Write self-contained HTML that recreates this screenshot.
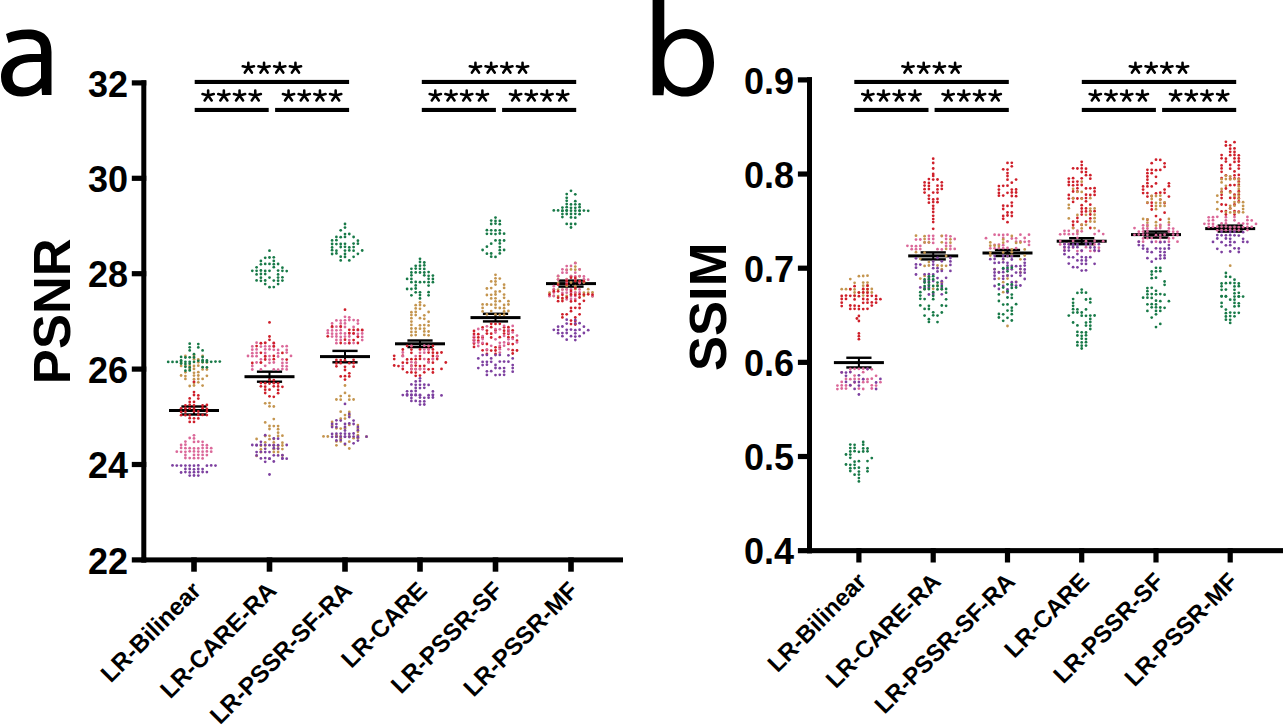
<!DOCTYPE html><html><head><meta charset="utf-8"><title>PSNR SSIM</title><style>
html,body{margin:0;padding:0;background:#fff;width:1283px;height:725px;overflow:hidden}
svg{display:block}text{font-family:"Liberation Sans",sans-serif}
.t{font-weight:bold;font-size:36px}.ax{font-weight:bold;font-size:52.5px}.st{font-size:40px}.xl{font-weight:bold;font-size:24.3px}.xr{font-weight:bold;font-size:24px}
</style></head><body>
<svg width="1283" height="725" viewBox="0 0 1283 725">
<path fill="#000" fill-rule="evenodd" d="M6,34 C12,31 20,29.4 28,29.4 C44,29.4 51.5,37 51.5,52 L51.5,95 L42,95 L41.5,88 C37,93 30,96.5 22,96.5 C9,96.5 1,89 1,77 C1,62 14,54 34,54 L41,54 L41,51 C41,42 36,39 27,39 C20,39 14,40.5 8.5,43 Z M41,62 L34,62 C19,62 12.5,68 12.5,77 C12.5,84 17,87.5 24,87.5 C32,87.5 38,83 41,78 Z"/>
<path fill="#000" fill-rule="evenodd" d="M652.6,0 L664.3,0 L664.3,40 C669,33 677,29 686,29 C703,29 714,43 714,62.5 C714,83 702,96.6 685,96.6 C676,96.6 668,92 664.3,86 L663.5,95.2 L652.6,95.2 Z M664.3,63 C664.3,77 672,87.6 684,87.6 C696,87.6 703,77 703,63 C703,48 696,38.6 684,38.6 C672,38.6 664.3,49 664.3,63 Z"/>
<rect x="141.30" y="80.30" width="5.00" height="482.10" fill="#000"/>
<rect x="141.30" y="557.40" width="481.70" height="5.00" fill="#000"/>
<rect x="131.80" y="80.30" width="14.50" height="5.20" fill="#000"/>
<text class="t" x="128" y="96.5" text-anchor="end">32</text>
<rect x="131.80" y="175.70" width="14.50" height="5.20" fill="#000"/>
<text class="t" x="128" y="191.9" text-anchor="end">30</text>
<rect x="131.80" y="271.10" width="14.50" height="5.20" fill="#000"/>
<text class="t" x="128" y="287.3" text-anchor="end">28</text>
<rect x="131.80" y="366.50" width="14.50" height="5.20" fill="#000"/>
<text class="t" x="128" y="382.7" text-anchor="end">26</text>
<rect x="131.80" y="461.90" width="14.50" height="5.20" fill="#000"/>
<text class="t" x="128" y="478.1" text-anchor="end">24</text>
<rect x="131.80" y="557.30" width="14.50" height="5.20" fill="#000"/>
<text class="t" x="128" y="573.5" text-anchor="end">22</text>
<rect x="191.20" y="557.40" width="5.60" height="14.30" fill="#000"/>
<rect x="266.70" y="557.40" width="5.60" height="14.30" fill="#000"/>
<rect x="342.20" y="557.40" width="5.60" height="14.30" fill="#000"/>
<rect x="417.20" y="557.40" width="5.60" height="14.30" fill="#000"/>
<rect x="492.70" y="557.40" width="5.60" height="14.30" fill="#000"/>
<rect x="568.20" y="557.40" width="5.60" height="14.30" fill="#000"/>
<rect x="807.00" y="77.20" width="5.00" height="476.00" fill="#000"/>
<rect x="807.00" y="548.10" width="476.00" height="5.10" fill="#000"/>
<rect x="797.90" y="77.30" width="14.10" height="5.20" fill="#000"/>
<text class="t" x="794" y="93.5" text-anchor="end">0.9</text>
<rect x="797.90" y="171.45" width="14.10" height="5.20" fill="#000"/>
<text class="t" x="794" y="187.6" text-anchor="end">0.8</text>
<rect x="797.90" y="265.60" width="14.10" height="5.20" fill="#000"/>
<text class="t" x="794" y="281.8" text-anchor="end">0.7</text>
<rect x="797.90" y="359.75" width="14.10" height="5.20" fill="#000"/>
<text class="t" x="794" y="376.0" text-anchor="end">0.6</text>
<rect x="797.90" y="453.90" width="14.10" height="5.20" fill="#000"/>
<text class="t" x="794" y="470.1" text-anchor="end">0.5</text>
<rect x="797.90" y="548.05" width="14.10" height="5.20" fill="#000"/>
<text class="t" x="794" y="564.2" text-anchor="end">0.4</text>
<rect x="856.30" y="548.10" width="5.20" height="14.40" fill="#000"/>
<rect x="930.60" y="548.10" width="5.20" height="14.40" fill="#000"/>
<rect x="1004.90" y="548.10" width="5.20" height="14.40" fill="#000"/>
<rect x="1079.10" y="548.10" width="5.20" height="14.40" fill="#000"/>
<rect x="1153.40" y="548.10" width="5.20" height="14.40" fill="#000"/>
<rect x="1227.60" y="548.10" width="5.20" height="14.40" fill="#000"/>
<text class="ax" transform="translate(69.6,311.2) rotate(-90)" text-anchor="middle">PSNR</text>
<text class="ax" transform="translate(725.5,306.8) rotate(-90)" text-anchor="middle">SSIM</text>
<rect x="194.70" y="79.90" width="154.40" height="4.10" fill="#000"/>
<rect x="194.70" y="107.90" width="74.00" height="4.10" fill="#000"/>
<rect x="275.10" y="107.90" width="74.00" height="4.10" fill="#000"/>
<rect x="421.80" y="79.90" width="154.40" height="4.10" fill="#000"/>
<rect x="421.80" y="107.90" width="74.10" height="4.10" fill="#000"/>
<rect x="502.10" y="107.90" width="74.10" height="4.10" fill="#000"/>
<rect x="854.30" y="79.90" width="154.50" height="4.10" fill="#000"/>
<rect x="854.30" y="107.90" width="74.20" height="4.10" fill="#000"/>
<rect x="934.60" y="107.90" width="74.20" height="4.10" fill="#000"/>
<rect x="1081.80" y="79.90" width="154.40" height="4.10" fill="#000"/>
<rect x="1081.80" y="107.90" width="74.10" height="4.10" fill="#000"/>
<rect x="1162.10" y="107.90" width="74.10" height="4.10" fill="#000"/>
<path d="M248.35,67.60l0,-4.8M248.35,67.60l-5.6,-1.3M248.35,67.60l5.6,-1.3M248.35,67.60l-3.5,5M248.35,67.60l3.5,5M264.05,67.60l0,-4.8M264.05,67.60l-5.6,-1.3M264.05,67.60l5.6,-1.3M264.05,67.60l-3.5,5M264.05,67.60l3.5,5M279.75,67.60l0,-4.8M279.75,67.60l-5.6,-1.3M279.75,67.60l5.6,-1.3M279.75,67.60l-3.5,5M279.75,67.60l3.5,5M295.45,67.60l0,-4.8M295.45,67.60l-5.6,-1.3M295.45,67.60l5.6,-1.3M295.45,67.60l-3.5,5M295.45,67.60l3.5,5M208.15,95.40l0,-4.8M208.15,95.40l-5.6,-1.3M208.15,95.40l5.6,-1.3M208.15,95.40l-3.5,5M208.15,95.40l3.5,5M223.85,95.40l0,-4.8M223.85,95.40l-5.6,-1.3M223.85,95.40l5.6,-1.3M223.85,95.40l-3.5,5M223.85,95.40l3.5,5M239.55,95.40l0,-4.8M239.55,95.40l-5.6,-1.3M239.55,95.40l5.6,-1.3M239.55,95.40l-3.5,5M239.55,95.40l3.5,5M255.25,95.40l0,-4.8M255.25,95.40l-5.6,-1.3M255.25,95.40l5.6,-1.3M255.25,95.40l-3.5,5M255.25,95.40l3.5,5M288.55,95.40l0,-4.8M288.55,95.40l-5.6,-1.3M288.55,95.40l5.6,-1.3M288.55,95.40l-3.5,5M288.55,95.40l3.5,5M304.25,95.40l0,-4.8M304.25,95.40l-5.6,-1.3M304.25,95.40l5.6,-1.3M304.25,95.40l-3.5,5M304.25,95.40l3.5,5M319.95,95.40l0,-4.8M319.95,95.40l-5.6,-1.3M319.95,95.40l5.6,-1.3M319.95,95.40l-3.5,5M319.95,95.40l3.5,5M335.65,95.40l0,-4.8M335.65,95.40l-5.6,-1.3M335.65,95.40l5.6,-1.3M335.65,95.40l-3.5,5M335.65,95.40l3.5,5M475.45,67.60l0,-4.8M475.45,67.60l-5.6,-1.3M475.45,67.60l5.6,-1.3M475.45,67.60l-3.5,5M475.45,67.60l3.5,5M491.15,67.60l0,-4.8M491.15,67.60l-5.6,-1.3M491.15,67.60l5.6,-1.3M491.15,67.60l-3.5,5M491.15,67.60l3.5,5M506.85,67.60l0,-4.8M506.85,67.60l-5.6,-1.3M506.85,67.60l5.6,-1.3M506.85,67.60l-3.5,5M506.85,67.60l3.5,5M522.55,67.60l0,-4.8M522.55,67.60l-5.6,-1.3M522.55,67.60l5.6,-1.3M522.55,67.60l-3.5,5M522.55,67.60l3.5,5M435.30,95.40l0,-4.8M435.30,95.40l-5.6,-1.3M435.30,95.40l5.6,-1.3M435.30,95.40l-3.5,5M435.30,95.40l3.5,5M451.00,95.40l0,-4.8M451.00,95.40l-5.6,-1.3M451.00,95.40l5.6,-1.3M451.00,95.40l-3.5,5M451.00,95.40l3.5,5M466.70,95.40l0,-4.8M466.70,95.40l-5.6,-1.3M466.70,95.40l5.6,-1.3M466.70,95.40l-3.5,5M466.70,95.40l3.5,5M482.40,95.40l0,-4.8M482.40,95.40l-5.6,-1.3M482.40,95.40l5.6,-1.3M482.40,95.40l-3.5,5M482.40,95.40l3.5,5M515.60,95.40l0,-4.8M515.60,95.40l-5.6,-1.3M515.60,95.40l5.6,-1.3M515.60,95.40l-3.5,5M515.60,95.40l3.5,5M531.30,95.40l0,-4.8M531.30,95.40l-5.6,-1.3M531.30,95.40l5.6,-1.3M531.30,95.40l-3.5,5M531.30,95.40l3.5,5M547.00,95.40l0,-4.8M547.00,95.40l-5.6,-1.3M547.00,95.40l5.6,-1.3M547.00,95.40l-3.5,5M547.00,95.40l3.5,5M562.70,95.40l0,-4.8M562.70,95.40l-5.6,-1.3M562.70,95.40l5.6,-1.3M562.70,95.40l-3.5,5M562.70,95.40l3.5,5M908.00,67.60l0,-4.8M908.00,67.60l-5.6,-1.3M908.00,67.60l5.6,-1.3M908.00,67.60l-3.5,5M908.00,67.60l3.5,5M923.70,67.60l0,-4.8M923.70,67.60l-5.6,-1.3M923.70,67.60l5.6,-1.3M923.70,67.60l-3.5,5M923.70,67.60l3.5,5M939.40,67.60l0,-4.8M939.40,67.60l-5.6,-1.3M939.40,67.60l5.6,-1.3M939.40,67.60l-3.5,5M939.40,67.60l3.5,5M955.10,67.60l0,-4.8M955.10,67.60l-5.6,-1.3M955.10,67.60l5.6,-1.3M955.10,67.60l-3.5,5M955.10,67.60l3.5,5M867.85,95.40l0,-4.8M867.85,95.40l-5.6,-1.3M867.85,95.40l5.6,-1.3M867.85,95.40l-3.5,5M867.85,95.40l3.5,5M883.55,95.40l0,-4.8M883.55,95.40l-5.6,-1.3M883.55,95.40l5.6,-1.3M883.55,95.40l-3.5,5M883.55,95.40l3.5,5M899.25,95.40l0,-4.8M899.25,95.40l-5.6,-1.3M899.25,95.40l5.6,-1.3M899.25,95.40l-3.5,5M899.25,95.40l3.5,5M914.95,95.40l0,-4.8M914.95,95.40l-5.6,-1.3M914.95,95.40l5.6,-1.3M914.95,95.40l-3.5,5M914.95,95.40l3.5,5M948.15,95.40l0,-4.8M948.15,95.40l-5.6,-1.3M948.15,95.40l5.6,-1.3M948.15,95.40l-3.5,5M948.15,95.40l3.5,5M963.85,95.40l0,-4.8M963.85,95.40l-5.6,-1.3M963.85,95.40l5.6,-1.3M963.85,95.40l-3.5,5M963.85,95.40l3.5,5M979.55,95.40l0,-4.8M979.55,95.40l-5.6,-1.3M979.55,95.40l5.6,-1.3M979.55,95.40l-3.5,5M979.55,95.40l3.5,5M995.25,95.40l0,-4.8M995.25,95.40l-5.6,-1.3M995.25,95.40l5.6,-1.3M995.25,95.40l-3.5,5M995.25,95.40l3.5,5M1135.45,67.60l0,-4.8M1135.45,67.60l-5.6,-1.3M1135.45,67.60l5.6,-1.3M1135.45,67.60l-3.5,5M1135.45,67.60l3.5,5M1151.15,67.60l0,-4.8M1151.15,67.60l-5.6,-1.3M1151.15,67.60l5.6,-1.3M1151.15,67.60l-3.5,5M1151.15,67.60l3.5,5M1166.85,67.60l0,-4.8M1166.85,67.60l-5.6,-1.3M1166.85,67.60l5.6,-1.3M1166.85,67.60l-3.5,5M1166.85,67.60l3.5,5M1182.55,67.60l0,-4.8M1182.55,67.60l-5.6,-1.3M1182.55,67.60l5.6,-1.3M1182.55,67.60l-3.5,5M1182.55,67.60l3.5,5M1095.30,95.40l0,-4.8M1095.30,95.40l-5.6,-1.3M1095.30,95.40l5.6,-1.3M1095.30,95.40l-3.5,5M1095.30,95.40l3.5,5M1111.00,95.40l0,-4.8M1111.00,95.40l-5.6,-1.3M1111.00,95.40l5.6,-1.3M1111.00,95.40l-3.5,5M1111.00,95.40l3.5,5M1126.70,95.40l0,-4.8M1126.70,95.40l-5.6,-1.3M1126.70,95.40l5.6,-1.3M1126.70,95.40l-3.5,5M1126.70,95.40l3.5,5M1142.40,95.40l0,-4.8M1142.40,95.40l-5.6,-1.3M1142.40,95.40l5.6,-1.3M1142.40,95.40l-3.5,5M1142.40,95.40l3.5,5M1175.60,95.40l0,-4.8M1175.60,95.40l-5.6,-1.3M1175.60,95.40l5.6,-1.3M1175.60,95.40l-3.5,5M1175.60,95.40l3.5,5M1191.30,95.40l0,-4.8M1191.30,95.40l-5.6,-1.3M1191.30,95.40l5.6,-1.3M1191.30,95.40l-3.5,5M1191.30,95.40l3.5,5M1207.00,95.40l0,-4.8M1207.00,95.40l-5.6,-1.3M1207.00,95.40l5.6,-1.3M1207.00,95.40l-3.5,5M1207.00,95.40l3.5,5M1222.70,95.40l0,-4.8M1222.70,95.40l-5.6,-1.3M1222.70,95.40l5.6,-1.3M1222.70,95.40l-3.5,5M1222.70,95.40l3.5,5" stroke="#000" stroke-width="2.6" stroke-linecap="round" fill="none"/>
<rect x="169.00" y="409.00" width="50.00" height="3.00" fill="#000"/>
<rect x="181.40" y="405.30" width="25.20" height="2.40" fill="#000"/>
<rect x="181.40" y="413.30" width="25.20" height="2.40" fill="#000"/>
<rect x="193.00" y="406.50" width="2.00" height="8.00" fill="#000"/>
<rect x="244.50" y="375.20" width="50.00" height="3.00" fill="#000"/>
<rect x="256.90" y="370.50" width="25.20" height="2.40" fill="#000"/>
<rect x="256.90" y="380.50" width="25.20" height="2.40" fill="#000"/>
<rect x="268.50" y="371.70" width="2.00" height="10.00" fill="#000"/>
<rect x="320.00" y="355.10" width="50.00" height="3.00" fill="#000"/>
<rect x="332.40" y="349.70" width="25.20" height="2.40" fill="#000"/>
<rect x="332.40" y="361.10" width="25.20" height="2.40" fill="#000"/>
<rect x="344.00" y="350.90" width="2.00" height="11.40" fill="#000"/>
<rect x="395.00" y="342.30" width="50.00" height="3.00" fill="#000"/>
<rect x="407.40" y="339.30" width="25.20" height="2.40" fill="#000"/>
<rect x="407.40" y="345.90" width="25.20" height="2.40" fill="#000"/>
<rect x="419.00" y="340.50" width="2.00" height="6.60" fill="#000"/>
<rect x="470.50" y="316.10" width="50.00" height="3.00" fill="#000"/>
<rect x="482.90" y="312.60" width="25.20" height="2.40" fill="#000"/>
<rect x="482.90" y="320.20" width="25.20" height="2.40" fill="#000"/>
<rect x="494.50" y="313.80" width="2.00" height="7.60" fill="#000"/>
<rect x="546.00" y="282.10" width="50.00" height="3.00" fill="#000"/>
<rect x="558.40" y="279.40" width="25.20" height="2.40" fill="#000"/>
<rect x="558.40" y="285.40" width="25.20" height="2.40" fill="#000"/>
<rect x="570.00" y="280.60" width="2.00" height="6.00" fill="#000"/>
<rect x="833.90" y="361.10" width="50.00" height="3.00" fill="#000"/>
<rect x="846.30" y="356.55" width="25.20" height="2.40" fill="#000"/>
<rect x="846.30" y="366.25" width="25.20" height="2.40" fill="#000"/>
<rect x="857.90" y="357.75" width="2.00" height="9.70" fill="#000"/>
<rect x="908.20" y="254.40" width="50.00" height="3.00" fill="#000"/>
<rect x="920.60" y="251.20" width="25.20" height="2.40" fill="#000"/>
<rect x="920.60" y="258.20" width="25.20" height="2.40" fill="#000"/>
<rect x="932.20" y="252.40" width="2.00" height="7.00" fill="#000"/>
<rect x="982.50" y="251.50" width="50.00" height="3.00" fill="#000"/>
<rect x="994.90" y="248.80" width="25.20" height="2.40" fill="#000"/>
<rect x="994.90" y="254.80" width="25.20" height="2.40" fill="#000"/>
<rect x="1006.50" y="250.00" width="2.00" height="6.00" fill="#000"/>
<rect x="1056.70" y="239.70" width="50.00" height="3.00" fill="#000"/>
<rect x="1069.10" y="237.00" width="25.20" height="2.40" fill="#000"/>
<rect x="1069.10" y="243.00" width="25.20" height="2.40" fill="#000"/>
<rect x="1080.70" y="238.20" width="2.00" height="6.00" fill="#000"/>
<rect x="1131.00" y="233.10" width="50.00" height="3.00" fill="#000"/>
<rect x="1143.40" y="230.40" width="25.20" height="2.40" fill="#000"/>
<rect x="1143.40" y="236.40" width="25.20" height="2.40" fill="#000"/>
<rect x="1155.00" y="231.60" width="2.00" height="6.00" fill="#000"/>
<rect x="1205.20" y="227.10" width="50.00" height="3.00" fill="#000"/>
<rect x="1217.60" y="224.40" width="25.20" height="2.40" fill="#000"/>
<rect x="1217.60" y="230.40" width="25.20" height="2.40" fill="#000"/>
<rect x="1229.20" y="225.60" width="2.00" height="6.00" fill="#000"/>
<g>
<circle cx="185.4" cy="356.0" r="1.38" fill="#c4954f"/>
<circle cx="194.0" cy="356.0" r="1.38" fill="#c4954f"/>
<circle cx="202.6" cy="356.0" r="1.38" fill="#c4954f"/>
<circle cx="194.0" cy="359.2" r="1.38" fill="#c4954f"/>
<circle cx="198.3" cy="359.5" r="1.38" fill="#c4954f"/>
<circle cx="181.1" cy="362.9" r="1.38" fill="#c4954f"/>
<circle cx="198.3" cy="362.3" r="1.38" fill="#c4954f"/>
<circle cx="202.6" cy="362.3" r="1.38" fill="#c4954f"/>
<circle cx="206.9" cy="362.4" r="1.38" fill="#c4954f"/>
<circle cx="181.1" cy="365.9" r="1.38" fill="#c4954f"/>
<circle cx="185.4" cy="366.1" r="1.38" fill="#c4954f"/>
<circle cx="189.7" cy="366.0" r="1.38" fill="#c4954f"/>
<circle cx="194.0" cy="366.0" r="1.38" fill="#c4954f"/>
<circle cx="198.3" cy="365.7" r="1.38" fill="#c4954f"/>
<circle cx="189.7" cy="369.0" r="1.38" fill="#c4954f"/>
<circle cx="194.0" cy="368.9" r="1.38" fill="#c4954f"/>
<circle cx="202.6" cy="369.4" r="1.38" fill="#c4954f"/>
<circle cx="206.9" cy="369.5" r="1.38" fill="#c4954f"/>
<circle cx="185.4" cy="372.3" r="1.38" fill="#c4954f"/>
<circle cx="194.0" cy="372.8" r="1.38" fill="#c4954f"/>
<circle cx="198.3" cy="372.2" r="1.38" fill="#c4954f"/>
<circle cx="181.1" cy="375.5" r="1.38" fill="#c4954f"/>
<circle cx="185.4" cy="376.1" r="1.38" fill="#c4954f"/>
<circle cx="194.0" cy="375.6" r="1.38" fill="#c4954f"/>
<circle cx="198.3" cy="375.5" r="1.38" fill="#c4954f"/>
<circle cx="206.9" cy="375.8" r="1.38" fill="#c4954f"/>
<circle cx="185.4" cy="378.9" r="1.38" fill="#c4954f"/>
<circle cx="194.0" cy="379.2" r="1.38" fill="#c4954f"/>
<circle cx="198.3" cy="379.0" r="1.38" fill="#c4954f"/>
<circle cx="202.6" cy="378.9" r="1.38" fill="#c4954f"/>
<circle cx="194.0" cy="382.7" r="1.38" fill="#c4954f"/>
<circle cx="198.3" cy="382.3" r="1.38" fill="#c4954f"/>
<circle cx="189.7" cy="386.0" r="1.38" fill="#c4954f"/>
<circle cx="194.0" cy="385.5" r="1.38" fill="#c4954f"/>
<circle cx="202.6" cy="385.6" r="1.38" fill="#c4954f"/>
<circle cx="189.7" cy="343.7" r="1.38" fill="#187a48"/>
<circle cx="198.3" cy="344.1" r="1.38" fill="#187a48"/>
<circle cx="189.7" cy="347.3" r="1.38" fill="#187a48"/>
<circle cx="198.3" cy="347.4" r="1.38" fill="#187a48"/>
<circle cx="189.7" cy="350.4" r="1.38" fill="#187a48"/>
<circle cx="202.6" cy="350.4" r="1.38" fill="#187a48"/>
<circle cx="194.0" cy="354.2" r="1.38" fill="#187a48"/>
<circle cx="181.1" cy="356.9" r="1.38" fill="#187a48"/>
<circle cx="185.4" cy="357.5" r="1.38" fill="#187a48"/>
<circle cx="189.7" cy="357.3" r="1.38" fill="#187a48"/>
<circle cx="194.0" cy="357.4" r="1.38" fill="#187a48"/>
<circle cx="202.6" cy="357.0" r="1.38" fill="#187a48"/>
<circle cx="181.1" cy="360.3" r="1.38" fill="#187a48"/>
<circle cx="198.3" cy="360.8" r="1.38" fill="#187a48"/>
<circle cx="202.6" cy="360.2" r="1.38" fill="#187a48"/>
<circle cx="206.9" cy="360.5" r="1.38" fill="#187a48"/>
<circle cx="181.1" cy="363.6" r="1.38" fill="#187a48"/>
<circle cx="185.4" cy="363.9" r="1.38" fill="#187a48"/>
<circle cx="189.7" cy="363.7" r="1.38" fill="#187a48"/>
<circle cx="185.4" cy="366.8" r="1.38" fill="#187a48"/>
<circle cx="189.7" cy="367.4" r="1.38" fill="#187a48"/>
<circle cx="202.6" cy="367.2" r="1.38" fill="#187a48"/>
<circle cx="206.9" cy="367.3" r="1.38" fill="#187a48"/>
<circle cx="185.4" cy="370.7" r="1.38" fill="#187a48"/>
<circle cx="189.7" cy="370.4" r="1.38" fill="#187a48"/>
<circle cx="168.2" cy="361.9" r="1.38" fill="#187a48"/>
<circle cx="172.5" cy="361.9" r="1.38" fill="#187a48"/>
<circle cx="176.8" cy="361.9" r="1.38" fill="#187a48"/>
<circle cx="181.1" cy="361.8" r="1.38" fill="#187a48"/>
<circle cx="185.4" cy="361.8" r="1.38" fill="#187a48"/>
<circle cx="189.7" cy="361.8" r="1.38" fill="#187a48"/>
<circle cx="194.0" cy="361.9" r="1.38" fill="#187a48"/>
<circle cx="202.6" cy="361.9" r="1.38" fill="#187a48"/>
<circle cx="206.9" cy="361.9" r="1.38" fill="#187a48"/>
<circle cx="211.2" cy="361.8" r="1.38" fill="#187a48"/>
<circle cx="215.5" cy="361.6" r="1.38" fill="#187a48"/>
<circle cx="219.8" cy="361.6" r="1.38" fill="#187a48"/>
<circle cx="194.0" cy="381.8" r="1.38" fill="#cf1f2a"/>
<circle cx="194.0" cy="392.1" r="1.38" fill="#cf1f2a"/>
<circle cx="194.0" cy="395.0" r="1.38" fill="#cf1f2a"/>
<circle cx="198.3" cy="395.4" r="1.38" fill="#cf1f2a"/>
<circle cx="189.7" cy="398.4" r="1.38" fill="#cf1f2a"/>
<circle cx="198.3" cy="398.6" r="1.38" fill="#cf1f2a"/>
<circle cx="189.7" cy="402.0" r="1.38" fill="#cf1f2a"/>
<circle cx="194.0" cy="401.9" r="1.38" fill="#cf1f2a"/>
<circle cx="185.4" cy="405.3" r="1.38" fill="#cf1f2a"/>
<circle cx="189.7" cy="404.9" r="1.38" fill="#cf1f2a"/>
<circle cx="194.0" cy="405.4" r="1.38" fill="#cf1f2a"/>
<circle cx="202.6" cy="405.5" r="1.38" fill="#cf1f2a"/>
<circle cx="206.9" cy="405.0" r="1.38" fill="#cf1f2a"/>
<circle cx="181.1" cy="408.3" r="1.38" fill="#cf1f2a"/>
<circle cx="185.4" cy="408.4" r="1.38" fill="#cf1f2a"/>
<circle cx="189.7" cy="408.5" r="1.38" fill="#cf1f2a"/>
<circle cx="194.0" cy="408.7" r="1.38" fill="#cf1f2a"/>
<circle cx="202.6" cy="408.2" r="1.38" fill="#cf1f2a"/>
<circle cx="206.9" cy="408.8" r="1.38" fill="#cf1f2a"/>
<circle cx="181.1" cy="411.9" r="1.38" fill="#cf1f2a"/>
<circle cx="185.4" cy="411.7" r="1.38" fill="#cf1f2a"/>
<circle cx="194.0" cy="411.5" r="1.38" fill="#cf1f2a"/>
<circle cx="198.3" cy="411.5" r="1.38" fill="#cf1f2a"/>
<circle cx="206.9" cy="411.5" r="1.38" fill="#cf1f2a"/>
<circle cx="181.1" cy="415.2" r="1.38" fill="#cf1f2a"/>
<circle cx="185.4" cy="415.2" r="1.38" fill="#cf1f2a"/>
<circle cx="189.7" cy="415.3" r="1.38" fill="#cf1f2a"/>
<circle cx="198.3" cy="414.9" r="1.38" fill="#cf1f2a"/>
<circle cx="202.6" cy="414.9" r="1.38" fill="#cf1f2a"/>
<circle cx="206.9" cy="415.1" r="1.38" fill="#cf1f2a"/>
<circle cx="189.7" cy="418.2" r="1.38" fill="#cf1f2a"/>
<circle cx="194.0" cy="418.3" r="1.38" fill="#cf1f2a"/>
<circle cx="198.3" cy="418.4" r="1.38" fill="#cf1f2a"/>
<circle cx="189.7" cy="421.9" r="1.38" fill="#cf1f2a"/>
<circle cx="194.0" cy="421.9" r="1.38" fill="#cf1f2a"/>
<circle cx="194.0" cy="435.3" r="1.38" fill="#db6899"/>
<circle cx="189.7" cy="438.0" r="1.38" fill="#db6899"/>
<circle cx="194.0" cy="438.4" r="1.38" fill="#db6899"/>
<circle cx="185.4" cy="441.6" r="1.38" fill="#db6899"/>
<circle cx="194.0" cy="441.9" r="1.38" fill="#db6899"/>
<circle cx="198.3" cy="441.7" r="1.38" fill="#db6899"/>
<circle cx="202.6" cy="441.8" r="1.38" fill="#db6899"/>
<circle cx="181.1" cy="445.0" r="1.38" fill="#db6899"/>
<circle cx="185.4" cy="444.7" r="1.38" fill="#db6899"/>
<circle cx="202.6" cy="445.1" r="1.38" fill="#db6899"/>
<circle cx="206.9" cy="445.2" r="1.38" fill="#db6899"/>
<circle cx="181.1" cy="447.9" r="1.38" fill="#db6899"/>
<circle cx="185.4" cy="448.2" r="1.38" fill="#db6899"/>
<circle cx="189.7" cy="448.2" r="1.38" fill="#db6899"/>
<circle cx="194.0" cy="448.4" r="1.38" fill="#db6899"/>
<circle cx="198.3" cy="448.4" r="1.38" fill="#db6899"/>
<circle cx="202.6" cy="448.1" r="1.38" fill="#db6899"/>
<circle cx="206.9" cy="447.9" r="1.38" fill="#db6899"/>
<circle cx="211.2" cy="448.2" r="1.38" fill="#db6899"/>
<circle cx="176.8" cy="451.7" r="1.38" fill="#db6899"/>
<circle cx="181.1" cy="451.8" r="1.38" fill="#db6899"/>
<circle cx="185.4" cy="451.8" r="1.38" fill="#db6899"/>
<circle cx="189.7" cy="451.3" r="1.38" fill="#db6899"/>
<circle cx="194.0" cy="451.4" r="1.38" fill="#db6899"/>
<circle cx="198.3" cy="451.6" r="1.38" fill="#db6899"/>
<circle cx="202.6" cy="451.7" r="1.38" fill="#db6899"/>
<circle cx="206.9" cy="451.4" r="1.38" fill="#db6899"/>
<circle cx="211.2" cy="451.7" r="1.38" fill="#db6899"/>
<circle cx="185.4" cy="455.0" r="1.38" fill="#db6899"/>
<circle cx="194.0" cy="454.9" r="1.38" fill="#db6899"/>
<circle cx="198.3" cy="454.8" r="1.38" fill="#db6899"/>
<circle cx="202.6" cy="454.9" r="1.38" fill="#db6899"/>
<circle cx="206.9" cy="455.1" r="1.38" fill="#db6899"/>
<circle cx="185.4" cy="458.0" r="1.38" fill="#db6899"/>
<circle cx="189.7" cy="458.1" r="1.38" fill="#db6899"/>
<circle cx="194.0" cy="458.2" r="1.38" fill="#db6899"/>
<circle cx="198.3" cy="458.1" r="1.38" fill="#db6899"/>
<circle cx="202.6" cy="458.4" r="1.38" fill="#db6899"/>
<circle cx="185.4" cy="469.0" r="1.38" fill="#7d40a0"/>
<circle cx="189.7" cy="469.0" r="1.38" fill="#7d40a0"/>
<circle cx="194.0" cy="469.3" r="1.38" fill="#7d40a0"/>
<circle cx="198.3" cy="468.9" r="1.38" fill="#7d40a0"/>
<circle cx="202.6" cy="469.1" r="1.38" fill="#7d40a0"/>
<circle cx="181.1" cy="472.5" r="1.38" fill="#7d40a0"/>
<circle cx="185.4" cy="472.1" r="1.38" fill="#7d40a0"/>
<circle cx="189.7" cy="472.4" r="1.38" fill="#7d40a0"/>
<circle cx="194.0" cy="472.2" r="1.38" fill="#7d40a0"/>
<circle cx="198.3" cy="472.0" r="1.38" fill="#7d40a0"/>
<circle cx="202.6" cy="472.0" r="1.38" fill="#7d40a0"/>
<circle cx="206.9" cy="472.1" r="1.38" fill="#7d40a0"/>
<circle cx="189.7" cy="475.6" r="1.38" fill="#7d40a0"/>
<circle cx="194.0" cy="475.5" r="1.38" fill="#7d40a0"/>
<circle cx="198.3" cy="475.6" r="1.38" fill="#7d40a0"/>
<circle cx="172.5" cy="465.4" r="1.38" fill="#7d40a0"/>
<circle cx="176.8" cy="465.6" r="1.38" fill="#7d40a0"/>
<circle cx="181.1" cy="465.6" r="1.38" fill="#7d40a0"/>
<circle cx="185.4" cy="465.6" r="1.38" fill="#7d40a0"/>
<circle cx="189.7" cy="465.6" r="1.38" fill="#7d40a0"/>
<circle cx="194.0" cy="465.7" r="1.38" fill="#7d40a0"/>
<circle cx="198.3" cy="465.4" r="1.38" fill="#7d40a0"/>
<circle cx="206.9" cy="465.7" r="1.38" fill="#7d40a0"/>
<circle cx="211.2" cy="465.4" r="1.38" fill="#7d40a0"/>
<circle cx="215.5" cy="465.6" r="1.38" fill="#7d40a0"/>
<circle cx="269.5" cy="250.7" r="1.38" fill="#187a48"/>
<circle cx="265.2" cy="257.8" r="1.38" fill="#187a48"/>
<circle cx="269.5" cy="257.5" r="1.38" fill="#187a48"/>
<circle cx="273.8" cy="257.3" r="1.38" fill="#187a48"/>
<circle cx="260.9" cy="261.0" r="1.38" fill="#187a48"/>
<circle cx="273.8" cy="260.9" r="1.38" fill="#187a48"/>
<circle cx="260.9" cy="264.3" r="1.38" fill="#187a48"/>
<circle cx="265.2" cy="263.9" r="1.38" fill="#187a48"/>
<circle cx="269.5" cy="263.9" r="1.38" fill="#187a48"/>
<circle cx="273.8" cy="264.2" r="1.38" fill="#187a48"/>
<circle cx="278.1" cy="264.0" r="1.38" fill="#187a48"/>
<circle cx="256.6" cy="267.3" r="1.38" fill="#187a48"/>
<circle cx="273.8" cy="267.2" r="1.38" fill="#187a48"/>
<circle cx="282.4" cy="267.7" r="1.38" fill="#187a48"/>
<circle cx="252.3" cy="270.8" r="1.38" fill="#187a48"/>
<circle cx="256.6" cy="270.8" r="1.38" fill="#187a48"/>
<circle cx="260.9" cy="270.5" r="1.38" fill="#187a48"/>
<circle cx="265.2" cy="271.0" r="1.38" fill="#187a48"/>
<circle cx="269.5" cy="270.8" r="1.38" fill="#187a48"/>
<circle cx="278.1" cy="270.6" r="1.38" fill="#187a48"/>
<circle cx="282.4" cy="270.8" r="1.38" fill="#187a48"/>
<circle cx="286.7" cy="271.1" r="1.38" fill="#187a48"/>
<circle cx="256.6" cy="274.4" r="1.38" fill="#187a48"/>
<circle cx="260.9" cy="274.0" r="1.38" fill="#187a48"/>
<circle cx="265.2" cy="274.1" r="1.38" fill="#187a48"/>
<circle cx="278.1" cy="274.4" r="1.38" fill="#187a48"/>
<circle cx="260.9" cy="277.7" r="1.38" fill="#187a48"/>
<circle cx="269.5" cy="277.6" r="1.38" fill="#187a48"/>
<circle cx="278.1" cy="277.6" r="1.38" fill="#187a48"/>
<circle cx="282.4" cy="277.3" r="1.38" fill="#187a48"/>
<circle cx="256.6" cy="280.4" r="1.38" fill="#187a48"/>
<circle cx="260.9" cy="280.8" r="1.38" fill="#187a48"/>
<circle cx="265.2" cy="280.5" r="1.38" fill="#187a48"/>
<circle cx="273.8" cy="280.6" r="1.38" fill="#187a48"/>
<circle cx="278.1" cy="280.7" r="1.38" fill="#187a48"/>
<circle cx="282.4" cy="280.6" r="1.38" fill="#187a48"/>
<circle cx="265.2" cy="284.1" r="1.38" fill="#187a48"/>
<circle cx="278.1" cy="284.1" r="1.38" fill="#187a48"/>
<circle cx="269.5" cy="287.2" r="1.38" fill="#187a48"/>
<circle cx="273.8" cy="287.1" r="1.38" fill="#187a48"/>
<circle cx="256.6" cy="342.7" r="1.38" fill="#db6899"/>
<circle cx="260.9" cy="343.3" r="1.38" fill="#db6899"/>
<circle cx="265.2" cy="343.0" r="1.38" fill="#db6899"/>
<circle cx="273.8" cy="343.3" r="1.38" fill="#db6899"/>
<circle cx="252.3" cy="346.4" r="1.38" fill="#db6899"/>
<circle cx="260.9" cy="346.6" r="1.38" fill="#db6899"/>
<circle cx="265.2" cy="346.3" r="1.38" fill="#db6899"/>
<circle cx="269.5" cy="346.3" r="1.38" fill="#db6899"/>
<circle cx="273.8" cy="346.0" r="1.38" fill="#db6899"/>
<circle cx="282.4" cy="346.3" r="1.38" fill="#db6899"/>
<circle cx="286.7" cy="346.2" r="1.38" fill="#db6899"/>
<circle cx="252.3" cy="349.7" r="1.38" fill="#db6899"/>
<circle cx="256.6" cy="349.4" r="1.38" fill="#db6899"/>
<circle cx="265.2" cy="349.3" r="1.38" fill="#db6899"/>
<circle cx="269.5" cy="349.3" r="1.38" fill="#db6899"/>
<circle cx="273.8" cy="349.8" r="1.38" fill="#db6899"/>
<circle cx="278.1" cy="349.9" r="1.38" fill="#db6899"/>
<circle cx="286.7" cy="349.9" r="1.38" fill="#db6899"/>
<circle cx="252.3" cy="353.2" r="1.38" fill="#db6899"/>
<circle cx="256.6" cy="352.9" r="1.38" fill="#db6899"/>
<circle cx="265.2" cy="352.9" r="1.38" fill="#db6899"/>
<circle cx="278.1" cy="353.2" r="1.38" fill="#db6899"/>
<circle cx="286.7" cy="352.6" r="1.38" fill="#db6899"/>
<circle cx="248.0" cy="356.0" r="1.38" fill="#db6899"/>
<circle cx="252.3" cy="356.2" r="1.38" fill="#db6899"/>
<circle cx="256.6" cy="356.2" r="1.38" fill="#db6899"/>
<circle cx="265.2" cy="356.0" r="1.38" fill="#db6899"/>
<circle cx="269.5" cy="356.1" r="1.38" fill="#db6899"/>
<circle cx="278.1" cy="356.5" r="1.38" fill="#db6899"/>
<circle cx="291.0" cy="355.9" r="1.38" fill="#db6899"/>
<circle cx="260.9" cy="359.3" r="1.38" fill="#db6899"/>
<circle cx="269.5" cy="359.6" r="1.38" fill="#db6899"/>
<circle cx="282.4" cy="359.3" r="1.38" fill="#db6899"/>
<circle cx="256.6" cy="362.5" r="1.38" fill="#db6899"/>
<circle cx="260.9" cy="362.7" r="1.38" fill="#db6899"/>
<circle cx="269.5" cy="362.8" r="1.38" fill="#db6899"/>
<circle cx="273.8" cy="362.5" r="1.38" fill="#db6899"/>
<circle cx="282.4" cy="362.9" r="1.38" fill="#db6899"/>
<circle cx="286.7" cy="362.8" r="1.38" fill="#db6899"/>
<circle cx="252.3" cy="366.0" r="1.38" fill="#db6899"/>
<circle cx="265.2" cy="365.8" r="1.38" fill="#db6899"/>
<circle cx="282.4" cy="366.0" r="1.38" fill="#db6899"/>
<circle cx="286.7" cy="366.3" r="1.38" fill="#db6899"/>
<circle cx="252.3" cy="369.5" r="1.38" fill="#db6899"/>
<circle cx="260.9" cy="369.4" r="1.38" fill="#db6899"/>
<circle cx="273.8" cy="369.3" r="1.38" fill="#db6899"/>
<circle cx="278.1" cy="369.7" r="1.38" fill="#db6899"/>
<circle cx="282.4" cy="369.1" r="1.38" fill="#db6899"/>
<circle cx="286.7" cy="369.4" r="1.38" fill="#db6899"/>
<circle cx="260.9" cy="343.2" r="1.38" fill="#cf1f2a"/>
<circle cx="265.2" cy="342.8" r="1.38" fill="#cf1f2a"/>
<circle cx="273.8" cy="342.9" r="1.38" fill="#cf1f2a"/>
<circle cx="256.6" cy="346.1" r="1.38" fill="#cf1f2a"/>
<circle cx="273.8" cy="346.4" r="1.38" fill="#cf1f2a"/>
<circle cx="260.9" cy="352.8" r="1.38" fill="#cf1f2a"/>
<circle cx="282.4" cy="352.9" r="1.38" fill="#cf1f2a"/>
<circle cx="265.2" cy="356.4" r="1.38" fill="#cf1f2a"/>
<circle cx="273.8" cy="355.9" r="1.38" fill="#cf1f2a"/>
<circle cx="265.2" cy="359.5" r="1.38" fill="#cf1f2a"/>
<circle cx="273.8" cy="359.2" r="1.38" fill="#cf1f2a"/>
<circle cx="286.7" cy="359.6" r="1.38" fill="#cf1f2a"/>
<circle cx="252.3" cy="363.0" r="1.38" fill="#cf1f2a"/>
<circle cx="260.9" cy="362.6" r="1.38" fill="#cf1f2a"/>
<circle cx="269.5" cy="322.4" r="1.38" fill="#cf1f2a"/>
<circle cx="269.5" cy="336.5" r="1.38" fill="#cf1f2a"/>
<circle cx="269.5" cy="339.8" r="1.38" fill="#cf1f2a"/>
<circle cx="269.5" cy="379.9" r="1.38" fill="#cf1f2a"/>
<circle cx="273.8" cy="380.2" r="1.38" fill="#cf1f2a"/>
<circle cx="260.9" cy="383.1" r="1.38" fill="#cf1f2a"/>
<circle cx="265.2" cy="383.2" r="1.38" fill="#cf1f2a"/>
<circle cx="269.5" cy="383.6" r="1.38" fill="#cf1f2a"/>
<circle cx="273.8" cy="383.2" r="1.38" fill="#cf1f2a"/>
<circle cx="278.1" cy="383.4" r="1.38" fill="#cf1f2a"/>
<circle cx="260.9" cy="386.3" r="1.38" fill="#cf1f2a"/>
<circle cx="265.2" cy="386.7" r="1.38" fill="#cf1f2a"/>
<circle cx="273.8" cy="386.3" r="1.38" fill="#cf1f2a"/>
<circle cx="278.1" cy="386.4" r="1.38" fill="#cf1f2a"/>
<circle cx="282.4" cy="386.8" r="1.38" fill="#cf1f2a"/>
<circle cx="265.2" cy="389.7" r="1.38" fill="#cf1f2a"/>
<circle cx="269.5" cy="389.7" r="1.38" fill="#cf1f2a"/>
<circle cx="278.1" cy="389.9" r="1.38" fill="#cf1f2a"/>
<circle cx="265.2" cy="393.0" r="1.38" fill="#cf1f2a"/>
<circle cx="278.1" cy="393.2" r="1.38" fill="#cf1f2a"/>
<circle cx="269.5" cy="396.3" r="1.38" fill="#cf1f2a"/>
<circle cx="273.8" cy="396.8" r="1.38" fill="#cf1f2a"/>
<circle cx="265.2" cy="403.3" r="1.38" fill="#c4954f"/>
<circle cx="269.5" cy="403.1" r="1.38" fill="#c4954f"/>
<circle cx="269.5" cy="406.3" r="1.38" fill="#c4954f"/>
<circle cx="273.8" cy="406.5" r="1.38" fill="#c4954f"/>
<circle cx="273.8" cy="419.1" r="1.38" fill="#c4954f"/>
<circle cx="265.2" cy="422.4" r="1.38" fill="#c4954f"/>
<circle cx="269.5" cy="425.9" r="1.38" fill="#c4954f"/>
<circle cx="273.8" cy="426.1" r="1.38" fill="#c4954f"/>
<circle cx="278.1" cy="426.1" r="1.38" fill="#c4954f"/>
<circle cx="269.5" cy="429.0" r="1.38" fill="#c4954f"/>
<circle cx="278.1" cy="429.2" r="1.38" fill="#c4954f"/>
<circle cx="278.1" cy="432.7" r="1.38" fill="#c4954f"/>
<circle cx="265.2" cy="436.0" r="1.38" fill="#c4954f"/>
<circle cx="269.5" cy="435.8" r="1.38" fill="#c4954f"/>
<circle cx="278.1" cy="436.0" r="1.38" fill="#c4954f"/>
<circle cx="282.4" cy="435.7" r="1.38" fill="#c4954f"/>
<circle cx="256.6" cy="439.0" r="1.38" fill="#c4954f"/>
<circle cx="269.5" cy="439.2" r="1.38" fill="#c4954f"/>
<circle cx="273.8" cy="439.0" r="1.38" fill="#c4954f"/>
<circle cx="265.2" cy="442.3" r="1.38" fill="#c4954f"/>
<circle cx="273.8" cy="442.4" r="1.38" fill="#c4954f"/>
<circle cx="282.4" cy="442.7" r="1.38" fill="#c4954f"/>
<circle cx="260.9" cy="445.8" r="1.38" fill="#c4954f"/>
<circle cx="265.2" cy="445.6" r="1.38" fill="#c4954f"/>
<circle cx="273.8" cy="445.6" r="1.38" fill="#c4954f"/>
<circle cx="278.1" cy="445.8" r="1.38" fill="#c4954f"/>
<circle cx="282.4" cy="445.5" r="1.38" fill="#c4954f"/>
<circle cx="260.9" cy="449.3" r="1.38" fill="#c4954f"/>
<circle cx="273.8" cy="449.2" r="1.38" fill="#c4954f"/>
<circle cx="278.1" cy="448.7" r="1.38" fill="#c4954f"/>
<circle cx="282.4" cy="449.1" r="1.38" fill="#c4954f"/>
<circle cx="260.9" cy="452.2" r="1.38" fill="#c4954f"/>
<circle cx="273.8" cy="452.1" r="1.38" fill="#c4954f"/>
<circle cx="278.1" cy="452.0" r="1.38" fill="#c4954f"/>
<circle cx="256.6" cy="455.9" r="1.38" fill="#c4954f"/>
<circle cx="282.4" cy="455.5" r="1.38" fill="#c4954f"/>
<circle cx="265.2" cy="435.2" r="1.38" fill="#7d40a0"/>
<circle cx="273.8" cy="438.5" r="1.38" fill="#7d40a0"/>
<circle cx="278.1" cy="438.7" r="1.38" fill="#7d40a0"/>
<circle cx="260.9" cy="441.8" r="1.38" fill="#7d40a0"/>
<circle cx="256.6" cy="445.4" r="1.38" fill="#7d40a0"/>
<circle cx="269.5" cy="445.2" r="1.38" fill="#7d40a0"/>
<circle cx="273.8" cy="445.3" r="1.38" fill="#7d40a0"/>
<circle cx="265.2" cy="448.8" r="1.38" fill="#7d40a0"/>
<circle cx="273.8" cy="448.2" r="1.38" fill="#7d40a0"/>
<circle cx="278.1" cy="448.6" r="1.38" fill="#7d40a0"/>
<circle cx="256.6" cy="452.1" r="1.38" fill="#7d40a0"/>
<circle cx="260.9" cy="451.8" r="1.38" fill="#7d40a0"/>
<circle cx="265.2" cy="452.1" r="1.38" fill="#7d40a0"/>
<circle cx="269.5" cy="452.1" r="1.38" fill="#7d40a0"/>
<circle cx="256.6" cy="455.4" r="1.38" fill="#7d40a0"/>
<circle cx="273.8" cy="455.3" r="1.38" fill="#7d40a0"/>
<circle cx="278.1" cy="455.4" r="1.38" fill="#7d40a0"/>
<circle cx="282.4" cy="455.2" r="1.38" fill="#7d40a0"/>
<circle cx="260.9" cy="458.4" r="1.38" fill="#7d40a0"/>
<circle cx="265.2" cy="458.1" r="1.38" fill="#7d40a0"/>
<circle cx="269.5" cy="458.7" r="1.38" fill="#7d40a0"/>
<circle cx="282.4" cy="458.5" r="1.38" fill="#7d40a0"/>
<circle cx="265.2" cy="461.8" r="1.38" fill="#7d40a0"/>
<circle cx="273.8" cy="461.5" r="1.38" fill="#7d40a0"/>
<circle cx="252.3" cy="445.0" r="1.38" fill="#7d40a0"/>
<circle cx="256.6" cy="444.9" r="1.38" fill="#7d40a0"/>
<circle cx="260.9" cy="444.9" r="1.38" fill="#7d40a0"/>
<circle cx="265.2" cy="444.9" r="1.38" fill="#7d40a0"/>
<circle cx="273.8" cy="445.1" r="1.38" fill="#7d40a0"/>
<circle cx="278.1" cy="445.2" r="1.38" fill="#7d40a0"/>
<circle cx="286.7" cy="445.0" r="1.38" fill="#7d40a0"/>
<circle cx="269.5" cy="458.7" r="1.38" fill="#7d40a0"/>
<circle cx="282.4" cy="458.5" r="1.38" fill="#7d40a0"/>
<circle cx="286.7" cy="458.7" r="1.38" fill="#7d40a0"/>
<circle cx="269.5" cy="474.5" r="1.38" fill="#7d40a0"/>
<circle cx="345.0" cy="224.0" r="1.38" fill="#187a48"/>
<circle cx="345.0" cy="227.6" r="1.38" fill="#187a48"/>
<circle cx="340.7" cy="230.3" r="1.38" fill="#187a48"/>
<circle cx="345.0" cy="234.1" r="1.38" fill="#187a48"/>
<circle cx="349.3" cy="234.0" r="1.38" fill="#187a48"/>
<circle cx="336.4" cy="236.9" r="1.38" fill="#187a48"/>
<circle cx="340.7" cy="237.2" r="1.38" fill="#187a48"/>
<circle cx="345.0" cy="236.9" r="1.38" fill="#187a48"/>
<circle cx="353.6" cy="237.0" r="1.38" fill="#187a48"/>
<circle cx="332.1" cy="240.4" r="1.38" fill="#187a48"/>
<circle cx="336.4" cy="240.2" r="1.38" fill="#187a48"/>
<circle cx="357.9" cy="240.7" r="1.38" fill="#187a48"/>
<circle cx="332.1" cy="244.0" r="1.38" fill="#187a48"/>
<circle cx="336.4" cy="244.1" r="1.38" fill="#187a48"/>
<circle cx="340.7" cy="244.0" r="1.38" fill="#187a48"/>
<circle cx="345.0" cy="243.8" r="1.38" fill="#187a48"/>
<circle cx="353.6" cy="243.6" r="1.38" fill="#187a48"/>
<circle cx="357.9" cy="243.7" r="1.38" fill="#187a48"/>
<circle cx="332.1" cy="247.4" r="1.38" fill="#187a48"/>
<circle cx="340.7" cy="247.0" r="1.38" fill="#187a48"/>
<circle cx="345.0" cy="246.8" r="1.38" fill="#187a48"/>
<circle cx="349.3" cy="247.4" r="1.38" fill="#187a48"/>
<circle cx="353.6" cy="247.1" r="1.38" fill="#187a48"/>
<circle cx="332.1" cy="250.2" r="1.38" fill="#187a48"/>
<circle cx="336.4" cy="250.7" r="1.38" fill="#187a48"/>
<circle cx="345.0" cy="250.6" r="1.38" fill="#187a48"/>
<circle cx="349.3" cy="250.4" r="1.38" fill="#187a48"/>
<circle cx="353.6" cy="250.7" r="1.38" fill="#187a48"/>
<circle cx="362.2" cy="250.5" r="1.38" fill="#187a48"/>
<circle cx="332.1" cy="254.0" r="1.38" fill="#187a48"/>
<circle cx="336.4" cy="253.4" r="1.38" fill="#187a48"/>
<circle cx="345.0" cy="254.0" r="1.38" fill="#187a48"/>
<circle cx="357.9" cy="253.8" r="1.38" fill="#187a48"/>
<circle cx="340.7" cy="256.7" r="1.38" fill="#187a48"/>
<circle cx="345.0" cy="256.9" r="1.38" fill="#187a48"/>
<circle cx="353.6" cy="256.8" r="1.38" fill="#187a48"/>
<circle cx="340.7" cy="260.4" r="1.38" fill="#187a48"/>
<circle cx="349.3" cy="260.4" r="1.38" fill="#187a48"/>
<circle cx="345.0" cy="309.7" r="1.38" fill="#cf1f2a"/>
<circle cx="345.0" cy="316.8" r="1.38" fill="#db6899"/>
<circle cx="349.3" cy="317.3" r="1.38" fill="#db6899"/>
<circle cx="336.4" cy="320.4" r="1.38" fill="#db6899"/>
<circle cx="340.7" cy="320.6" r="1.38" fill="#db6899"/>
<circle cx="345.0" cy="320.3" r="1.38" fill="#db6899"/>
<circle cx="349.3" cy="320.0" r="1.38" fill="#db6899"/>
<circle cx="353.6" cy="320.1" r="1.38" fill="#db6899"/>
<circle cx="357.9" cy="320.5" r="1.38" fill="#db6899"/>
<circle cx="332.1" cy="323.4" r="1.38" fill="#db6899"/>
<circle cx="340.7" cy="323.4" r="1.38" fill="#db6899"/>
<circle cx="345.0" cy="323.4" r="1.38" fill="#db6899"/>
<circle cx="357.9" cy="323.6" r="1.38" fill="#db6899"/>
<circle cx="332.1" cy="327.2" r="1.38" fill="#db6899"/>
<circle cx="336.4" cy="326.7" r="1.38" fill="#db6899"/>
<circle cx="340.7" cy="327.0" r="1.38" fill="#db6899"/>
<circle cx="345.0" cy="327.0" r="1.38" fill="#db6899"/>
<circle cx="353.6" cy="326.9" r="1.38" fill="#db6899"/>
<circle cx="327.8" cy="330.5" r="1.38" fill="#db6899"/>
<circle cx="332.1" cy="330.4" r="1.38" fill="#db6899"/>
<circle cx="336.4" cy="330.3" r="1.38" fill="#db6899"/>
<circle cx="340.7" cy="330.2" r="1.38" fill="#db6899"/>
<circle cx="357.9" cy="330.2" r="1.38" fill="#db6899"/>
<circle cx="362.2" cy="330.3" r="1.38" fill="#db6899"/>
<circle cx="327.8" cy="333.2" r="1.38" fill="#db6899"/>
<circle cx="332.1" cy="333.7" r="1.38" fill="#db6899"/>
<circle cx="336.4" cy="333.8" r="1.38" fill="#db6899"/>
<circle cx="340.7" cy="333.3" r="1.38" fill="#db6899"/>
<circle cx="345.0" cy="333.5" r="1.38" fill="#db6899"/>
<circle cx="349.3" cy="333.5" r="1.38" fill="#db6899"/>
<circle cx="353.6" cy="333.7" r="1.38" fill="#db6899"/>
<circle cx="357.9" cy="333.8" r="1.38" fill="#db6899"/>
<circle cx="362.2" cy="333.5" r="1.38" fill="#db6899"/>
<circle cx="332.1" cy="336.6" r="1.38" fill="#db6899"/>
<circle cx="336.4" cy="336.5" r="1.38" fill="#db6899"/>
<circle cx="340.7" cy="336.9" r="1.38" fill="#db6899"/>
<circle cx="345.0" cy="336.6" r="1.38" fill="#db6899"/>
<circle cx="349.3" cy="336.5" r="1.38" fill="#db6899"/>
<circle cx="357.9" cy="336.6" r="1.38" fill="#db6899"/>
<circle cx="362.2" cy="336.9" r="1.38" fill="#db6899"/>
<circle cx="336.4" cy="340.0" r="1.38" fill="#db6899"/>
<circle cx="340.7" cy="339.9" r="1.38" fill="#db6899"/>
<circle cx="349.3" cy="340.1" r="1.38" fill="#db6899"/>
<circle cx="362.2" cy="340.1" r="1.38" fill="#db6899"/>
<circle cx="336.4" cy="343.2" r="1.38" fill="#db6899"/>
<circle cx="345.0" cy="343.3" r="1.38" fill="#db6899"/>
<circle cx="349.3" cy="343.3" r="1.38" fill="#db6899"/>
<circle cx="353.6" cy="343.1" r="1.38" fill="#db6899"/>
<circle cx="332.1" cy="326.5" r="1.38" fill="#cf1f2a"/>
<circle cx="340.7" cy="326.5" r="1.38" fill="#cf1f2a"/>
<circle cx="349.3" cy="329.8" r="1.38" fill="#cf1f2a"/>
<circle cx="353.6" cy="329.9" r="1.38" fill="#cf1f2a"/>
<circle cx="357.9" cy="329.7" r="1.38" fill="#cf1f2a"/>
<circle cx="362.2" cy="329.9" r="1.38" fill="#cf1f2a"/>
<circle cx="349.3" cy="333.1" r="1.38" fill="#cf1f2a"/>
<circle cx="353.6" cy="333.3" r="1.38" fill="#cf1f2a"/>
<circle cx="327.8" cy="336.3" r="1.38" fill="#cf1f2a"/>
<circle cx="357.9" cy="336.8" r="1.38" fill="#cf1f2a"/>
<circle cx="345.0" cy="339.7" r="1.38" fill="#cf1f2a"/>
<circle cx="353.6" cy="340.1" r="1.38" fill="#cf1f2a"/>
<circle cx="340.7" cy="343.0" r="1.38" fill="#cf1f2a"/>
<circle cx="349.3" cy="342.9" r="1.38" fill="#cf1f2a"/>
<circle cx="357.9" cy="343.0" r="1.38" fill="#cf1f2a"/>
<circle cx="336.4" cy="360.0" r="1.38" fill="#cf1f2a"/>
<circle cx="340.7" cy="360.1" r="1.38" fill="#cf1f2a"/>
<circle cx="345.0" cy="360.2" r="1.38" fill="#cf1f2a"/>
<circle cx="353.6" cy="359.8" r="1.38" fill="#cf1f2a"/>
<circle cx="336.4" cy="363.4" r="1.38" fill="#cf1f2a"/>
<circle cx="340.7" cy="363.2" r="1.38" fill="#cf1f2a"/>
<circle cx="349.3" cy="363.2" r="1.38" fill="#cf1f2a"/>
<circle cx="353.6" cy="363.1" r="1.38" fill="#cf1f2a"/>
<circle cx="336.4" cy="366.3" r="1.38" fill="#cf1f2a"/>
<circle cx="345.0" cy="366.8" r="1.38" fill="#cf1f2a"/>
<circle cx="353.6" cy="366.7" r="1.38" fill="#cf1f2a"/>
<circle cx="345.0" cy="370.0" r="1.38" fill="#cf1f2a"/>
<circle cx="349.3" cy="373.3" r="1.38" fill="#cf1f2a"/>
<circle cx="340.7" cy="376.4" r="1.38" fill="#cf1f2a"/>
<circle cx="345.0" cy="376.2" r="1.38" fill="#cf1f2a"/>
<circle cx="349.3" cy="376.4" r="1.38" fill="#cf1f2a"/>
<circle cx="345.0" cy="379.6" r="1.38" fill="#cf1f2a"/>
<circle cx="345.0" cy="385.5" r="1.38" fill="#c4954f"/>
<circle cx="345.0" cy="392.9" r="1.38" fill="#c4954f"/>
<circle cx="340.7" cy="396.1" r="1.38" fill="#c4954f"/>
<circle cx="349.3" cy="396.0" r="1.38" fill="#c4954f"/>
<circle cx="336.4" cy="399.5" r="1.38" fill="#c4954f"/>
<circle cx="340.7" cy="399.7" r="1.38" fill="#c4954f"/>
<circle cx="349.3" cy="399.7" r="1.38" fill="#c4954f"/>
<circle cx="353.6" cy="399.5" r="1.38" fill="#c4954f"/>
<circle cx="340.7" cy="411.7" r="1.38" fill="#c4954f"/>
<circle cx="349.3" cy="412.0" r="1.38" fill="#c4954f"/>
<circle cx="345.0" cy="415.1" r="1.38" fill="#c4954f"/>
<circle cx="349.3" cy="415.2" r="1.38" fill="#c4954f"/>
<circle cx="340.7" cy="418.7" r="1.38" fill="#c4954f"/>
<circle cx="345.0" cy="418.6" r="1.38" fill="#c4954f"/>
<circle cx="332.1" cy="422.0" r="1.38" fill="#c4954f"/>
<circle cx="332.1" cy="425.4" r="1.38" fill="#c4954f"/>
<circle cx="349.3" cy="424.9" r="1.38" fill="#c4954f"/>
<circle cx="357.9" cy="425.1" r="1.38" fill="#c4954f"/>
<circle cx="336.4" cy="428.3" r="1.38" fill="#c4954f"/>
<circle cx="340.7" cy="428.6" r="1.38" fill="#c4954f"/>
<circle cx="345.0" cy="428.2" r="1.38" fill="#c4954f"/>
<circle cx="357.9" cy="428.5" r="1.38" fill="#c4954f"/>
<circle cx="357.9" cy="431.7" r="1.38" fill="#c4954f"/>
<circle cx="336.4" cy="435.3" r="1.38" fill="#c4954f"/>
<circle cx="357.9" cy="435.2" r="1.38" fill="#c4954f"/>
<circle cx="340.7" cy="438.2" r="1.38" fill="#c4954f"/>
<circle cx="353.6" cy="438.2" r="1.38" fill="#c4954f"/>
<circle cx="357.9" cy="438.2" r="1.38" fill="#c4954f"/>
<circle cx="336.4" cy="441.4" r="1.38" fill="#c4954f"/>
<circle cx="340.7" cy="441.4" r="1.38" fill="#c4954f"/>
<circle cx="349.3" cy="441.7" r="1.38" fill="#c4954f"/>
<circle cx="336.4" cy="445.3" r="1.38" fill="#c4954f"/>
<circle cx="345.0" cy="444.8" r="1.38" fill="#c4954f"/>
<circle cx="349.3" cy="448.5" r="1.38" fill="#c4954f"/>
<circle cx="345.0" cy="403.9" r="1.38" fill="#7d40a0"/>
<circle cx="349.3" cy="414.0" r="1.38" fill="#7d40a0"/>
<circle cx="349.3" cy="417.1" r="1.38" fill="#7d40a0"/>
<circle cx="336.4" cy="420.3" r="1.38" fill="#7d40a0"/>
<circle cx="340.7" cy="420.6" r="1.38" fill="#7d40a0"/>
<circle cx="353.6" cy="420.6" r="1.38" fill="#7d40a0"/>
<circle cx="332.1" cy="423.9" r="1.38" fill="#7d40a0"/>
<circle cx="336.4" cy="424.1" r="1.38" fill="#7d40a0"/>
<circle cx="345.0" cy="423.9" r="1.38" fill="#7d40a0"/>
<circle cx="349.3" cy="423.5" r="1.38" fill="#7d40a0"/>
<circle cx="353.6" cy="424.0" r="1.38" fill="#7d40a0"/>
<circle cx="332.1" cy="427.0" r="1.38" fill="#7d40a0"/>
<circle cx="336.4" cy="427.1" r="1.38" fill="#7d40a0"/>
<circle cx="345.0" cy="427.0" r="1.38" fill="#7d40a0"/>
<circle cx="357.9" cy="427.0" r="1.38" fill="#7d40a0"/>
<circle cx="345.0" cy="430.5" r="1.38" fill="#7d40a0"/>
<circle cx="357.9" cy="430.2" r="1.38" fill="#7d40a0"/>
<circle cx="332.1" cy="434.0" r="1.38" fill="#7d40a0"/>
<circle cx="336.4" cy="433.7" r="1.38" fill="#7d40a0"/>
<circle cx="340.7" cy="433.6" r="1.38" fill="#7d40a0"/>
<circle cx="345.0" cy="433.7" r="1.38" fill="#7d40a0"/>
<circle cx="349.3" cy="433.8" r="1.38" fill="#7d40a0"/>
<circle cx="353.6" cy="433.5" r="1.38" fill="#7d40a0"/>
<circle cx="332.1" cy="436.8" r="1.38" fill="#7d40a0"/>
<circle cx="336.4" cy="436.7" r="1.38" fill="#7d40a0"/>
<circle cx="345.0" cy="436.7" r="1.38" fill="#7d40a0"/>
<circle cx="349.3" cy="437.0" r="1.38" fill="#7d40a0"/>
<circle cx="357.9" cy="437.3" r="1.38" fill="#7d40a0"/>
<circle cx="336.4" cy="440.5" r="1.38" fill="#7d40a0"/>
<circle cx="340.7" cy="440.0" r="1.38" fill="#7d40a0"/>
<circle cx="357.9" cy="440.6" r="1.38" fill="#7d40a0"/>
<circle cx="345.0" cy="443.8" r="1.38" fill="#7d40a0"/>
<circle cx="353.6" cy="443.3" r="1.38" fill="#7d40a0"/>
<circle cx="323.5" cy="436.4" r="1.38" fill="#c4954f"/>
<circle cx="327.8" cy="436.5" r="1.38" fill="#c4954f"/>
<circle cx="336.4" cy="436.6" r="1.38" fill="#c4954f"/>
<circle cx="340.7" cy="436.5" r="1.38" fill="#c4954f"/>
<circle cx="349.3" cy="436.6" r="1.38" fill="#c4954f"/>
<circle cx="366.5" cy="436.7" r="1.38" fill="#c4954f"/>
<circle cx="336.4" cy="436.8" r="1.38" fill="#7d40a0"/>
<circle cx="340.7" cy="436.7" r="1.38" fill="#7d40a0"/>
<circle cx="345.0" cy="436.8" r="1.38" fill="#7d40a0"/>
<circle cx="349.3" cy="436.6" r="1.38" fill="#7d40a0"/>
<circle cx="353.6" cy="436.6" r="1.38" fill="#7d40a0"/>
<circle cx="357.9" cy="436.7" r="1.38" fill="#7d40a0"/>
<circle cx="366.5" cy="436.7" r="1.38" fill="#7d40a0"/>
<circle cx="420.0" cy="258.8" r="1.38" fill="#187a48"/>
<circle cx="420.0" cy="262.0" r="1.38" fill="#187a48"/>
<circle cx="424.3" cy="262.5" r="1.38" fill="#187a48"/>
<circle cx="415.7" cy="265.8" r="1.38" fill="#187a48"/>
<circle cx="420.0" cy="265.7" r="1.38" fill="#187a48"/>
<circle cx="424.3" cy="265.3" r="1.38" fill="#187a48"/>
<circle cx="411.4" cy="268.8" r="1.38" fill="#187a48"/>
<circle cx="415.7" cy="268.6" r="1.38" fill="#187a48"/>
<circle cx="420.0" cy="268.8" r="1.38" fill="#187a48"/>
<circle cx="424.3" cy="268.9" r="1.38" fill="#187a48"/>
<circle cx="411.4" cy="272.5" r="1.38" fill="#187a48"/>
<circle cx="415.7" cy="272.4" r="1.38" fill="#187a48"/>
<circle cx="420.0" cy="272.5" r="1.38" fill="#187a48"/>
<circle cx="424.3" cy="272.5" r="1.38" fill="#187a48"/>
<circle cx="428.6" cy="272.1" r="1.38" fill="#187a48"/>
<circle cx="411.4" cy="275.3" r="1.38" fill="#187a48"/>
<circle cx="424.3" cy="275.3" r="1.38" fill="#187a48"/>
<circle cx="428.6" cy="275.8" r="1.38" fill="#187a48"/>
<circle cx="432.9" cy="275.6" r="1.38" fill="#187a48"/>
<circle cx="407.1" cy="278.9" r="1.38" fill="#187a48"/>
<circle cx="411.4" cy="278.9" r="1.38" fill="#187a48"/>
<circle cx="428.6" cy="278.8" r="1.38" fill="#187a48"/>
<circle cx="432.9" cy="279.0" r="1.38" fill="#187a48"/>
<circle cx="411.4" cy="282.2" r="1.38" fill="#187a48"/>
<circle cx="415.7" cy="282.0" r="1.38" fill="#187a48"/>
<circle cx="420.0" cy="282.2" r="1.38" fill="#187a48"/>
<circle cx="424.3" cy="282.1" r="1.38" fill="#187a48"/>
<circle cx="428.6" cy="282.2" r="1.38" fill="#187a48"/>
<circle cx="432.9" cy="282.2" r="1.38" fill="#187a48"/>
<circle cx="415.7" cy="285.4" r="1.38" fill="#187a48"/>
<circle cx="428.6" cy="285.6" r="1.38" fill="#187a48"/>
<circle cx="407.1" cy="289.0" r="1.38" fill="#187a48"/>
<circle cx="411.4" cy="289.0" r="1.38" fill="#187a48"/>
<circle cx="415.7" cy="288.5" r="1.38" fill="#187a48"/>
<circle cx="415.7" cy="292.3" r="1.38" fill="#187a48"/>
<circle cx="420.0" cy="292.3" r="1.38" fill="#187a48"/>
<circle cx="428.6" cy="292.2" r="1.38" fill="#187a48"/>
<circle cx="411.4" cy="295.3" r="1.38" fill="#187a48"/>
<circle cx="420.0" cy="295.1" r="1.38" fill="#187a48"/>
<circle cx="428.6" cy="295.3" r="1.38" fill="#187a48"/>
<circle cx="420.0" cy="298.4" r="1.38" fill="#187a48"/>
<circle cx="420.0" cy="302.3" r="1.38" fill="#c4954f"/>
<circle cx="415.7" cy="305.2" r="1.38" fill="#c4954f"/>
<circle cx="420.0" cy="305.0" r="1.38" fill="#c4954f"/>
<circle cx="424.3" cy="305.6" r="1.38" fill="#c4954f"/>
<circle cx="415.7" cy="308.4" r="1.38" fill="#c4954f"/>
<circle cx="420.0" cy="308.8" r="1.38" fill="#c4954f"/>
<circle cx="411.4" cy="312.2" r="1.38" fill="#c4954f"/>
<circle cx="415.7" cy="312.0" r="1.38" fill="#c4954f"/>
<circle cx="428.6" cy="312.0" r="1.38" fill="#c4954f"/>
<circle cx="411.4" cy="314.9" r="1.38" fill="#c4954f"/>
<circle cx="415.7" cy="315.1" r="1.38" fill="#c4954f"/>
<circle cx="424.3" cy="315.3" r="1.38" fill="#c4954f"/>
<circle cx="411.4" cy="318.2" r="1.38" fill="#c4954f"/>
<circle cx="420.0" cy="318.2" r="1.38" fill="#c4954f"/>
<circle cx="424.3" cy="318.8" r="1.38" fill="#c4954f"/>
<circle cx="411.4" cy="321.6" r="1.38" fill="#c4954f"/>
<circle cx="428.6" cy="321.7" r="1.38" fill="#c4954f"/>
<circle cx="411.4" cy="324.9" r="1.38" fill="#c4954f"/>
<circle cx="420.0" cy="325.3" r="1.38" fill="#c4954f"/>
<circle cx="424.3" cy="325.1" r="1.38" fill="#c4954f"/>
<circle cx="428.6" cy="325.4" r="1.38" fill="#c4954f"/>
<circle cx="411.4" cy="328.5" r="1.38" fill="#c4954f"/>
<circle cx="415.7" cy="328.5" r="1.38" fill="#c4954f"/>
<circle cx="420.0" cy="328.7" r="1.38" fill="#c4954f"/>
<circle cx="424.3" cy="328.6" r="1.38" fill="#c4954f"/>
<circle cx="411.4" cy="332.0" r="1.38" fill="#c4954f"/>
<circle cx="415.7" cy="331.9" r="1.38" fill="#c4954f"/>
<circle cx="424.3" cy="331.4" r="1.38" fill="#c4954f"/>
<circle cx="428.6" cy="331.5" r="1.38" fill="#c4954f"/>
<circle cx="411.4" cy="335.3" r="1.38" fill="#c4954f"/>
<circle cx="415.7" cy="335.1" r="1.38" fill="#c4954f"/>
<circle cx="424.3" cy="334.9" r="1.38" fill="#c4954f"/>
<circle cx="428.6" cy="335.3" r="1.38" fill="#c4954f"/>
<circle cx="407.1" cy="345.9" r="1.38" fill="#cf1f2a"/>
<circle cx="411.4" cy="346.2" r="1.38" fill="#cf1f2a"/>
<circle cx="428.6" cy="346.3" r="1.38" fill="#cf1f2a"/>
<circle cx="432.9" cy="345.9" r="1.38" fill="#cf1f2a"/>
<circle cx="402.8" cy="349.5" r="1.38" fill="#cf1f2a"/>
<circle cx="411.4" cy="349.6" r="1.38" fill="#cf1f2a"/>
<circle cx="420.0" cy="349.4" r="1.38" fill="#cf1f2a"/>
<circle cx="428.6" cy="349.3" r="1.38" fill="#cf1f2a"/>
<circle cx="432.9" cy="349.4" r="1.38" fill="#cf1f2a"/>
<circle cx="411.4" cy="352.8" r="1.38" fill="#cf1f2a"/>
<circle cx="428.6" cy="352.6" r="1.38" fill="#cf1f2a"/>
<circle cx="432.9" cy="352.7" r="1.38" fill="#cf1f2a"/>
<circle cx="437.2" cy="352.9" r="1.38" fill="#cf1f2a"/>
<circle cx="441.5" cy="352.5" r="1.38" fill="#cf1f2a"/>
<circle cx="394.2" cy="355.8" r="1.38" fill="#cf1f2a"/>
<circle cx="402.8" cy="355.7" r="1.38" fill="#cf1f2a"/>
<circle cx="420.0" cy="356.1" r="1.38" fill="#cf1f2a"/>
<circle cx="432.9" cy="355.9" r="1.38" fill="#cf1f2a"/>
<circle cx="437.2" cy="356.2" r="1.38" fill="#cf1f2a"/>
<circle cx="394.2" cy="359.1" r="1.38" fill="#cf1f2a"/>
<circle cx="407.1" cy="359.4" r="1.38" fill="#cf1f2a"/>
<circle cx="411.4" cy="359.2" r="1.38" fill="#cf1f2a"/>
<circle cx="415.7" cy="359.2" r="1.38" fill="#cf1f2a"/>
<circle cx="420.0" cy="358.9" r="1.38" fill="#cf1f2a"/>
<circle cx="428.6" cy="359.4" r="1.38" fill="#cf1f2a"/>
<circle cx="432.9" cy="359.1" r="1.38" fill="#cf1f2a"/>
<circle cx="437.2" cy="359.0" r="1.38" fill="#cf1f2a"/>
<circle cx="402.8" cy="362.7" r="1.38" fill="#cf1f2a"/>
<circle cx="407.1" cy="362.8" r="1.38" fill="#cf1f2a"/>
<circle cx="415.7" cy="362.6" r="1.38" fill="#cf1f2a"/>
<circle cx="428.6" cy="362.2" r="1.38" fill="#cf1f2a"/>
<circle cx="432.9" cy="362.7" r="1.38" fill="#cf1f2a"/>
<circle cx="445.8" cy="362.5" r="1.38" fill="#cf1f2a"/>
<circle cx="394.2" cy="365.5" r="1.38" fill="#cf1f2a"/>
<circle cx="398.5" cy="366.1" r="1.38" fill="#cf1f2a"/>
<circle cx="411.4" cy="365.7" r="1.38" fill="#cf1f2a"/>
<circle cx="415.7" cy="365.6" r="1.38" fill="#cf1f2a"/>
<circle cx="420.0" cy="366.1" r="1.38" fill="#cf1f2a"/>
<circle cx="424.3" cy="365.8" r="1.38" fill="#cf1f2a"/>
<circle cx="402.8" cy="369.0" r="1.38" fill="#cf1f2a"/>
<circle cx="411.4" cy="369.0" r="1.38" fill="#cf1f2a"/>
<circle cx="415.7" cy="369.1" r="1.38" fill="#cf1f2a"/>
<circle cx="420.0" cy="369.1" r="1.38" fill="#cf1f2a"/>
<circle cx="428.6" cy="369.3" r="1.38" fill="#cf1f2a"/>
<circle cx="432.9" cy="369.1" r="1.38" fill="#cf1f2a"/>
<circle cx="441.5" cy="368.9" r="1.38" fill="#cf1f2a"/>
<circle cx="407.1" cy="372.3" r="1.38" fill="#cf1f2a"/>
<circle cx="411.4" cy="372.4" r="1.38" fill="#cf1f2a"/>
<circle cx="415.7" cy="372.6" r="1.38" fill="#cf1f2a"/>
<circle cx="424.3" cy="372.3" r="1.38" fill="#cf1f2a"/>
<circle cx="432.9" cy="372.5" r="1.38" fill="#cf1f2a"/>
<circle cx="415.7" cy="375.8" r="1.38" fill="#cf1f2a"/>
<circle cx="420.0" cy="375.6" r="1.38" fill="#cf1f2a"/>
<circle cx="411.4" cy="346.0" r="1.38" fill="#db6899"/>
<circle cx="424.3" cy="345.7" r="1.38" fill="#db6899"/>
<circle cx="428.6" cy="345.8" r="1.38" fill="#db6899"/>
<circle cx="424.3" cy="349.4" r="1.38" fill="#db6899"/>
<circle cx="428.6" cy="349.6" r="1.38" fill="#db6899"/>
<circle cx="402.8" cy="352.5" r="1.38" fill="#db6899"/>
<circle cx="420.0" cy="352.8" r="1.38" fill="#db6899"/>
<circle cx="424.3" cy="352.7" r="1.38" fill="#db6899"/>
<circle cx="402.8" cy="356.2" r="1.38" fill="#db6899"/>
<circle cx="415.7" cy="356.1" r="1.38" fill="#db6899"/>
<circle cx="437.2" cy="356.1" r="1.38" fill="#db6899"/>
<circle cx="424.3" cy="359.1" r="1.38" fill="#db6899"/>
<circle cx="432.9" cy="358.9" r="1.38" fill="#db6899"/>
<circle cx="411.4" cy="362.2" r="1.38" fill="#db6899"/>
<circle cx="415.7" cy="362.8" r="1.38" fill="#db6899"/>
<circle cx="428.6" cy="362.4" r="1.38" fill="#db6899"/>
<circle cx="402.8" cy="366.1" r="1.38" fill="#db6899"/>
<circle cx="411.4" cy="365.8" r="1.38" fill="#db6899"/>
<circle cx="411.4" cy="369.3" r="1.38" fill="#db6899"/>
<circle cx="415.7" cy="369.2" r="1.38" fill="#db6899"/>
<circle cx="420.0" cy="369.0" r="1.38" fill="#db6899"/>
<circle cx="424.3" cy="369.0" r="1.38" fill="#db6899"/>
<circle cx="420.0" cy="378.3" r="1.38" fill="#7d40a0"/>
<circle cx="415.7" cy="381.4" r="1.38" fill="#7d40a0"/>
<circle cx="420.0" cy="381.1" r="1.38" fill="#7d40a0"/>
<circle cx="411.4" cy="384.4" r="1.38" fill="#7d40a0"/>
<circle cx="415.7" cy="384.8" r="1.38" fill="#7d40a0"/>
<circle cx="420.0" cy="384.8" r="1.38" fill="#7d40a0"/>
<circle cx="424.3" cy="384.7" r="1.38" fill="#7d40a0"/>
<circle cx="428.6" cy="384.9" r="1.38" fill="#7d40a0"/>
<circle cx="415.7" cy="387.9" r="1.38" fill="#7d40a0"/>
<circle cx="420.0" cy="388.1" r="1.38" fill="#7d40a0"/>
<circle cx="424.3" cy="387.8" r="1.38" fill="#7d40a0"/>
<circle cx="407.1" cy="391.3" r="1.38" fill="#7d40a0"/>
<circle cx="411.4" cy="391.2" r="1.38" fill="#7d40a0"/>
<circle cx="415.7" cy="391.0" r="1.38" fill="#7d40a0"/>
<circle cx="432.9" cy="391.4" r="1.38" fill="#7d40a0"/>
<circle cx="407.1" cy="394.3" r="1.38" fill="#7d40a0"/>
<circle cx="411.4" cy="394.6" r="1.38" fill="#7d40a0"/>
<circle cx="415.7" cy="394.7" r="1.38" fill="#7d40a0"/>
<circle cx="420.0" cy="394.8" r="1.38" fill="#7d40a0"/>
<circle cx="432.9" cy="394.8" r="1.38" fill="#7d40a0"/>
<circle cx="411.4" cy="398.1" r="1.38" fill="#7d40a0"/>
<circle cx="420.0" cy="397.6" r="1.38" fill="#7d40a0"/>
<circle cx="424.3" cy="397.8" r="1.38" fill="#7d40a0"/>
<circle cx="428.6" cy="397.7" r="1.38" fill="#7d40a0"/>
<circle cx="432.9" cy="397.5" r="1.38" fill="#7d40a0"/>
<circle cx="411.4" cy="400.9" r="1.38" fill="#7d40a0"/>
<circle cx="415.7" cy="400.9" r="1.38" fill="#7d40a0"/>
<circle cx="420.0" cy="401.4" r="1.38" fill="#7d40a0"/>
<circle cx="424.3" cy="401.4" r="1.38" fill="#7d40a0"/>
<circle cx="420.0" cy="404.6" r="1.38" fill="#7d40a0"/>
<circle cx="424.3" cy="404.5" r="1.38" fill="#7d40a0"/>
<circle cx="402.8" cy="395.1" r="1.38" fill="#7d40a0"/>
<circle cx="407.1" cy="395.4" r="1.38" fill="#7d40a0"/>
<circle cx="411.4" cy="395.3" r="1.38" fill="#7d40a0"/>
<circle cx="415.7" cy="395.2" r="1.38" fill="#7d40a0"/>
<circle cx="420.0" cy="395.3" r="1.38" fill="#7d40a0"/>
<circle cx="428.6" cy="395.2" r="1.38" fill="#7d40a0"/>
<circle cx="432.9" cy="395.1" r="1.38" fill="#7d40a0"/>
<circle cx="441.5" cy="395.4" r="1.38" fill="#7d40a0"/>
<circle cx="495.5" cy="217.6" r="1.38" fill="#187a48"/>
<circle cx="491.2" cy="220.6" r="1.38" fill="#187a48"/>
<circle cx="495.5" cy="220.9" r="1.38" fill="#187a48"/>
<circle cx="499.8" cy="220.9" r="1.38" fill="#187a48"/>
<circle cx="491.2" cy="224.0" r="1.38" fill="#187a48"/>
<circle cx="495.5" cy="223.6" r="1.38" fill="#187a48"/>
<circle cx="499.8" cy="224.2" r="1.38" fill="#187a48"/>
<circle cx="486.9" cy="230.2" r="1.38" fill="#187a48"/>
<circle cx="491.2" cy="230.3" r="1.38" fill="#187a48"/>
<circle cx="495.5" cy="230.4" r="1.38" fill="#187a48"/>
<circle cx="499.8" cy="230.3" r="1.38" fill="#187a48"/>
<circle cx="486.9" cy="233.8" r="1.38" fill="#187a48"/>
<circle cx="491.2" cy="233.8" r="1.38" fill="#187a48"/>
<circle cx="495.5" cy="234.1" r="1.38" fill="#187a48"/>
<circle cx="499.8" cy="233.5" r="1.38" fill="#187a48"/>
<circle cx="504.1" cy="233.7" r="1.38" fill="#187a48"/>
<circle cx="495.5" cy="240.4" r="1.38" fill="#187a48"/>
<circle cx="499.8" cy="240.5" r="1.38" fill="#187a48"/>
<circle cx="504.1" cy="240.5" r="1.38" fill="#187a48"/>
<circle cx="491.2" cy="243.7" r="1.38" fill="#187a48"/>
<circle cx="499.8" cy="243.4" r="1.38" fill="#187a48"/>
<circle cx="486.9" cy="246.7" r="1.38" fill="#187a48"/>
<circle cx="499.8" cy="247.1" r="1.38" fill="#187a48"/>
<circle cx="482.6" cy="250.0" r="1.38" fill="#187a48"/>
<circle cx="499.8" cy="250.2" r="1.38" fill="#187a48"/>
<circle cx="504.1" cy="250.0" r="1.38" fill="#187a48"/>
<circle cx="486.9" cy="253.7" r="1.38" fill="#187a48"/>
<circle cx="491.2" cy="253.5" r="1.38" fill="#187a48"/>
<circle cx="499.8" cy="253.4" r="1.38" fill="#187a48"/>
<circle cx="491.2" cy="256.7" r="1.38" fill="#187a48"/>
<circle cx="495.5" cy="256.9" r="1.38" fill="#187a48"/>
<circle cx="495.5" cy="274.8" r="1.38" fill="#c4954f"/>
<circle cx="495.5" cy="278.3" r="1.38" fill="#c4954f"/>
<circle cx="499.8" cy="278.6" r="1.38" fill="#c4954f"/>
<circle cx="491.2" cy="281.4" r="1.38" fill="#c4954f"/>
<circle cx="495.5" cy="281.5" r="1.38" fill="#c4954f"/>
<circle cx="495.5" cy="284.6" r="1.38" fill="#c4954f"/>
<circle cx="504.1" cy="284.7" r="1.38" fill="#c4954f"/>
<circle cx="486.9" cy="288.5" r="1.38" fill="#c4954f"/>
<circle cx="491.2" cy="288.1" r="1.38" fill="#c4954f"/>
<circle cx="504.1" cy="287.9" r="1.38" fill="#c4954f"/>
<circle cx="495.5" cy="291.7" r="1.38" fill="#c4954f"/>
<circle cx="499.8" cy="291.4" r="1.38" fill="#c4954f"/>
<circle cx="486.9" cy="295.0" r="1.38" fill="#c4954f"/>
<circle cx="491.2" cy="294.8" r="1.38" fill="#c4954f"/>
<circle cx="495.5" cy="294.5" r="1.38" fill="#c4954f"/>
<circle cx="504.1" cy="294.6" r="1.38" fill="#c4954f"/>
<circle cx="491.2" cy="298.4" r="1.38" fill="#c4954f"/>
<circle cx="495.5" cy="298.3" r="1.38" fill="#c4954f"/>
<circle cx="504.1" cy="297.8" r="1.38" fill="#c4954f"/>
<circle cx="495.5" cy="301.3" r="1.38" fill="#c4954f"/>
<circle cx="499.8" cy="301.2" r="1.38" fill="#c4954f"/>
<circle cx="508.4" cy="301.2" r="1.38" fill="#c4954f"/>
<circle cx="482.6" cy="304.4" r="1.38" fill="#c4954f"/>
<circle cx="486.9" cy="304.5" r="1.38" fill="#c4954f"/>
<circle cx="491.2" cy="304.7" r="1.38" fill="#c4954f"/>
<circle cx="495.5" cy="304.7" r="1.38" fill="#c4954f"/>
<circle cx="504.1" cy="305.0" r="1.38" fill="#c4954f"/>
<circle cx="508.4" cy="304.5" r="1.38" fill="#c4954f"/>
<circle cx="482.6" cy="307.9" r="1.38" fill="#c4954f"/>
<circle cx="495.5" cy="307.8" r="1.38" fill="#c4954f"/>
<circle cx="499.8" cy="308.0" r="1.38" fill="#c4954f"/>
<circle cx="504.1" cy="308.2" r="1.38" fill="#c4954f"/>
<circle cx="482.6" cy="311.4" r="1.38" fill="#c4954f"/>
<circle cx="491.2" cy="311.1" r="1.38" fill="#c4954f"/>
<circle cx="504.1" cy="311.5" r="1.38" fill="#c4954f"/>
<circle cx="508.4" cy="311.0" r="1.38" fill="#c4954f"/>
<circle cx="486.9" cy="314.4" r="1.38" fill="#c4954f"/>
<circle cx="495.5" cy="314.3" r="1.38" fill="#c4954f"/>
<circle cx="499.8" cy="314.8" r="1.38" fill="#c4954f"/>
<circle cx="504.1" cy="314.7" r="1.38" fill="#c4954f"/>
<circle cx="491.2" cy="323.8" r="1.38" fill="#cf1f2a"/>
<circle cx="495.5" cy="323.9" r="1.38" fill="#cf1f2a"/>
<circle cx="499.8" cy="323.8" r="1.38" fill="#cf1f2a"/>
<circle cx="482.6" cy="327.3" r="1.38" fill="#cf1f2a"/>
<circle cx="491.2" cy="327.2" r="1.38" fill="#cf1f2a"/>
<circle cx="504.1" cy="327.3" r="1.38" fill="#cf1f2a"/>
<circle cx="508.4" cy="327.2" r="1.38" fill="#cf1f2a"/>
<circle cx="474.0" cy="330.9" r="1.38" fill="#cf1f2a"/>
<circle cx="486.9" cy="330.6" r="1.38" fill="#cf1f2a"/>
<circle cx="495.5" cy="330.4" r="1.38" fill="#cf1f2a"/>
<circle cx="504.1" cy="330.7" r="1.38" fill="#cf1f2a"/>
<circle cx="508.4" cy="330.9" r="1.38" fill="#cf1f2a"/>
<circle cx="512.7" cy="330.3" r="1.38" fill="#cf1f2a"/>
<circle cx="474.0" cy="333.9" r="1.38" fill="#cf1f2a"/>
<circle cx="478.3" cy="334.2" r="1.38" fill="#cf1f2a"/>
<circle cx="486.9" cy="333.6" r="1.38" fill="#cf1f2a"/>
<circle cx="491.2" cy="333.7" r="1.38" fill="#cf1f2a"/>
<circle cx="504.1" cy="333.6" r="1.38" fill="#cf1f2a"/>
<circle cx="508.4" cy="333.9" r="1.38" fill="#cf1f2a"/>
<circle cx="474.0" cy="337.2" r="1.38" fill="#cf1f2a"/>
<circle cx="478.3" cy="337.4" r="1.38" fill="#cf1f2a"/>
<circle cx="482.6" cy="337.4" r="1.38" fill="#cf1f2a"/>
<circle cx="491.2" cy="337.5" r="1.38" fill="#cf1f2a"/>
<circle cx="499.8" cy="337.2" r="1.38" fill="#cf1f2a"/>
<circle cx="508.4" cy="337.2" r="1.38" fill="#cf1f2a"/>
<circle cx="512.7" cy="337.4" r="1.38" fill="#cf1f2a"/>
<circle cx="474.0" cy="340.3" r="1.38" fill="#cf1f2a"/>
<circle cx="478.3" cy="340.7" r="1.38" fill="#cf1f2a"/>
<circle cx="517.0" cy="340.7" r="1.38" fill="#cf1f2a"/>
<circle cx="474.0" cy="343.6" r="1.38" fill="#cf1f2a"/>
<circle cx="482.6" cy="343.8" r="1.38" fill="#cf1f2a"/>
<circle cx="486.9" cy="344.0" r="1.38" fill="#cf1f2a"/>
<circle cx="508.4" cy="343.9" r="1.38" fill="#cf1f2a"/>
<circle cx="512.7" cy="344.1" r="1.38" fill="#cf1f2a"/>
<circle cx="474.0" cy="346.9" r="1.38" fill="#cf1f2a"/>
<circle cx="495.5" cy="347.3" r="1.38" fill="#cf1f2a"/>
<circle cx="499.8" cy="347.4" r="1.38" fill="#cf1f2a"/>
<circle cx="482.6" cy="350.3" r="1.38" fill="#cf1f2a"/>
<circle cx="486.9" cy="350.1" r="1.38" fill="#cf1f2a"/>
<circle cx="491.2" cy="350.6" r="1.38" fill="#cf1f2a"/>
<circle cx="495.5" cy="350.5" r="1.38" fill="#cf1f2a"/>
<circle cx="512.7" cy="350.2" r="1.38" fill="#cf1f2a"/>
<circle cx="517.0" cy="350.5" r="1.38" fill="#cf1f2a"/>
<circle cx="486.9" cy="354.0" r="1.38" fill="#cf1f2a"/>
<circle cx="495.5" cy="354.0" r="1.38" fill="#cf1f2a"/>
<circle cx="512.7" cy="353.5" r="1.38" fill="#cf1f2a"/>
<circle cx="486.9" cy="326.3" r="1.38" fill="#db6899"/>
<circle cx="504.1" cy="325.8" r="1.38" fill="#db6899"/>
<circle cx="512.7" cy="325.9" r="1.38" fill="#db6899"/>
<circle cx="478.3" cy="329.0" r="1.38" fill="#db6899"/>
<circle cx="482.6" cy="329.3" r="1.38" fill="#db6899"/>
<circle cx="495.5" cy="329.2" r="1.38" fill="#db6899"/>
<circle cx="499.8" cy="329.3" r="1.38" fill="#db6899"/>
<circle cx="508.4" cy="329.3" r="1.38" fill="#db6899"/>
<circle cx="495.5" cy="332.6" r="1.38" fill="#db6899"/>
<circle cx="508.4" cy="332.8" r="1.38" fill="#db6899"/>
<circle cx="512.7" cy="332.4" r="1.38" fill="#db6899"/>
<circle cx="474.0" cy="336.1" r="1.38" fill="#db6899"/>
<circle cx="482.6" cy="336.1" r="1.38" fill="#db6899"/>
<circle cx="504.1" cy="335.9" r="1.38" fill="#db6899"/>
<circle cx="517.0" cy="335.6" r="1.38" fill="#db6899"/>
<circle cx="474.0" cy="339.3" r="1.38" fill="#db6899"/>
<circle cx="482.6" cy="339.1" r="1.38" fill="#db6899"/>
<circle cx="495.5" cy="339.3" r="1.38" fill="#db6899"/>
<circle cx="508.4" cy="339.3" r="1.38" fill="#db6899"/>
<circle cx="512.7" cy="338.9" r="1.38" fill="#db6899"/>
<circle cx="474.0" cy="342.2" r="1.38" fill="#db6899"/>
<circle cx="478.3" cy="342.5" r="1.38" fill="#db6899"/>
<circle cx="482.6" cy="342.8" r="1.38" fill="#db6899"/>
<circle cx="499.8" cy="342.8" r="1.38" fill="#db6899"/>
<circle cx="504.1" cy="342.4" r="1.38" fill="#db6899"/>
<circle cx="508.4" cy="342.8" r="1.38" fill="#db6899"/>
<circle cx="517.0" cy="342.4" r="1.38" fill="#db6899"/>
<circle cx="478.3" cy="346.0" r="1.38" fill="#db6899"/>
<circle cx="491.2" cy="345.8" r="1.38" fill="#db6899"/>
<circle cx="499.8" cy="345.9" r="1.38" fill="#db6899"/>
<circle cx="504.1" cy="345.7" r="1.38" fill="#db6899"/>
<circle cx="486.9" cy="349.4" r="1.38" fill="#db6899"/>
<circle cx="499.8" cy="349.2" r="1.38" fill="#db6899"/>
<circle cx="508.4" cy="349.3" r="1.38" fill="#db6899"/>
<circle cx="499.8" cy="352.6" r="1.38" fill="#db6899"/>
<circle cx="482.6" cy="355.1" r="1.38" fill="#7d40a0"/>
<circle cx="486.9" cy="354.9" r="1.38" fill="#7d40a0"/>
<circle cx="495.5" cy="355.1" r="1.38" fill="#7d40a0"/>
<circle cx="499.8" cy="354.9" r="1.38" fill="#7d40a0"/>
<circle cx="508.4" cy="355.3" r="1.38" fill="#7d40a0"/>
<circle cx="478.3" cy="358.4" r="1.38" fill="#7d40a0"/>
<circle cx="491.2" cy="358.4" r="1.38" fill="#7d40a0"/>
<circle cx="512.7" cy="358.4" r="1.38" fill="#7d40a0"/>
<circle cx="482.6" cy="361.9" r="1.38" fill="#7d40a0"/>
<circle cx="486.9" cy="361.8" r="1.38" fill="#7d40a0"/>
<circle cx="491.2" cy="361.8" r="1.38" fill="#7d40a0"/>
<circle cx="499.8" cy="361.6" r="1.38" fill="#7d40a0"/>
<circle cx="504.1" cy="361.6" r="1.38" fill="#7d40a0"/>
<circle cx="508.4" cy="361.7" r="1.38" fill="#7d40a0"/>
<circle cx="482.6" cy="365.1" r="1.38" fill="#7d40a0"/>
<circle cx="486.9" cy="364.7" r="1.38" fill="#7d40a0"/>
<circle cx="495.5" cy="364.9" r="1.38" fill="#7d40a0"/>
<circle cx="512.7" cy="365.1" r="1.38" fill="#7d40a0"/>
<circle cx="478.3" cy="368.1" r="1.38" fill="#7d40a0"/>
<circle cx="495.5" cy="368.0" r="1.38" fill="#7d40a0"/>
<circle cx="499.8" cy="368.2" r="1.38" fill="#7d40a0"/>
<circle cx="504.1" cy="368.1" r="1.38" fill="#7d40a0"/>
<circle cx="512.7" cy="368.1" r="1.38" fill="#7d40a0"/>
<circle cx="486.9" cy="371.3" r="1.38" fill="#7d40a0"/>
<circle cx="491.2" cy="371.2" r="1.38" fill="#7d40a0"/>
<circle cx="504.1" cy="371.5" r="1.38" fill="#7d40a0"/>
<circle cx="512.7" cy="371.7" r="1.38" fill="#7d40a0"/>
<circle cx="486.9" cy="374.9" r="1.38" fill="#7d40a0"/>
<circle cx="495.5" cy="375.1" r="1.38" fill="#7d40a0"/>
<circle cx="499.8" cy="374.8" r="1.38" fill="#7d40a0"/>
<circle cx="504.1" cy="374.8" r="1.38" fill="#7d40a0"/>
<circle cx="571.0" cy="190.8" r="1.38" fill="#187a48"/>
<circle cx="566.7" cy="194.1" r="1.38" fill="#187a48"/>
<circle cx="575.3" cy="194.3" r="1.38" fill="#187a48"/>
<circle cx="566.7" cy="197.8" r="1.38" fill="#187a48"/>
<circle cx="566.7" cy="200.8" r="1.38" fill="#187a48"/>
<circle cx="575.3" cy="201.2" r="1.38" fill="#187a48"/>
<circle cx="566.7" cy="204.1" r="1.38" fill="#187a48"/>
<circle cx="571.0" cy="204.4" r="1.38" fill="#187a48"/>
<circle cx="575.3" cy="204.3" r="1.38" fill="#187a48"/>
<circle cx="579.6" cy="204.4" r="1.38" fill="#187a48"/>
<circle cx="562.4" cy="207.6" r="1.38" fill="#187a48"/>
<circle cx="566.7" cy="207.2" r="1.38" fill="#187a48"/>
<circle cx="571.0" cy="207.8" r="1.38" fill="#187a48"/>
<circle cx="575.3" cy="207.8" r="1.38" fill="#187a48"/>
<circle cx="579.6" cy="207.2" r="1.38" fill="#187a48"/>
<circle cx="562.4" cy="210.9" r="1.38" fill="#187a48"/>
<circle cx="566.7" cy="210.6" r="1.38" fill="#187a48"/>
<circle cx="579.6" cy="210.8" r="1.38" fill="#187a48"/>
<circle cx="562.4" cy="214.1" r="1.38" fill="#187a48"/>
<circle cx="566.7" cy="214.0" r="1.38" fill="#187a48"/>
<circle cx="571.0" cy="214.0" r="1.38" fill="#187a48"/>
<circle cx="575.3" cy="213.8" r="1.38" fill="#187a48"/>
<circle cx="579.6" cy="214.2" r="1.38" fill="#187a48"/>
<circle cx="562.4" cy="217.1" r="1.38" fill="#187a48"/>
<circle cx="571.0" cy="217.4" r="1.38" fill="#187a48"/>
<circle cx="575.3" cy="217.7" r="1.38" fill="#187a48"/>
<circle cx="566.7" cy="223.9" r="1.38" fill="#187a48"/>
<circle cx="571.0" cy="224.0" r="1.38" fill="#187a48"/>
<circle cx="575.3" cy="224.0" r="1.38" fill="#187a48"/>
<circle cx="571.0" cy="227.5" r="1.38" fill="#187a48"/>
<circle cx="553.8" cy="210.4" r="1.38" fill="#187a48"/>
<circle cx="558.1" cy="210.4" r="1.38" fill="#187a48"/>
<circle cx="562.4" cy="210.6" r="1.38" fill="#187a48"/>
<circle cx="566.7" cy="210.5" r="1.38" fill="#187a48"/>
<circle cx="571.0" cy="210.7" r="1.38" fill="#187a48"/>
<circle cx="575.3" cy="210.7" r="1.38" fill="#187a48"/>
<circle cx="579.6" cy="210.6" r="1.38" fill="#187a48"/>
<circle cx="583.9" cy="210.6" r="1.38" fill="#187a48"/>
<circle cx="588.2" cy="210.8" r="1.38" fill="#187a48"/>
<circle cx="575.3" cy="262.8" r="1.38" fill="#c4954f"/>
<circle cx="575.3" cy="266.6" r="1.38" fill="#c4954f"/>
<circle cx="566.7" cy="269.9" r="1.38" fill="#c4954f"/>
<circle cx="571.0" cy="269.4" r="1.38" fill="#c4954f"/>
<circle cx="575.3" cy="269.7" r="1.38" fill="#c4954f"/>
<circle cx="579.6" cy="269.6" r="1.38" fill="#c4954f"/>
<circle cx="558.1" cy="276.2" r="1.38" fill="#c4954f"/>
<circle cx="571.0" cy="276.2" r="1.38" fill="#c4954f"/>
<circle cx="579.6" cy="276.3" r="1.38" fill="#c4954f"/>
<circle cx="558.1" cy="279.3" r="1.38" fill="#c4954f"/>
<circle cx="566.7" cy="279.2" r="1.38" fill="#c4954f"/>
<circle cx="575.3" cy="279.8" r="1.38" fill="#c4954f"/>
<circle cx="583.9" cy="279.6" r="1.38" fill="#c4954f"/>
<circle cx="558.1" cy="283.0" r="1.38" fill="#c4954f"/>
<circle cx="571.0" cy="282.5" r="1.38" fill="#c4954f"/>
<circle cx="579.6" cy="282.6" r="1.38" fill="#c4954f"/>
<circle cx="583.9" cy="282.6" r="1.38" fill="#c4954f"/>
<circle cx="566.7" cy="285.9" r="1.38" fill="#c4954f"/>
<circle cx="575.3" cy="286.2" r="1.38" fill="#c4954f"/>
<circle cx="553.8" cy="289.4" r="1.38" fill="#c4954f"/>
<circle cx="558.1" cy="289.6" r="1.38" fill="#c4954f"/>
<circle cx="562.4" cy="289.6" r="1.38" fill="#c4954f"/>
<circle cx="566.7" cy="289.4" r="1.38" fill="#c4954f"/>
<circle cx="575.3" cy="289.2" r="1.38" fill="#c4954f"/>
<circle cx="588.2" cy="289.2" r="1.38" fill="#c4954f"/>
<circle cx="549.5" cy="292.6" r="1.38" fill="#c4954f"/>
<circle cx="575.3" cy="292.9" r="1.38" fill="#c4954f"/>
<circle cx="583.9" cy="292.7" r="1.38" fill="#c4954f"/>
<circle cx="588.2" cy="292.7" r="1.38" fill="#c4954f"/>
<circle cx="592.5" cy="292.4" r="1.38" fill="#c4954f"/>
<circle cx="553.8" cy="295.9" r="1.38" fill="#c4954f"/>
<circle cx="558.1" cy="296.1" r="1.38" fill="#c4954f"/>
<circle cx="566.7" cy="296.0" r="1.38" fill="#c4954f"/>
<circle cx="583.9" cy="295.8" r="1.38" fill="#c4954f"/>
<circle cx="592.5" cy="296.3" r="1.38" fill="#c4954f"/>
<circle cx="562.4" cy="299.1" r="1.38" fill="#c4954f"/>
<circle cx="575.3" cy="263.2" r="1.38" fill="#db6899"/>
<circle cx="566.7" cy="266.1" r="1.38" fill="#db6899"/>
<circle cx="571.0" cy="266.0" r="1.38" fill="#db6899"/>
<circle cx="562.4" cy="269.3" r="1.38" fill="#db6899"/>
<circle cx="566.7" cy="269.8" r="1.38" fill="#db6899"/>
<circle cx="579.6" cy="269.3" r="1.38" fill="#db6899"/>
<circle cx="562.4" cy="272.7" r="1.38" fill="#db6899"/>
<circle cx="566.7" cy="272.7" r="1.38" fill="#db6899"/>
<circle cx="575.3" cy="272.7" r="1.38" fill="#db6899"/>
<circle cx="558.1" cy="276.0" r="1.38" fill="#db6899"/>
<circle cx="571.0" cy="276.2" r="1.38" fill="#db6899"/>
<circle cx="575.3" cy="276.3" r="1.38" fill="#db6899"/>
<circle cx="579.6" cy="276.1" r="1.38" fill="#db6899"/>
<circle cx="583.9" cy="276.5" r="1.38" fill="#db6899"/>
<circle cx="558.1" cy="279.5" r="1.38" fill="#db6899"/>
<circle cx="566.7" cy="279.4" r="1.38" fill="#db6899"/>
<circle cx="575.3" cy="279.6" r="1.38" fill="#db6899"/>
<circle cx="583.9" cy="279.3" r="1.38" fill="#db6899"/>
<circle cx="588.2" cy="279.7" r="1.38" fill="#db6899"/>
<circle cx="566.7" cy="282.7" r="1.38" fill="#db6899"/>
<circle cx="579.6" cy="283.1" r="1.38" fill="#db6899"/>
<circle cx="553.8" cy="286.2" r="1.38" fill="#db6899"/>
<circle cx="553.8" cy="289.3" r="1.38" fill="#db6899"/>
<circle cx="562.4" cy="289.6" r="1.38" fill="#db6899"/>
<circle cx="566.7" cy="289.5" r="1.38" fill="#db6899"/>
<circle cx="571.0" cy="289.3" r="1.38" fill="#db6899"/>
<circle cx="579.6" cy="289.4" r="1.38" fill="#db6899"/>
<circle cx="553.8" cy="292.6" r="1.38" fill="#db6899"/>
<circle cx="562.4" cy="292.9" r="1.38" fill="#db6899"/>
<circle cx="566.7" cy="292.7" r="1.38" fill="#db6899"/>
<circle cx="571.0" cy="292.4" r="1.38" fill="#db6899"/>
<circle cx="575.3" cy="292.4" r="1.38" fill="#db6899"/>
<circle cx="579.6" cy="292.5" r="1.38" fill="#db6899"/>
<circle cx="549.5" cy="296.2" r="1.38" fill="#db6899"/>
<circle cx="553.8" cy="296.0" r="1.38" fill="#db6899"/>
<circle cx="571.0" cy="295.9" r="1.38" fill="#db6899"/>
<circle cx="575.3" cy="295.9" r="1.38" fill="#db6899"/>
<circle cx="592.5" cy="296.2" r="1.38" fill="#db6899"/>
<circle cx="566.7" cy="299.4" r="1.38" fill="#db6899"/>
<circle cx="571.0" cy="299.0" r="1.38" fill="#db6899"/>
<circle cx="575.3" cy="299.1" r="1.38" fill="#db6899"/>
<circle cx="571.0" cy="277.7" r="1.38" fill="#cf1f2a"/>
<circle cx="575.3" cy="278.0" r="1.38" fill="#cf1f2a"/>
<circle cx="566.7" cy="281.0" r="1.38" fill="#cf1f2a"/>
<circle cx="575.3" cy="281.1" r="1.38" fill="#cf1f2a"/>
<circle cx="579.6" cy="281.1" r="1.38" fill="#cf1f2a"/>
<circle cx="583.9" cy="281.3" r="1.38" fill="#cf1f2a"/>
<circle cx="558.1" cy="284.7" r="1.38" fill="#cf1f2a"/>
<circle cx="566.7" cy="284.3" r="1.38" fill="#cf1f2a"/>
<circle cx="575.3" cy="288.1" r="1.38" fill="#cf1f2a"/>
<circle cx="553.8" cy="291.2" r="1.38" fill="#cf1f2a"/>
<circle cx="558.1" cy="291.3" r="1.38" fill="#cf1f2a"/>
<circle cx="571.0" cy="290.9" r="1.38" fill="#cf1f2a"/>
<circle cx="549.5" cy="294.5" r="1.38" fill="#cf1f2a"/>
<circle cx="562.4" cy="294.8" r="1.38" fill="#cf1f2a"/>
<circle cx="571.0" cy="294.5" r="1.38" fill="#cf1f2a"/>
<circle cx="575.3" cy="294.8" r="1.38" fill="#cf1f2a"/>
<circle cx="579.6" cy="294.4" r="1.38" fill="#cf1f2a"/>
<circle cx="583.9" cy="294.6" r="1.38" fill="#cf1f2a"/>
<circle cx="588.2" cy="294.3" r="1.38" fill="#cf1f2a"/>
<circle cx="592.5" cy="294.6" r="1.38" fill="#cf1f2a"/>
<circle cx="558.1" cy="297.7" r="1.38" fill="#cf1f2a"/>
<circle cx="562.4" cy="298.1" r="1.38" fill="#cf1f2a"/>
<circle cx="566.7" cy="297.5" r="1.38" fill="#cf1f2a"/>
<circle cx="579.6" cy="297.5" r="1.38" fill="#cf1f2a"/>
<circle cx="558.1" cy="301.2" r="1.38" fill="#cf1f2a"/>
<circle cx="562.4" cy="301.1" r="1.38" fill="#cf1f2a"/>
<circle cx="571.0" cy="301.4" r="1.38" fill="#cf1f2a"/>
<circle cx="575.3" cy="300.9" r="1.38" fill="#cf1f2a"/>
<circle cx="583.9" cy="300.8" r="1.38" fill="#cf1f2a"/>
<circle cx="579.6" cy="304.1" r="1.38" fill="#cf1f2a"/>
<circle cx="571.0" cy="308.0" r="1.38" fill="#cf1f2a"/>
<circle cx="575.3" cy="307.8" r="1.38" fill="#cf1f2a"/>
<circle cx="579.6" cy="308.0" r="1.38" fill="#cf1f2a"/>
<circle cx="571.0" cy="311.2" r="1.38" fill="#cf1f2a"/>
<circle cx="562.4" cy="314.3" r="1.38" fill="#cf1f2a"/>
<circle cx="566.7" cy="314.3" r="1.38" fill="#cf1f2a"/>
<circle cx="579.6" cy="314.3" r="1.38" fill="#cf1f2a"/>
<circle cx="562.4" cy="317.4" r="1.38" fill="#cf1f2a"/>
<circle cx="575.3" cy="317.5" r="1.38" fill="#cf1f2a"/>
<circle cx="571.0" cy="320.6" r="1.38" fill="#cf1f2a"/>
<circle cx="575.3" cy="321.1" r="1.38" fill="#cf1f2a"/>
<circle cx="571.0" cy="324.1" r="1.38" fill="#cf1f2a"/>
<circle cx="575.3" cy="324.5" r="1.38" fill="#cf1f2a"/>
<circle cx="566.7" cy="319.7" r="1.38" fill="#7d40a0"/>
<circle cx="575.3" cy="320.1" r="1.38" fill="#7d40a0"/>
<circle cx="566.7" cy="323.6" r="1.38" fill="#7d40a0"/>
<circle cx="575.3" cy="323.4" r="1.38" fill="#7d40a0"/>
<circle cx="579.6" cy="323.2" r="1.38" fill="#7d40a0"/>
<circle cx="558.1" cy="326.7" r="1.38" fill="#7d40a0"/>
<circle cx="562.4" cy="326.5" r="1.38" fill="#7d40a0"/>
<circle cx="583.9" cy="326.7" r="1.38" fill="#7d40a0"/>
<circle cx="553.8" cy="329.8" r="1.38" fill="#7d40a0"/>
<circle cx="558.1" cy="330.1" r="1.38" fill="#7d40a0"/>
<circle cx="566.7" cy="329.8" r="1.38" fill="#7d40a0"/>
<circle cx="571.0" cy="329.6" r="1.38" fill="#7d40a0"/>
<circle cx="575.3" cy="330.2" r="1.38" fill="#7d40a0"/>
<circle cx="579.6" cy="329.7" r="1.38" fill="#7d40a0"/>
<circle cx="588.2" cy="330.2" r="1.38" fill="#7d40a0"/>
<circle cx="558.1" cy="333.2" r="1.38" fill="#7d40a0"/>
<circle cx="562.4" cy="333.1" r="1.38" fill="#7d40a0"/>
<circle cx="566.7" cy="333.0" r="1.38" fill="#7d40a0"/>
<circle cx="575.3" cy="333.3" r="1.38" fill="#7d40a0"/>
<circle cx="583.9" cy="333.0" r="1.38" fill="#7d40a0"/>
<circle cx="562.4" cy="336.2" r="1.38" fill="#7d40a0"/>
<circle cx="571.0" cy="336.2" r="1.38" fill="#7d40a0"/>
<circle cx="575.3" cy="336.6" r="1.38" fill="#7d40a0"/>
<circle cx="579.6" cy="336.2" r="1.38" fill="#7d40a0"/>
<circle cx="566.7" cy="339.7" r="1.38" fill="#7d40a0"/>
<circle cx="575.3" cy="340.1" r="1.38" fill="#7d40a0"/>
<circle cx="858.9" cy="276.2" r="1.38" fill="#c4954f"/>
<circle cx="863.2" cy="276.0" r="1.38" fill="#c4954f"/>
<circle cx="867.5" cy="275.7" r="1.38" fill="#c4954f"/>
<circle cx="850.3" cy="279.1" r="1.38" fill="#c4954f"/>
<circle cx="854.6" cy="282.8" r="1.38" fill="#c4954f"/>
<circle cx="863.2" cy="282.6" r="1.38" fill="#c4954f"/>
<circle cx="867.5" cy="282.6" r="1.38" fill="#c4954f"/>
<circle cx="863.2" cy="285.7" r="1.38" fill="#c4954f"/>
<circle cx="867.5" cy="285.7" r="1.38" fill="#c4954f"/>
<circle cx="841.7" cy="289.2" r="1.38" fill="#c4954f"/>
<circle cx="846.0" cy="289.2" r="1.38" fill="#c4954f"/>
<circle cx="850.3" cy="289.4" r="1.38" fill="#c4954f"/>
<circle cx="854.6" cy="289.4" r="1.38" fill="#c4954f"/>
<circle cx="863.2" cy="289.2" r="1.38" fill="#c4954f"/>
<circle cx="867.5" cy="289.5" r="1.38" fill="#c4954f"/>
<circle cx="871.8" cy="289.0" r="1.38" fill="#c4954f"/>
<circle cx="854.6" cy="292.5" r="1.38" fill="#c4954f"/>
<circle cx="858.9" cy="292.5" r="1.38" fill="#c4954f"/>
<circle cx="863.2" cy="292.6" r="1.38" fill="#c4954f"/>
<circle cx="867.5" cy="292.2" r="1.38" fill="#c4954f"/>
<circle cx="871.8" cy="292.5" r="1.38" fill="#c4954f"/>
<circle cx="854.6" cy="296.1" r="1.38" fill="#c4954f"/>
<circle cx="863.2" cy="295.6" r="1.38" fill="#c4954f"/>
<circle cx="854.6" cy="286.2" r="1.38" fill="#cf1f2a"/>
<circle cx="867.5" cy="285.7" r="1.38" fill="#cf1f2a"/>
<circle cx="850.3" cy="289.1" r="1.38" fill="#cf1f2a"/>
<circle cx="863.2" cy="289.0" r="1.38" fill="#cf1f2a"/>
<circle cx="867.5" cy="289.1" r="1.38" fill="#cf1f2a"/>
<circle cx="858.9" cy="292.6" r="1.38" fill="#cf1f2a"/>
<circle cx="863.2" cy="292.5" r="1.38" fill="#cf1f2a"/>
<circle cx="867.5" cy="292.7" r="1.38" fill="#cf1f2a"/>
<circle cx="841.7" cy="295.9" r="1.38" fill="#cf1f2a"/>
<circle cx="846.0" cy="295.6" r="1.38" fill="#cf1f2a"/>
<circle cx="850.3" cy="295.8" r="1.38" fill="#cf1f2a"/>
<circle cx="854.6" cy="295.6" r="1.38" fill="#cf1f2a"/>
<circle cx="858.9" cy="296.2" r="1.38" fill="#cf1f2a"/>
<circle cx="867.5" cy="295.8" r="1.38" fill="#cf1f2a"/>
<circle cx="871.8" cy="295.8" r="1.38" fill="#cf1f2a"/>
<circle cx="876.1" cy="296.0" r="1.38" fill="#cf1f2a"/>
<circle cx="841.7" cy="299.0" r="1.38" fill="#cf1f2a"/>
<circle cx="846.0" cy="298.9" r="1.38" fill="#cf1f2a"/>
<circle cx="854.6" cy="299.4" r="1.38" fill="#cf1f2a"/>
<circle cx="863.2" cy="299.0" r="1.38" fill="#cf1f2a"/>
<circle cx="867.5" cy="299.4" r="1.38" fill="#cf1f2a"/>
<circle cx="876.1" cy="299.2" r="1.38" fill="#cf1f2a"/>
<circle cx="880.4" cy="299.2" r="1.38" fill="#cf1f2a"/>
<circle cx="841.7" cy="302.7" r="1.38" fill="#cf1f2a"/>
<circle cx="863.2" cy="302.8" r="1.38" fill="#cf1f2a"/>
<circle cx="867.5" cy="302.7" r="1.38" fill="#cf1f2a"/>
<circle cx="871.8" cy="302.4" r="1.38" fill="#cf1f2a"/>
<circle cx="876.1" cy="302.7" r="1.38" fill="#cf1f2a"/>
<circle cx="841.7" cy="306.1" r="1.38" fill="#cf1f2a"/>
<circle cx="850.3" cy="305.5" r="1.38" fill="#cf1f2a"/>
<circle cx="854.6" cy="305.7" r="1.38" fill="#cf1f2a"/>
<circle cx="858.9" cy="306.1" r="1.38" fill="#cf1f2a"/>
<circle cx="871.8" cy="305.6" r="1.38" fill="#cf1f2a"/>
<circle cx="850.3" cy="308.9" r="1.38" fill="#cf1f2a"/>
<circle cx="854.6" cy="308.8" r="1.38" fill="#cf1f2a"/>
<circle cx="858.9" cy="309.1" r="1.38" fill="#cf1f2a"/>
<circle cx="863.2" cy="309.1" r="1.38" fill="#cf1f2a"/>
<circle cx="867.5" cy="308.8" r="1.38" fill="#cf1f2a"/>
<circle cx="858.9" cy="316.0" r="1.38" fill="#cf1f2a"/>
<circle cx="856.9" cy="318.5" r="1.38" fill="#cf1f2a"/>
<circle cx="858.9" cy="321.0" r="1.38" fill="#cf1f2a"/>
<circle cx="858.9" cy="333.4" r="1.38" fill="#cf1f2a"/>
<circle cx="858.9" cy="336.2" r="1.38" fill="#cf1f2a"/>
<circle cx="858.9" cy="339.2" r="1.38" fill="#cf1f2a"/>
<circle cx="850.3" cy="369.0" r="1.38" fill="#db6899"/>
<circle cx="854.6" cy="368.8" r="1.38" fill="#db6899"/>
<circle cx="858.9" cy="368.9" r="1.38" fill="#db6899"/>
<circle cx="863.2" cy="368.7" r="1.38" fill="#db6899"/>
<circle cx="867.5" cy="369.0" r="1.38" fill="#db6899"/>
<circle cx="871.8" cy="369.3" r="1.38" fill="#db6899"/>
<circle cx="841.7" cy="372.3" r="1.38" fill="#db6899"/>
<circle cx="850.3" cy="372.0" r="1.38" fill="#db6899"/>
<circle cx="863.2" cy="372.2" r="1.38" fill="#db6899"/>
<circle cx="854.6" cy="375.6" r="1.38" fill="#db6899"/>
<circle cx="876.1" cy="375.8" r="1.38" fill="#db6899"/>
<circle cx="846.0" cy="378.9" r="1.38" fill="#db6899"/>
<circle cx="850.3" cy="379.2" r="1.38" fill="#db6899"/>
<circle cx="854.6" cy="378.9" r="1.38" fill="#db6899"/>
<circle cx="858.9" cy="379.1" r="1.38" fill="#db6899"/>
<circle cx="863.2" cy="379.1" r="1.38" fill="#db6899"/>
<circle cx="867.5" cy="379.2" r="1.38" fill="#db6899"/>
<circle cx="871.8" cy="378.7" r="1.38" fill="#db6899"/>
<circle cx="841.7" cy="381.9" r="1.38" fill="#db6899"/>
<circle cx="854.6" cy="382.5" r="1.38" fill="#db6899"/>
<circle cx="863.2" cy="382.2" r="1.38" fill="#db6899"/>
<circle cx="867.5" cy="381.9" r="1.38" fill="#db6899"/>
<circle cx="880.4" cy="382.2" r="1.38" fill="#db6899"/>
<circle cx="837.4" cy="385.6" r="1.38" fill="#db6899"/>
<circle cx="841.7" cy="385.4" r="1.38" fill="#db6899"/>
<circle cx="846.0" cy="385.5" r="1.38" fill="#db6899"/>
<circle cx="850.3" cy="385.6" r="1.38" fill="#db6899"/>
<circle cx="871.8" cy="385.3" r="1.38" fill="#db6899"/>
<circle cx="876.1" cy="385.6" r="1.38" fill="#db6899"/>
<circle cx="837.4" cy="389.1" r="1.38" fill="#db6899"/>
<circle cx="841.7" cy="388.5" r="1.38" fill="#db6899"/>
<circle cx="846.0" cy="388.6" r="1.38" fill="#db6899"/>
<circle cx="858.9" cy="388.6" r="1.38" fill="#db6899"/>
<circle cx="863.2" cy="389.0" r="1.38" fill="#db6899"/>
<circle cx="871.8" cy="388.5" r="1.38" fill="#db6899"/>
<circle cx="867.5" cy="369.0" r="1.38" fill="#7d40a0"/>
<circle cx="841.7" cy="372.4" r="1.38" fill="#7d40a0"/>
<circle cx="846.0" cy="372.6" r="1.38" fill="#7d40a0"/>
<circle cx="850.3" cy="372.1" r="1.38" fill="#7d40a0"/>
<circle cx="846.0" cy="375.8" r="1.38" fill="#7d40a0"/>
<circle cx="858.9" cy="375.3" r="1.38" fill="#7d40a0"/>
<circle cx="863.2" cy="379.2" r="1.38" fill="#7d40a0"/>
<circle cx="880.4" cy="378.9" r="1.38" fill="#7d40a0"/>
<circle cx="846.0" cy="381.9" r="1.38" fill="#7d40a0"/>
<circle cx="854.6" cy="382.0" r="1.38" fill="#7d40a0"/>
<circle cx="858.9" cy="382.1" r="1.38" fill="#7d40a0"/>
<circle cx="876.1" cy="382.5" r="1.38" fill="#7d40a0"/>
<circle cx="850.3" cy="385.2" r="1.38" fill="#7d40a0"/>
<circle cx="858.9" cy="385.6" r="1.38" fill="#7d40a0"/>
<circle cx="854.6" cy="388.9" r="1.38" fill="#7d40a0"/>
<circle cx="876.1" cy="389.0" r="1.38" fill="#7d40a0"/>
<circle cx="858.9" cy="394.5" r="1.38" fill="#7d40a0"/>
<circle cx="863.2" cy="441.9" r="1.38" fill="#187a48"/>
<circle cx="850.3" cy="444.6" r="1.38" fill="#187a48"/>
<circle cx="854.6" cy="444.8" r="1.38" fill="#187a48"/>
<circle cx="863.2" cy="444.7" r="1.38" fill="#187a48"/>
<circle cx="850.3" cy="448.1" r="1.38" fill="#187a48"/>
<circle cx="854.6" cy="447.9" r="1.38" fill="#187a48"/>
<circle cx="863.2" cy="448.4" r="1.38" fill="#187a48"/>
<circle cx="867.5" cy="448.5" r="1.38" fill="#187a48"/>
<circle cx="850.3" cy="451.5" r="1.38" fill="#187a48"/>
<circle cx="854.6" cy="451.2" r="1.38" fill="#187a48"/>
<circle cx="858.9" cy="451.8" r="1.38" fill="#187a48"/>
<circle cx="863.2" cy="451.5" r="1.38" fill="#187a48"/>
<circle cx="867.5" cy="451.3" r="1.38" fill="#187a48"/>
<circle cx="846.0" cy="454.5" r="1.38" fill="#187a48"/>
<circle cx="850.3" cy="454.6" r="1.38" fill="#187a48"/>
<circle cx="850.3" cy="457.8" r="1.38" fill="#187a48"/>
<circle cx="871.8" cy="458.1" r="1.38" fill="#187a48"/>
<circle cx="854.6" cy="461.7" r="1.38" fill="#187a48"/>
<circle cx="858.9" cy="461.2" r="1.38" fill="#187a48"/>
<circle cx="867.5" cy="461.1" r="1.38" fill="#187a48"/>
<circle cx="846.0" cy="464.5" r="1.38" fill="#187a48"/>
<circle cx="850.3" cy="464.8" r="1.38" fill="#187a48"/>
<circle cx="854.6" cy="464.8" r="1.38" fill="#187a48"/>
<circle cx="850.3" cy="468.2" r="1.38" fill="#187a48"/>
<circle cx="854.6" cy="468.1" r="1.38" fill="#187a48"/>
<circle cx="858.9" cy="467.7" r="1.38" fill="#187a48"/>
<circle cx="867.5" cy="468.2" r="1.38" fill="#187a48"/>
<circle cx="850.3" cy="471.0" r="1.38" fill="#187a48"/>
<circle cx="858.9" cy="471.6" r="1.38" fill="#187a48"/>
<circle cx="867.5" cy="471.3" r="1.38" fill="#187a48"/>
<circle cx="854.6" cy="474.7" r="1.38" fill="#187a48"/>
<circle cx="858.9" cy="474.6" r="1.38" fill="#187a48"/>
<circle cx="858.9" cy="478.1" r="1.38" fill="#187a48"/>
<circle cx="858.9" cy="481.4" r="1.38" fill="#187a48"/>
<circle cx="933.2" cy="158.7" r="1.38" fill="#cf1f2a"/>
<circle cx="933.2" cy="163.0" r="1.38" fill="#cf1f2a"/>
<circle cx="933.2" cy="168.5" r="1.38" fill="#cf1f2a"/>
<circle cx="933.2" cy="174.0" r="1.38" fill="#cf1f2a"/>
<circle cx="933.2" cy="175.9" r="1.38" fill="#cf1f2a"/>
<circle cx="928.9" cy="179.1" r="1.38" fill="#cf1f2a"/>
<circle cx="933.2" cy="179.6" r="1.38" fill="#cf1f2a"/>
<circle cx="937.5" cy="179.5" r="1.38" fill="#cf1f2a"/>
<circle cx="924.6" cy="182.4" r="1.38" fill="#cf1f2a"/>
<circle cx="928.9" cy="182.9" r="1.38" fill="#cf1f2a"/>
<circle cx="941.8" cy="182.3" r="1.38" fill="#cf1f2a"/>
<circle cx="924.6" cy="185.6" r="1.38" fill="#cf1f2a"/>
<circle cx="928.9" cy="186.0" r="1.38" fill="#cf1f2a"/>
<circle cx="937.5" cy="185.7" r="1.38" fill="#cf1f2a"/>
<circle cx="941.8" cy="185.7" r="1.38" fill="#cf1f2a"/>
<circle cx="924.6" cy="189.2" r="1.38" fill="#cf1f2a"/>
<circle cx="928.9" cy="189.1" r="1.38" fill="#cf1f2a"/>
<circle cx="937.5" cy="189.4" r="1.38" fill="#cf1f2a"/>
<circle cx="941.8" cy="188.9" r="1.38" fill="#cf1f2a"/>
<circle cx="924.6" cy="192.6" r="1.38" fill="#cf1f2a"/>
<circle cx="933.2" cy="192.6" r="1.38" fill="#cf1f2a"/>
<circle cx="937.5" cy="192.6" r="1.38" fill="#cf1f2a"/>
<circle cx="928.9" cy="195.6" r="1.38" fill="#cf1f2a"/>
<circle cx="928.9" cy="198.8" r="1.38" fill="#cf1f2a"/>
<circle cx="933.2" cy="199.4" r="1.38" fill="#cf1f2a"/>
<circle cx="937.5" cy="199.0" r="1.38" fill="#cf1f2a"/>
<circle cx="928.9" cy="202.7" r="1.38" fill="#cf1f2a"/>
<circle cx="933.2" cy="202.1" r="1.38" fill="#cf1f2a"/>
<circle cx="937.5" cy="202.2" r="1.38" fill="#cf1f2a"/>
<circle cx="933.2" cy="205.8" r="1.38" fill="#cf1f2a"/>
<circle cx="933.2" cy="208.7" r="1.38" fill="#cf1f2a"/>
<circle cx="933.2" cy="212.0" r="1.38" fill="#cf1f2a"/>
<circle cx="933.2" cy="215.8" r="1.38" fill="#cf1f2a"/>
<circle cx="933.2" cy="219.1" r="1.38" fill="#cf1f2a"/>
<circle cx="933.2" cy="222.1" r="1.38" fill="#cf1f2a"/>
<circle cx="933.2" cy="228.8" r="1.38" fill="#cf1f2a"/>
<circle cx="928.9" cy="235.8" r="1.38" fill="#db6899"/>
<circle cx="933.2" cy="235.8" r="1.38" fill="#db6899"/>
<circle cx="941.8" cy="236.1" r="1.38" fill="#db6899"/>
<circle cx="946.1" cy="235.7" r="1.38" fill="#db6899"/>
<circle cx="950.4" cy="236.3" r="1.38" fill="#db6899"/>
<circle cx="916.0" cy="239.6" r="1.38" fill="#db6899"/>
<circle cx="920.3" cy="239.5" r="1.38" fill="#db6899"/>
<circle cx="928.9" cy="239.0" r="1.38" fill="#db6899"/>
<circle cx="933.2" cy="239.0" r="1.38" fill="#db6899"/>
<circle cx="946.1" cy="239.0" r="1.38" fill="#db6899"/>
<circle cx="954.7" cy="239.0" r="1.38" fill="#db6899"/>
<circle cx="924.6" cy="242.5" r="1.38" fill="#db6899"/>
<circle cx="928.9" cy="242.6" r="1.38" fill="#db6899"/>
<circle cx="933.2" cy="242.9" r="1.38" fill="#db6899"/>
<circle cx="946.1" cy="242.9" r="1.38" fill="#db6899"/>
<circle cx="907.4" cy="245.8" r="1.38" fill="#db6899"/>
<circle cx="911.7" cy="246.1" r="1.38" fill="#db6899"/>
<circle cx="916.0" cy="246.2" r="1.38" fill="#db6899"/>
<circle cx="920.3" cy="245.9" r="1.38" fill="#db6899"/>
<circle cx="946.1" cy="246.0" r="1.38" fill="#db6899"/>
<circle cx="950.4" cy="246.0" r="1.38" fill="#db6899"/>
<circle cx="911.7" cy="249.2" r="1.38" fill="#db6899"/>
<circle cx="916.0" cy="249.2" r="1.38" fill="#db6899"/>
<circle cx="920.3" cy="249.1" r="1.38" fill="#db6899"/>
<circle cx="937.5" cy="249.2" r="1.38" fill="#db6899"/>
<circle cx="941.8" cy="249.4" r="1.38" fill="#db6899"/>
<circle cx="950.4" cy="249.0" r="1.38" fill="#db6899"/>
<circle cx="954.7" cy="248.9" r="1.38" fill="#db6899"/>
<circle cx="916.0" cy="235.7" r="1.38" fill="#c4954f"/>
<circle cx="924.6" cy="236.2" r="1.38" fill="#c4954f"/>
<circle cx="941.8" cy="235.8" r="1.38" fill="#c4954f"/>
<circle cx="924.6" cy="239.1" r="1.38" fill="#c4954f"/>
<circle cx="950.4" cy="239.3" r="1.38" fill="#c4954f"/>
<circle cx="924.6" cy="242.4" r="1.38" fill="#c4954f"/>
<circle cx="928.9" cy="242.3" r="1.38" fill="#c4954f"/>
<circle cx="941.8" cy="242.3" r="1.38" fill="#c4954f"/>
<circle cx="950.4" cy="242.7" r="1.38" fill="#c4954f"/>
<circle cx="946.1" cy="248.9" r="1.38" fill="#c4954f"/>
<circle cx="916.0" cy="252.2" r="1.38" fill="#c4954f"/>
<circle cx="924.6" cy="252.7" r="1.38" fill="#c4954f"/>
<circle cx="946.1" cy="255.9" r="1.38" fill="#c4954f"/>
<circle cx="920.3" cy="258.8" r="1.38" fill="#c4954f"/>
<circle cx="928.9" cy="262.1" r="1.38" fill="#c4954f"/>
<circle cx="924.6" cy="265.9" r="1.38" fill="#c4954f"/>
<circle cx="928.9" cy="265.5" r="1.38" fill="#c4954f"/>
<circle cx="937.5" cy="265.5" r="1.38" fill="#c4954f"/>
<circle cx="941.8" cy="265.7" r="1.38" fill="#c4954f"/>
<circle cx="946.1" cy="265.8" r="1.38" fill="#c4954f"/>
<circle cx="941.8" cy="269.2" r="1.38" fill="#c4954f"/>
<circle cx="924.6" cy="275.9" r="1.38" fill="#c4954f"/>
<circle cx="920.3" cy="278.6" r="1.38" fill="#c4954f"/>
<circle cx="941.8" cy="282.3" r="1.38" fill="#c4954f"/>
<circle cx="937.5" cy="285.5" r="1.38" fill="#c4954f"/>
<circle cx="924.6" cy="289.1" r="1.38" fill="#c4954f"/>
<circle cx="928.9" cy="288.9" r="1.38" fill="#c4954f"/>
<circle cx="933.2" cy="288.8" r="1.38" fill="#c4954f"/>
<circle cx="941.8" cy="289.1" r="1.38" fill="#c4954f"/>
<circle cx="916.0" cy="258.3" r="1.38" fill="#7d40a0"/>
<circle cx="937.5" cy="257.9" r="1.38" fill="#7d40a0"/>
<circle cx="950.4" cy="258.0" r="1.38" fill="#7d40a0"/>
<circle cx="933.2" cy="261.6" r="1.38" fill="#7d40a0"/>
<circle cx="941.8" cy="261.3" r="1.38" fill="#7d40a0"/>
<circle cx="950.4" cy="261.4" r="1.38" fill="#7d40a0"/>
<circle cx="916.0" cy="264.4" r="1.38" fill="#7d40a0"/>
<circle cx="920.3" cy="264.6" r="1.38" fill="#7d40a0"/>
<circle cx="933.2" cy="264.7" r="1.38" fill="#7d40a0"/>
<circle cx="950.4" cy="264.9" r="1.38" fill="#7d40a0"/>
<circle cx="916.0" cy="267.7" r="1.38" fill="#7d40a0"/>
<circle cx="933.2" cy="268.2" r="1.38" fill="#7d40a0"/>
<circle cx="937.5" cy="268.2" r="1.38" fill="#7d40a0"/>
<circle cx="937.5" cy="271.5" r="1.38" fill="#7d40a0"/>
<circle cx="941.8" cy="270.9" r="1.38" fill="#7d40a0"/>
<circle cx="950.4" cy="270.9" r="1.38" fill="#7d40a0"/>
<circle cx="916.0" cy="274.5" r="1.38" fill="#7d40a0"/>
<circle cx="924.6" cy="274.3" r="1.38" fill="#7d40a0"/>
<circle cx="928.9" cy="274.2" r="1.38" fill="#7d40a0"/>
<circle cx="933.2" cy="274.5" r="1.38" fill="#7d40a0"/>
<circle cx="928.9" cy="277.7" r="1.38" fill="#7d40a0"/>
<circle cx="937.5" cy="278.1" r="1.38" fill="#7d40a0"/>
<circle cx="946.1" cy="277.8" r="1.38" fill="#7d40a0"/>
<circle cx="924.6" cy="281.2" r="1.38" fill="#7d40a0"/>
<circle cx="928.9" cy="280.9" r="1.38" fill="#7d40a0"/>
<circle cx="933.2" cy="281.1" r="1.38" fill="#7d40a0"/>
<circle cx="941.8" cy="281.2" r="1.38" fill="#7d40a0"/>
<circle cx="928.9" cy="284.7" r="1.38" fill="#7d40a0"/>
<circle cx="941.8" cy="284.1" r="1.38" fill="#7d40a0"/>
<circle cx="920.3" cy="287.4" r="1.38" fill="#7d40a0"/>
<circle cx="924.6" cy="287.7" r="1.38" fill="#7d40a0"/>
<circle cx="928.9" cy="287.5" r="1.38" fill="#7d40a0"/>
<circle cx="941.8" cy="287.8" r="1.38" fill="#7d40a0"/>
<circle cx="928.9" cy="294.5" r="1.38" fill="#7d40a0"/>
<circle cx="933.2" cy="294.0" r="1.38" fill="#7d40a0"/>
<circle cx="941.8" cy="294.3" r="1.38" fill="#7d40a0"/>
<circle cx="928.9" cy="276.3" r="1.38" fill="#187a48"/>
<circle cx="933.2" cy="276.2" r="1.38" fill="#187a48"/>
<circle cx="924.6" cy="279.5" r="1.38" fill="#187a48"/>
<circle cx="928.9" cy="279.2" r="1.38" fill="#187a48"/>
<circle cx="933.2" cy="279.4" r="1.38" fill="#187a48"/>
<circle cx="924.6" cy="282.6" r="1.38" fill="#187a48"/>
<circle cx="928.9" cy="282.5" r="1.38" fill="#187a48"/>
<circle cx="937.5" cy="282.6" r="1.38" fill="#187a48"/>
<circle cx="924.6" cy="286.1" r="1.38" fill="#187a48"/>
<circle cx="928.9" cy="285.8" r="1.38" fill="#187a48"/>
<circle cx="933.2" cy="286.0" r="1.38" fill="#187a48"/>
<circle cx="937.5" cy="286.0" r="1.38" fill="#187a48"/>
<circle cx="941.8" cy="286.1" r="1.38" fill="#187a48"/>
<circle cx="924.6" cy="289.2" r="1.38" fill="#187a48"/>
<circle cx="928.9" cy="289.1" r="1.38" fill="#187a48"/>
<circle cx="937.5" cy="289.4" r="1.38" fill="#187a48"/>
<circle cx="941.8" cy="289.3" r="1.38" fill="#187a48"/>
<circle cx="946.1" cy="289.0" r="1.38" fill="#187a48"/>
<circle cx="920.3" cy="292.2" r="1.38" fill="#187a48"/>
<circle cx="933.2" cy="292.2" r="1.38" fill="#187a48"/>
<circle cx="946.1" cy="292.7" r="1.38" fill="#187a48"/>
<circle cx="920.3" cy="295.6" r="1.38" fill="#187a48"/>
<circle cx="933.2" cy="295.8" r="1.38" fill="#187a48"/>
<circle cx="920.3" cy="298.8" r="1.38" fill="#187a48"/>
<circle cx="924.6" cy="299.1" r="1.38" fill="#187a48"/>
<circle cx="933.2" cy="299.2" r="1.38" fill="#187a48"/>
<circle cx="946.1" cy="299.3" r="1.38" fill="#187a48"/>
<circle cx="920.3" cy="305.4" r="1.38" fill="#187a48"/>
<circle cx="928.9" cy="305.8" r="1.38" fill="#187a48"/>
<circle cx="941.8" cy="305.5" r="1.38" fill="#187a48"/>
<circle cx="946.1" cy="305.8" r="1.38" fill="#187a48"/>
<circle cx="924.6" cy="308.9" r="1.38" fill="#187a48"/>
<circle cx="928.9" cy="309.0" r="1.38" fill="#187a48"/>
<circle cx="933.2" cy="312.3" r="1.38" fill="#187a48"/>
<circle cx="941.8" cy="312.5" r="1.38" fill="#187a48"/>
<circle cx="924.6" cy="315.6" r="1.38" fill="#187a48"/>
<circle cx="933.2" cy="315.3" r="1.38" fill="#187a48"/>
<circle cx="937.5" cy="315.6" r="1.38" fill="#187a48"/>
<circle cx="928.9" cy="319.2" r="1.38" fill="#187a48"/>
<circle cx="928.9" cy="321.9" r="1.38" fill="#187a48"/>
<circle cx="937.5" cy="322.1" r="1.38" fill="#187a48"/>
<circle cx="1007.5" cy="162.9" r="1.38" fill="#cf1f2a"/>
<circle cx="1011.8" cy="162.8" r="1.38" fill="#cf1f2a"/>
<circle cx="1011.8" cy="166.3" r="1.38" fill="#cf1f2a"/>
<circle cx="1003.2" cy="169.3" r="1.38" fill="#cf1f2a"/>
<circle cx="1007.5" cy="169.6" r="1.38" fill="#cf1f2a"/>
<circle cx="1007.5" cy="173.1" r="1.38" fill="#cf1f2a"/>
<circle cx="1007.5" cy="176.0" r="1.38" fill="#cf1f2a"/>
<circle cx="1007.5" cy="179.7" r="1.38" fill="#cf1f2a"/>
<circle cx="1016.1" cy="179.6" r="1.38" fill="#cf1f2a"/>
<circle cx="1011.8" cy="182.7" r="1.38" fill="#cf1f2a"/>
<circle cx="998.9" cy="186.1" r="1.38" fill="#cf1f2a"/>
<circle cx="1003.2" cy="185.8" r="1.38" fill="#cf1f2a"/>
<circle cx="1007.5" cy="185.7" r="1.38" fill="#cf1f2a"/>
<circle cx="998.9" cy="189.6" r="1.38" fill="#cf1f2a"/>
<circle cx="1011.8" cy="189.6" r="1.38" fill="#cf1f2a"/>
<circle cx="1016.1" cy="189.5" r="1.38" fill="#cf1f2a"/>
<circle cx="998.9" cy="192.9" r="1.38" fill="#cf1f2a"/>
<circle cx="1007.5" cy="192.8" r="1.38" fill="#cf1f2a"/>
<circle cx="1011.8" cy="192.5" r="1.38" fill="#cf1f2a"/>
<circle cx="1016.1" cy="192.5" r="1.38" fill="#cf1f2a"/>
<circle cx="998.9" cy="195.7" r="1.38" fill="#cf1f2a"/>
<circle cx="1003.2" cy="195.6" r="1.38" fill="#cf1f2a"/>
<circle cx="1011.8" cy="196.0" r="1.38" fill="#cf1f2a"/>
<circle cx="1016.1" cy="196.2" r="1.38" fill="#cf1f2a"/>
<circle cx="1011.8" cy="202.6" r="1.38" fill="#cf1f2a"/>
<circle cx="1003.2" cy="205.7" r="1.38" fill="#cf1f2a"/>
<circle cx="1007.5" cy="205.9" r="1.38" fill="#cf1f2a"/>
<circle cx="1011.8" cy="206.0" r="1.38" fill="#cf1f2a"/>
<circle cx="1003.2" cy="209.0" r="1.38" fill="#cf1f2a"/>
<circle cx="1007.5" cy="212.5" r="1.38" fill="#cf1f2a"/>
<circle cx="1011.8" cy="212.5" r="1.38" fill="#cf1f2a"/>
<circle cx="1003.2" cy="216.0" r="1.38" fill="#cf1f2a"/>
<circle cx="1007.5" cy="215.5" r="1.38" fill="#cf1f2a"/>
<circle cx="1011.8" cy="216.0" r="1.38" fill="#cf1f2a"/>
<circle cx="1003.2" cy="218.8" r="1.38" fill="#cf1f2a"/>
<circle cx="1007.5" cy="222.2" r="1.38" fill="#cf1f2a"/>
<circle cx="994.6" cy="234.7" r="1.38" fill="#db6899"/>
<circle cx="998.9" cy="234.9" r="1.38" fill="#db6899"/>
<circle cx="1003.2" cy="234.9" r="1.38" fill="#db6899"/>
<circle cx="1007.5" cy="234.7" r="1.38" fill="#db6899"/>
<circle cx="1020.4" cy="234.7" r="1.38" fill="#db6899"/>
<circle cx="1029.0" cy="234.7" r="1.38" fill="#db6899"/>
<circle cx="986.0" cy="238.2" r="1.38" fill="#db6899"/>
<circle cx="1003.2" cy="238.0" r="1.38" fill="#db6899"/>
<circle cx="1011.8" cy="238.5" r="1.38" fill="#db6899"/>
<circle cx="1016.1" cy="238.3" r="1.38" fill="#db6899"/>
<circle cx="1024.7" cy="238.0" r="1.38" fill="#db6899"/>
<circle cx="1007.5" cy="241.4" r="1.38" fill="#db6899"/>
<circle cx="1016.1" cy="241.7" r="1.38" fill="#db6899"/>
<circle cx="1020.4" cy="241.5" r="1.38" fill="#db6899"/>
<circle cx="1024.7" cy="241.8" r="1.38" fill="#db6899"/>
<circle cx="1029.0" cy="241.5" r="1.38" fill="#db6899"/>
<circle cx="994.6" cy="244.8" r="1.38" fill="#db6899"/>
<circle cx="998.9" cy="244.6" r="1.38" fill="#db6899"/>
<circle cx="1003.2" cy="245.2" r="1.38" fill="#db6899"/>
<circle cx="1029.0" cy="244.9" r="1.38" fill="#db6899"/>
<circle cx="990.3" cy="248.3" r="1.38" fill="#db6899"/>
<circle cx="994.6" cy="248.3" r="1.38" fill="#db6899"/>
<circle cx="998.9" cy="248.2" r="1.38" fill="#db6899"/>
<circle cx="1003.2" cy="248.2" r="1.38" fill="#db6899"/>
<circle cx="1007.5" cy="248.0" r="1.38" fill="#db6899"/>
<circle cx="1016.1" cy="248.2" r="1.38" fill="#db6899"/>
<circle cx="1011.8" cy="236.0" r="1.38" fill="#c4954f"/>
<circle cx="1003.2" cy="239.4" r="1.38" fill="#c4954f"/>
<circle cx="990.3" cy="242.4" r="1.38" fill="#c4954f"/>
<circle cx="1003.2" cy="242.7" r="1.38" fill="#c4954f"/>
<circle cx="1016.1" cy="242.9" r="1.38" fill="#c4954f"/>
<circle cx="1020.4" cy="242.6" r="1.38" fill="#c4954f"/>
<circle cx="990.3" cy="245.7" r="1.38" fill="#c4954f"/>
<circle cx="994.6" cy="245.7" r="1.38" fill="#c4954f"/>
<circle cx="998.9" cy="246.0" r="1.38" fill="#c4954f"/>
<circle cx="1011.8" cy="249.4" r="1.38" fill="#c4954f"/>
<circle cx="1024.7" cy="249.4" r="1.38" fill="#c4954f"/>
<circle cx="990.3" cy="252.7" r="1.38" fill="#c4954f"/>
<circle cx="1003.2" cy="252.4" r="1.38" fill="#c4954f"/>
<circle cx="1011.8" cy="252.2" r="1.38" fill="#c4954f"/>
<circle cx="990.3" cy="255.5" r="1.38" fill="#c4954f"/>
<circle cx="1007.5" cy="256.0" r="1.38" fill="#c4954f"/>
<circle cx="1011.8" cy="255.6" r="1.38" fill="#c4954f"/>
<circle cx="1024.7" cy="255.6" r="1.38" fill="#c4954f"/>
<circle cx="1003.2" cy="259.3" r="1.38" fill="#c4954f"/>
<circle cx="1020.4" cy="259.3" r="1.38" fill="#c4954f"/>
<circle cx="994.6" cy="269.1" r="1.38" fill="#c4954f"/>
<circle cx="1020.4" cy="269.1" r="1.38" fill="#c4954f"/>
<circle cx="998.9" cy="272.1" r="1.38" fill="#c4954f"/>
<circle cx="1020.4" cy="272.5" r="1.38" fill="#c4954f"/>
<circle cx="1007.5" cy="275.4" r="1.38" fill="#c4954f"/>
<circle cx="998.9" cy="278.6" r="1.38" fill="#c4954f"/>
<circle cx="1007.5" cy="278.6" r="1.38" fill="#c4954f"/>
<circle cx="1003.2" cy="282.2" r="1.38" fill="#c4954f"/>
<circle cx="1016.1" cy="282.0" r="1.38" fill="#c4954f"/>
<circle cx="1003.2" cy="292.2" r="1.38" fill="#c4954f"/>
<circle cx="994.6" cy="255.8" r="1.38" fill="#7d40a0"/>
<circle cx="1003.2" cy="255.8" r="1.38" fill="#7d40a0"/>
<circle cx="1007.5" cy="256.1" r="1.38" fill="#7d40a0"/>
<circle cx="1011.8" cy="256.3" r="1.38" fill="#7d40a0"/>
<circle cx="990.3" cy="259.2" r="1.38" fill="#7d40a0"/>
<circle cx="994.6" cy="259.0" r="1.38" fill="#7d40a0"/>
<circle cx="1003.2" cy="259.0" r="1.38" fill="#7d40a0"/>
<circle cx="1011.8" cy="259.5" r="1.38" fill="#7d40a0"/>
<circle cx="1024.7" cy="259.3" r="1.38" fill="#7d40a0"/>
<circle cx="994.6" cy="262.9" r="1.38" fill="#7d40a0"/>
<circle cx="998.9" cy="262.7" r="1.38" fill="#7d40a0"/>
<circle cx="1003.2" cy="262.3" r="1.38" fill="#7d40a0"/>
<circle cx="1007.5" cy="262.8" r="1.38" fill="#7d40a0"/>
<circle cx="1024.7" cy="262.8" r="1.38" fill="#7d40a0"/>
<circle cx="1007.5" cy="265.7" r="1.38" fill="#7d40a0"/>
<circle cx="1011.8" cy="265.9" r="1.38" fill="#7d40a0"/>
<circle cx="1016.1" cy="266.2" r="1.38" fill="#7d40a0"/>
<circle cx="1020.4" cy="266.1" r="1.38" fill="#7d40a0"/>
<circle cx="1024.7" cy="265.6" r="1.38" fill="#7d40a0"/>
<circle cx="994.6" cy="269.3" r="1.38" fill="#7d40a0"/>
<circle cx="1003.2" cy="269.1" r="1.38" fill="#7d40a0"/>
<circle cx="1007.5" cy="269.3" r="1.38" fill="#7d40a0"/>
<circle cx="1011.8" cy="269.3" r="1.38" fill="#7d40a0"/>
<circle cx="1020.4" cy="269.1" r="1.38" fill="#7d40a0"/>
<circle cx="1024.7" cy="269.5" r="1.38" fill="#7d40a0"/>
<circle cx="994.6" cy="272.5" r="1.38" fill="#7d40a0"/>
<circle cx="998.9" cy="272.5" r="1.38" fill="#7d40a0"/>
<circle cx="1003.2" cy="272.2" r="1.38" fill="#7d40a0"/>
<circle cx="1016.1" cy="272.6" r="1.38" fill="#7d40a0"/>
<circle cx="1020.4" cy="272.6" r="1.38" fill="#7d40a0"/>
<circle cx="1024.7" cy="272.7" r="1.38" fill="#7d40a0"/>
<circle cx="994.6" cy="275.7" r="1.38" fill="#7d40a0"/>
<circle cx="1003.2" cy="276.1" r="1.38" fill="#7d40a0"/>
<circle cx="1007.5" cy="275.7" r="1.38" fill="#7d40a0"/>
<circle cx="1011.8" cy="275.8" r="1.38" fill="#7d40a0"/>
<circle cx="1020.4" cy="275.6" r="1.38" fill="#7d40a0"/>
<circle cx="994.6" cy="278.9" r="1.38" fill="#7d40a0"/>
<circle cx="1003.2" cy="278.8" r="1.38" fill="#7d40a0"/>
<circle cx="1024.7" cy="279.0" r="1.38" fill="#7d40a0"/>
<circle cx="1011.8" cy="282.2" r="1.38" fill="#7d40a0"/>
<circle cx="1016.1" cy="282.1" r="1.38" fill="#7d40a0"/>
<circle cx="994.6" cy="286.0" r="1.38" fill="#7d40a0"/>
<circle cx="1003.2" cy="286.0" r="1.38" fill="#7d40a0"/>
<circle cx="1011.8" cy="285.6" r="1.38" fill="#7d40a0"/>
<circle cx="1016.1" cy="285.6" r="1.38" fill="#7d40a0"/>
<circle cx="1020.4" cy="285.5" r="1.38" fill="#7d40a0"/>
<circle cx="998.9" cy="289.0" r="1.38" fill="#7d40a0"/>
<circle cx="1007.5" cy="289.3" r="1.38" fill="#7d40a0"/>
<circle cx="1007.5" cy="292.5" r="1.38" fill="#7d40a0"/>
<circle cx="1003.2" cy="268.2" r="1.38" fill="#187a48"/>
<circle cx="1007.5" cy="267.8" r="1.38" fill="#187a48"/>
<circle cx="1011.8" cy="267.7" r="1.38" fill="#187a48"/>
<circle cx="1007.5" cy="271.3" r="1.38" fill="#187a48"/>
<circle cx="998.9" cy="284.5" r="1.38" fill="#187a48"/>
<circle cx="1007.5" cy="284.3" r="1.38" fill="#187a48"/>
<circle cx="1011.8" cy="284.4" r="1.38" fill="#187a48"/>
<circle cx="1003.2" cy="287.6" r="1.38" fill="#187a48"/>
<circle cx="1011.8" cy="287.9" r="1.38" fill="#187a48"/>
<circle cx="1016.1" cy="287.5" r="1.38" fill="#187a48"/>
<circle cx="1007.5" cy="291.2" r="1.38" fill="#187a48"/>
<circle cx="998.9" cy="294.4" r="1.38" fill="#187a48"/>
<circle cx="1011.8" cy="294.6" r="1.38" fill="#187a48"/>
<circle cx="1007.5" cy="297.5" r="1.38" fill="#187a48"/>
<circle cx="1011.8" cy="297.9" r="1.38" fill="#187a48"/>
<circle cx="998.9" cy="301.0" r="1.38" fill="#187a48"/>
<circle cx="1003.2" cy="304.6" r="1.38" fill="#187a48"/>
<circle cx="1007.5" cy="304.4" r="1.38" fill="#187a48"/>
<circle cx="1016.1" cy="304.2" r="1.38" fill="#187a48"/>
<circle cx="1011.8" cy="307.7" r="1.38" fill="#187a48"/>
<circle cx="1007.5" cy="310.6" r="1.38" fill="#187a48"/>
<circle cx="1011.8" cy="310.7" r="1.38" fill="#187a48"/>
<circle cx="998.9" cy="314.0" r="1.38" fill="#187a48"/>
<circle cx="1003.2" cy="314.3" r="1.38" fill="#187a48"/>
<circle cx="1011.8" cy="314.2" r="1.38" fill="#187a48"/>
<circle cx="998.9" cy="317.5" r="1.38" fill="#187a48"/>
<circle cx="1007.5" cy="317.8" r="1.38" fill="#187a48"/>
<circle cx="1003.2" cy="320.8" r="1.38" fill="#187a48"/>
<circle cx="1011.8" cy="320.5" r="1.38" fill="#187a48"/>
<circle cx="1007.5" cy="326.0" r="1.38" fill="#c4954f"/>
<circle cx="1081.7" cy="161.8" r="1.38" fill="#cf1f2a"/>
<circle cx="1081.7" cy="165.1" r="1.38" fill="#cf1f2a"/>
<circle cx="1073.1" cy="168.3" r="1.38" fill="#cf1f2a"/>
<circle cx="1077.4" cy="168.5" r="1.38" fill="#cf1f2a"/>
<circle cx="1081.7" cy="168.4" r="1.38" fill="#cf1f2a"/>
<circle cx="1086.0" cy="168.7" r="1.38" fill="#cf1f2a"/>
<circle cx="1081.7" cy="172.0" r="1.38" fill="#cf1f2a"/>
<circle cx="1086.0" cy="172.1" r="1.38" fill="#cf1f2a"/>
<circle cx="1086.0" cy="175.2" r="1.38" fill="#cf1f2a"/>
<circle cx="1090.3" cy="175.2" r="1.38" fill="#cf1f2a"/>
<circle cx="1068.8" cy="178.6" r="1.38" fill="#cf1f2a"/>
<circle cx="1073.1" cy="178.2" r="1.38" fill="#cf1f2a"/>
<circle cx="1081.7" cy="178.3" r="1.38" fill="#cf1f2a"/>
<circle cx="1090.3" cy="178.7" r="1.38" fill="#cf1f2a"/>
<circle cx="1068.8" cy="181.9" r="1.38" fill="#cf1f2a"/>
<circle cx="1073.1" cy="181.8" r="1.38" fill="#cf1f2a"/>
<circle cx="1077.4" cy="181.6" r="1.38" fill="#cf1f2a"/>
<circle cx="1068.8" cy="185.0" r="1.38" fill="#cf1f2a"/>
<circle cx="1073.1" cy="185.3" r="1.38" fill="#cf1f2a"/>
<circle cx="1077.4" cy="184.9" r="1.38" fill="#cf1f2a"/>
<circle cx="1081.7" cy="185.0" r="1.38" fill="#cf1f2a"/>
<circle cx="1077.4" cy="188.3" r="1.38" fill="#cf1f2a"/>
<circle cx="1086.0" cy="188.4" r="1.38" fill="#cf1f2a"/>
<circle cx="1090.3" cy="188.3" r="1.38" fill="#cf1f2a"/>
<circle cx="1094.6" cy="188.2" r="1.38" fill="#cf1f2a"/>
<circle cx="1073.1" cy="191.5" r="1.38" fill="#cf1f2a"/>
<circle cx="1077.4" cy="191.5" r="1.38" fill="#cf1f2a"/>
<circle cx="1094.6" cy="191.5" r="1.38" fill="#cf1f2a"/>
<circle cx="1068.8" cy="195.0" r="1.38" fill="#cf1f2a"/>
<circle cx="1086.0" cy="194.7" r="1.38" fill="#cf1f2a"/>
<circle cx="1090.3" cy="195.0" r="1.38" fill="#cf1f2a"/>
<circle cx="1094.6" cy="194.9" r="1.38" fill="#cf1f2a"/>
<circle cx="1068.8" cy="198.6" r="1.38" fill="#cf1f2a"/>
<circle cx="1073.1" cy="198.2" r="1.38" fill="#cf1f2a"/>
<circle cx="1077.4" cy="198.5" r="1.38" fill="#cf1f2a"/>
<circle cx="1081.7" cy="198.3" r="1.38" fill="#cf1f2a"/>
<circle cx="1086.0" cy="198.1" r="1.38" fill="#cf1f2a"/>
<circle cx="1073.1" cy="201.9" r="1.38" fill="#cf1f2a"/>
<circle cx="1086.0" cy="201.3" r="1.38" fill="#cf1f2a"/>
<circle cx="1081.7" cy="205.2" r="1.38" fill="#cf1f2a"/>
<circle cx="1090.3" cy="204.7" r="1.38" fill="#cf1f2a"/>
<circle cx="1081.7" cy="208.5" r="1.38" fill="#cf1f2a"/>
<circle cx="1086.0" cy="208.4" r="1.38" fill="#cf1f2a"/>
<circle cx="1081.7" cy="211.7" r="1.38" fill="#cf1f2a"/>
<circle cx="1086.0" cy="211.4" r="1.38" fill="#cf1f2a"/>
<circle cx="1090.3" cy="211.2" r="1.38" fill="#cf1f2a"/>
<circle cx="1094.6" cy="211.2" r="1.38" fill="#cf1f2a"/>
<circle cx="1081.7" cy="214.6" r="1.38" fill="#cf1f2a"/>
<circle cx="1090.3" cy="214.5" r="1.38" fill="#cf1f2a"/>
<circle cx="1077.4" cy="218.0" r="1.38" fill="#cf1f2a"/>
<circle cx="1090.3" cy="218.4" r="1.38" fill="#cf1f2a"/>
<circle cx="1073.1" cy="221.6" r="1.38" fill="#cf1f2a"/>
<circle cx="1077.4" cy="221.7" r="1.38" fill="#cf1f2a"/>
<circle cx="1086.0" cy="221.6" r="1.38" fill="#cf1f2a"/>
<circle cx="1073.1" cy="225.0" r="1.38" fill="#cf1f2a"/>
<circle cx="1081.7" cy="224.9" r="1.38" fill="#cf1f2a"/>
<circle cx="1073.1" cy="227.9" r="1.38" fill="#cf1f2a"/>
<circle cx="1090.3" cy="228.0" r="1.38" fill="#cf1f2a"/>
<circle cx="1081.7" cy="181.7" r="1.38" fill="#c4954f"/>
<circle cx="1073.1" cy="188.8" r="1.38" fill="#c4954f"/>
<circle cx="1077.4" cy="191.8" r="1.38" fill="#c4954f"/>
<circle cx="1081.7" cy="191.9" r="1.38" fill="#c4954f"/>
<circle cx="1073.1" cy="198.4" r="1.38" fill="#c4954f"/>
<circle cx="1081.7" cy="198.8" r="1.38" fill="#c4954f"/>
<circle cx="1090.3" cy="198.2" r="1.38" fill="#c4954f"/>
<circle cx="1068.8" cy="204.8" r="1.38" fill="#c4954f"/>
<circle cx="1068.8" cy="208.2" r="1.38" fill="#c4954f"/>
<circle cx="1090.3" cy="208.6" r="1.38" fill="#c4954f"/>
<circle cx="1094.6" cy="208.4" r="1.38" fill="#c4954f"/>
<circle cx="1090.3" cy="211.6" r="1.38" fill="#c4954f"/>
<circle cx="1077.4" cy="215.0" r="1.38" fill="#c4954f"/>
<circle cx="1086.0" cy="214.8" r="1.38" fill="#c4954f"/>
<circle cx="1094.6" cy="214.7" r="1.38" fill="#c4954f"/>
<circle cx="1068.8" cy="218.4" r="1.38" fill="#c4954f"/>
<circle cx="1094.6" cy="218.2" r="1.38" fill="#c4954f"/>
<circle cx="1090.3" cy="221.5" r="1.38" fill="#c4954f"/>
<circle cx="1094.6" cy="221.7" r="1.38" fill="#c4954f"/>
<circle cx="1081.7" cy="224.7" r="1.38" fill="#c4954f"/>
<circle cx="1086.0" cy="224.8" r="1.38" fill="#c4954f"/>
<circle cx="1073.1" cy="228.1" r="1.38" fill="#c4954f"/>
<circle cx="1081.7" cy="228.4" r="1.38" fill="#c4954f"/>
<circle cx="1094.6" cy="228.1" r="1.38" fill="#c4954f"/>
<circle cx="1077.4" cy="231.8" r="1.38" fill="#c4954f"/>
<circle cx="1064.5" cy="230.8" r="1.38" fill="#db6899"/>
<circle cx="1068.8" cy="230.8" r="1.38" fill="#db6899"/>
<circle cx="1077.4" cy="230.7" r="1.38" fill="#db6899"/>
<circle cx="1081.7" cy="231.3" r="1.38" fill="#db6899"/>
<circle cx="1098.9" cy="231.0" r="1.38" fill="#db6899"/>
<circle cx="1060.2" cy="234.3" r="1.38" fill="#db6899"/>
<circle cx="1064.5" cy="234.0" r="1.38" fill="#db6899"/>
<circle cx="1068.8" cy="234.2" r="1.38" fill="#db6899"/>
<circle cx="1073.1" cy="234.1" r="1.38" fill="#db6899"/>
<circle cx="1077.4" cy="234.0" r="1.38" fill="#db6899"/>
<circle cx="1094.6" cy="234.1" r="1.38" fill="#db6899"/>
<circle cx="1103.2" cy="234.1" r="1.38" fill="#db6899"/>
<circle cx="1077.4" cy="237.8" r="1.38" fill="#db6899"/>
<circle cx="1060.2" cy="241.0" r="1.38" fill="#db6899"/>
<circle cx="1073.1" cy="240.9" r="1.38" fill="#db6899"/>
<circle cx="1086.0" cy="241.2" r="1.38" fill="#db6899"/>
<circle cx="1094.6" cy="241.0" r="1.38" fill="#db6899"/>
<circle cx="1103.2" cy="241.2" r="1.38" fill="#db6899"/>
<circle cx="1060.2" cy="244.4" r="1.38" fill="#db6899"/>
<circle cx="1064.5" cy="244.1" r="1.38" fill="#db6899"/>
<circle cx="1068.8" cy="244.0" r="1.38" fill="#db6899"/>
<circle cx="1090.3" cy="244.1" r="1.38" fill="#db6899"/>
<circle cx="1094.6" cy="244.4" r="1.38" fill="#db6899"/>
<circle cx="1064.5" cy="247.7" r="1.38" fill="#db6899"/>
<circle cx="1073.1" cy="247.6" r="1.38" fill="#db6899"/>
<circle cx="1086.0" cy="247.2" r="1.38" fill="#db6899"/>
<circle cx="1098.9" cy="247.7" r="1.38" fill="#db6899"/>
<circle cx="1064.5" cy="250.6" r="1.38" fill="#db6899"/>
<circle cx="1077.4" cy="251.1" r="1.38" fill="#db6899"/>
<circle cx="1081.7" cy="251.0" r="1.38" fill="#db6899"/>
<circle cx="1090.3" cy="250.9" r="1.38" fill="#db6899"/>
<circle cx="1094.6" cy="251.1" r="1.38" fill="#db6899"/>
<circle cx="1098.9" cy="250.7" r="1.38" fill="#db6899"/>
<circle cx="1064.5" cy="244.2" r="1.38" fill="#7d40a0"/>
<circle cx="1068.8" cy="244.3" r="1.38" fill="#7d40a0"/>
<circle cx="1073.1" cy="244.3" r="1.38" fill="#7d40a0"/>
<circle cx="1077.4" cy="244.2" r="1.38" fill="#7d40a0"/>
<circle cx="1086.0" cy="244.1" r="1.38" fill="#7d40a0"/>
<circle cx="1090.3" cy="243.7" r="1.38" fill="#7d40a0"/>
<circle cx="1098.9" cy="244.2" r="1.38" fill="#7d40a0"/>
<circle cx="1064.5" cy="247.1" r="1.38" fill="#7d40a0"/>
<circle cx="1068.8" cy="247.5" r="1.38" fill="#7d40a0"/>
<circle cx="1073.1" cy="247.0" r="1.38" fill="#7d40a0"/>
<circle cx="1077.4" cy="247.2" r="1.38" fill="#7d40a0"/>
<circle cx="1090.3" cy="247.5" r="1.38" fill="#7d40a0"/>
<circle cx="1094.6" cy="247.5" r="1.38" fill="#7d40a0"/>
<circle cx="1064.5" cy="250.6" r="1.38" fill="#7d40a0"/>
<circle cx="1068.8" cy="250.6" r="1.38" fill="#7d40a0"/>
<circle cx="1081.7" cy="250.6" r="1.38" fill="#7d40a0"/>
<circle cx="1094.6" cy="250.3" r="1.38" fill="#7d40a0"/>
<circle cx="1098.9" cy="250.9" r="1.38" fill="#7d40a0"/>
<circle cx="1064.5" cy="254.2" r="1.38" fill="#7d40a0"/>
<circle cx="1077.4" cy="254.1" r="1.38" fill="#7d40a0"/>
<circle cx="1068.8" cy="257.2" r="1.38" fill="#7d40a0"/>
<circle cx="1073.1" cy="257.3" r="1.38" fill="#7d40a0"/>
<circle cx="1081.7" cy="257.1" r="1.38" fill="#7d40a0"/>
<circle cx="1086.0" cy="257.5" r="1.38" fill="#7d40a0"/>
<circle cx="1090.3" cy="257.2" r="1.38" fill="#7d40a0"/>
<circle cx="1077.4" cy="260.4" r="1.38" fill="#7d40a0"/>
<circle cx="1081.7" cy="260.4" r="1.38" fill="#7d40a0"/>
<circle cx="1086.0" cy="260.5" r="1.38" fill="#7d40a0"/>
<circle cx="1068.8" cy="263.6" r="1.38" fill="#7d40a0"/>
<circle cx="1081.7" cy="263.8" r="1.38" fill="#7d40a0"/>
<circle cx="1086.0" cy="263.9" r="1.38" fill="#7d40a0"/>
<circle cx="1094.6" cy="263.8" r="1.38" fill="#7d40a0"/>
<circle cx="1073.1" cy="267.2" r="1.38" fill="#7d40a0"/>
<circle cx="1077.4" cy="267.3" r="1.38" fill="#7d40a0"/>
<circle cx="1081.7" cy="270.6" r="1.38" fill="#7d40a0"/>
<circle cx="1086.0" cy="270.3" r="1.38" fill="#7d40a0"/>
<circle cx="1081.7" cy="289.6" r="1.38" fill="#187a48"/>
<circle cx="1077.4" cy="292.9" r="1.38" fill="#187a48"/>
<circle cx="1081.7" cy="292.6" r="1.38" fill="#187a48"/>
<circle cx="1086.0" cy="292.7" r="1.38" fill="#187a48"/>
<circle cx="1073.1" cy="299.1" r="1.38" fill="#187a48"/>
<circle cx="1086.0" cy="299.5" r="1.38" fill="#187a48"/>
<circle cx="1090.3" cy="298.9" r="1.38" fill="#187a48"/>
<circle cx="1073.1" cy="302.8" r="1.38" fill="#187a48"/>
<circle cx="1090.3" cy="302.4" r="1.38" fill="#187a48"/>
<circle cx="1073.1" cy="305.8" r="1.38" fill="#187a48"/>
<circle cx="1073.1" cy="309.2" r="1.38" fill="#187a48"/>
<circle cx="1077.4" cy="309.4" r="1.38" fill="#187a48"/>
<circle cx="1086.0" cy="309.4" r="1.38" fill="#187a48"/>
<circle cx="1073.1" cy="312.6" r="1.38" fill="#187a48"/>
<circle cx="1077.4" cy="312.5" r="1.38" fill="#187a48"/>
<circle cx="1081.7" cy="312.5" r="1.38" fill="#187a48"/>
<circle cx="1068.8" cy="315.6" r="1.38" fill="#187a48"/>
<circle cx="1081.7" cy="315.7" r="1.38" fill="#187a48"/>
<circle cx="1086.0" cy="315.8" r="1.38" fill="#187a48"/>
<circle cx="1090.3" cy="315.6" r="1.38" fill="#187a48"/>
<circle cx="1094.6" cy="315.5" r="1.38" fill="#187a48"/>
<circle cx="1090.3" cy="318.9" r="1.38" fill="#187a48"/>
<circle cx="1073.1" cy="322.5" r="1.38" fill="#187a48"/>
<circle cx="1086.0" cy="322.6" r="1.38" fill="#187a48"/>
<circle cx="1090.3" cy="322.0" r="1.38" fill="#187a48"/>
<circle cx="1077.4" cy="325.4" r="1.38" fill="#187a48"/>
<circle cx="1086.0" cy="325.6" r="1.38" fill="#187a48"/>
<circle cx="1090.3" cy="325.7" r="1.38" fill="#187a48"/>
<circle cx="1090.3" cy="329.0" r="1.38" fill="#187a48"/>
<circle cx="1077.4" cy="331.9" r="1.38" fill="#187a48"/>
<circle cx="1081.7" cy="332.3" r="1.38" fill="#187a48"/>
<circle cx="1086.0" cy="332.5" r="1.38" fill="#187a48"/>
<circle cx="1077.4" cy="335.5" r="1.38" fill="#187a48"/>
<circle cx="1081.7" cy="335.8" r="1.38" fill="#187a48"/>
<circle cx="1086.0" cy="335.3" r="1.38" fill="#187a48"/>
<circle cx="1081.7" cy="338.7" r="1.38" fill="#187a48"/>
<circle cx="1086.0" cy="339.1" r="1.38" fill="#187a48"/>
<circle cx="1077.4" cy="342.2" r="1.38" fill="#187a48"/>
<circle cx="1081.7" cy="342.4" r="1.38" fill="#187a48"/>
<circle cx="1086.0" cy="342.2" r="1.38" fill="#187a48"/>
<circle cx="1077.4" cy="345.4" r="1.38" fill="#187a48"/>
<circle cx="1081.7" cy="345.7" r="1.38" fill="#187a48"/>
<circle cx="1086.0" cy="345.6" r="1.38" fill="#187a48"/>
<circle cx="1081.7" cy="348.5" r="1.38" fill="#187a48"/>
<circle cx="1156.0" cy="159.7" r="1.38" fill="#cf1f2a"/>
<circle cx="1160.3" cy="159.9" r="1.38" fill="#cf1f2a"/>
<circle cx="1151.7" cy="163.2" r="1.38" fill="#cf1f2a"/>
<circle cx="1164.6" cy="163.3" r="1.38" fill="#cf1f2a"/>
<circle cx="1164.6" cy="166.9" r="1.38" fill="#cf1f2a"/>
<circle cx="1147.4" cy="169.8" r="1.38" fill="#cf1f2a"/>
<circle cx="1151.7" cy="169.8" r="1.38" fill="#cf1f2a"/>
<circle cx="1156.0" cy="170.2" r="1.38" fill="#cf1f2a"/>
<circle cx="1160.3" cy="169.9" r="1.38" fill="#cf1f2a"/>
<circle cx="1147.4" cy="173.2" r="1.38" fill="#cf1f2a"/>
<circle cx="1151.7" cy="173.2" r="1.38" fill="#cf1f2a"/>
<circle cx="1147.4" cy="176.5" r="1.38" fill="#cf1f2a"/>
<circle cx="1156.0" cy="176.8" r="1.38" fill="#cf1f2a"/>
<circle cx="1147.4" cy="179.7" r="1.38" fill="#cf1f2a"/>
<circle cx="1147.4" cy="183.2" r="1.38" fill="#cf1f2a"/>
<circle cx="1156.0" cy="183.4" r="1.38" fill="#cf1f2a"/>
<circle cx="1168.9" cy="183.3" r="1.38" fill="#cf1f2a"/>
<circle cx="1143.1" cy="186.4" r="1.38" fill="#cf1f2a"/>
<circle cx="1147.4" cy="186.4" r="1.38" fill="#cf1f2a"/>
<circle cx="1151.7" cy="186.4" r="1.38" fill="#cf1f2a"/>
<circle cx="1168.9" cy="186.2" r="1.38" fill="#cf1f2a"/>
<circle cx="1143.1" cy="189.6" r="1.38" fill="#cf1f2a"/>
<circle cx="1164.6" cy="189.6" r="1.38" fill="#cf1f2a"/>
<circle cx="1143.1" cy="193.1" r="1.38" fill="#cf1f2a"/>
<circle cx="1147.4" cy="193.1" r="1.38" fill="#cf1f2a"/>
<circle cx="1156.0" cy="193.3" r="1.38" fill="#cf1f2a"/>
<circle cx="1160.3" cy="192.7" r="1.38" fill="#cf1f2a"/>
<circle cx="1164.6" cy="192.8" r="1.38" fill="#cf1f2a"/>
<circle cx="1147.4" cy="196.6" r="1.38" fill="#cf1f2a"/>
<circle cx="1151.7" cy="196.1" r="1.38" fill="#cf1f2a"/>
<circle cx="1168.9" cy="196.6" r="1.38" fill="#cf1f2a"/>
<circle cx="1160.3" cy="199.6" r="1.38" fill="#cf1f2a"/>
<circle cx="1147.4" cy="202.8" r="1.38" fill="#cf1f2a"/>
<circle cx="1151.7" cy="202.7" r="1.38" fill="#cf1f2a"/>
<circle cx="1164.6" cy="203.0" r="1.38" fill="#cf1f2a"/>
<circle cx="1151.7" cy="205.9" r="1.38" fill="#cf1f2a"/>
<circle cx="1151.7" cy="209.5" r="1.38" fill="#cf1f2a"/>
<circle cx="1164.6" cy="212.7" r="1.38" fill="#cf1f2a"/>
<circle cx="1156.0" cy="216.1" r="1.38" fill="#cf1f2a"/>
<circle cx="1147.4" cy="219.7" r="1.38" fill="#cf1f2a"/>
<circle cx="1160.3" cy="219.7" r="1.38" fill="#cf1f2a"/>
<circle cx="1151.7" cy="196.0" r="1.38" fill="#c4954f"/>
<circle cx="1156.0" cy="196.0" r="1.38" fill="#c4954f"/>
<circle cx="1160.3" cy="195.7" r="1.38" fill="#c4954f"/>
<circle cx="1151.7" cy="199.0" r="1.38" fill="#c4954f"/>
<circle cx="1160.3" cy="199.6" r="1.38" fill="#c4954f"/>
<circle cx="1147.4" cy="202.4" r="1.38" fill="#c4954f"/>
<circle cx="1156.0" cy="202.8" r="1.38" fill="#c4954f"/>
<circle cx="1160.3" cy="202.9" r="1.38" fill="#c4954f"/>
<circle cx="1164.6" cy="202.3" r="1.38" fill="#c4954f"/>
<circle cx="1156.0" cy="206.0" r="1.38" fill="#c4954f"/>
<circle cx="1160.3" cy="205.9" r="1.38" fill="#c4954f"/>
<circle cx="1164.6" cy="205.9" r="1.38" fill="#c4954f"/>
<circle cx="1156.0" cy="209.2" r="1.38" fill="#c4954f"/>
<circle cx="1143.1" cy="219.0" r="1.38" fill="#c4954f"/>
<circle cx="1147.4" cy="219.3" r="1.38" fill="#c4954f"/>
<circle cx="1168.9" cy="219.0" r="1.38" fill="#c4954f"/>
<circle cx="1147.4" cy="222.7" r="1.38" fill="#c4954f"/>
<circle cx="1156.0" cy="222.2" r="1.38" fill="#c4954f"/>
<circle cx="1168.9" cy="222.4" r="1.38" fill="#c4954f"/>
<circle cx="1147.4" cy="226.0" r="1.38" fill="#c4954f"/>
<circle cx="1156.0" cy="225.6" r="1.38" fill="#c4954f"/>
<circle cx="1160.3" cy="226.0" r="1.38" fill="#c4954f"/>
<circle cx="1143.1" cy="225.3" r="1.38" fill="#db6899"/>
<circle cx="1147.4" cy="225.1" r="1.38" fill="#db6899"/>
<circle cx="1160.3" cy="224.8" r="1.38" fill="#db6899"/>
<circle cx="1168.9" cy="224.9" r="1.38" fill="#db6899"/>
<circle cx="1134.5" cy="228.1" r="1.38" fill="#db6899"/>
<circle cx="1143.1" cy="228.5" r="1.38" fill="#db6899"/>
<circle cx="1147.4" cy="228.5" r="1.38" fill="#db6899"/>
<circle cx="1156.0" cy="228.3" r="1.38" fill="#db6899"/>
<circle cx="1160.3" cy="228.0" r="1.38" fill="#db6899"/>
<circle cx="1168.9" cy="228.4" r="1.38" fill="#db6899"/>
<circle cx="1173.2" cy="228.6" r="1.38" fill="#db6899"/>
<circle cx="1138.8" cy="231.7" r="1.38" fill="#db6899"/>
<circle cx="1143.1" cy="231.6" r="1.38" fill="#db6899"/>
<circle cx="1147.4" cy="231.4" r="1.38" fill="#db6899"/>
<circle cx="1168.9" cy="231.6" r="1.38" fill="#db6899"/>
<circle cx="1173.2" cy="231.7" r="1.38" fill="#db6899"/>
<circle cx="1177.5" cy="231.8" r="1.38" fill="#db6899"/>
<circle cx="1134.5" cy="234.8" r="1.38" fill="#db6899"/>
<circle cx="1138.8" cy="234.6" r="1.38" fill="#db6899"/>
<circle cx="1143.1" cy="234.6" r="1.38" fill="#db6899"/>
<circle cx="1147.4" cy="234.8" r="1.38" fill="#db6899"/>
<circle cx="1156.0" cy="235.2" r="1.38" fill="#db6899"/>
<circle cx="1160.3" cy="235.1" r="1.38" fill="#db6899"/>
<circle cx="1164.6" cy="234.7" r="1.38" fill="#db6899"/>
<circle cx="1173.2" cy="234.6" r="1.38" fill="#db6899"/>
<circle cx="1177.5" cy="235.0" r="1.38" fill="#db6899"/>
<circle cx="1143.1" cy="238.4" r="1.38" fill="#db6899"/>
<circle cx="1147.4" cy="238.2" r="1.38" fill="#db6899"/>
<circle cx="1151.7" cy="238.1" r="1.38" fill="#db6899"/>
<circle cx="1160.3" cy="238.1" r="1.38" fill="#db6899"/>
<circle cx="1168.9" cy="238.4" r="1.38" fill="#db6899"/>
<circle cx="1173.2" cy="238.1" r="1.38" fill="#db6899"/>
<circle cx="1138.8" cy="241.8" r="1.38" fill="#db6899"/>
<circle cx="1143.1" cy="241.7" r="1.38" fill="#db6899"/>
<circle cx="1156.0" cy="241.7" r="1.38" fill="#db6899"/>
<circle cx="1160.3" cy="241.6" r="1.38" fill="#db6899"/>
<circle cx="1168.9" cy="241.7" r="1.38" fill="#db6899"/>
<circle cx="1177.5" cy="241.7" r="1.38" fill="#db6899"/>
<circle cx="1138.8" cy="241.7" r="1.38" fill="#7d40a0"/>
<circle cx="1151.7" cy="242.0" r="1.38" fill="#7d40a0"/>
<circle cx="1160.3" cy="242.3" r="1.38" fill="#7d40a0"/>
<circle cx="1164.6" cy="241.9" r="1.38" fill="#7d40a0"/>
<circle cx="1138.8" cy="245.1" r="1.38" fill="#7d40a0"/>
<circle cx="1143.1" cy="245.6" r="1.38" fill="#7d40a0"/>
<circle cx="1168.9" cy="245.1" r="1.38" fill="#7d40a0"/>
<circle cx="1143.1" cy="248.6" r="1.38" fill="#7d40a0"/>
<circle cx="1147.4" cy="248.9" r="1.38" fill="#7d40a0"/>
<circle cx="1156.0" cy="248.3" r="1.38" fill="#7d40a0"/>
<circle cx="1160.3" cy="248.6" r="1.38" fill="#7d40a0"/>
<circle cx="1164.6" cy="248.7" r="1.38" fill="#7d40a0"/>
<circle cx="1168.9" cy="248.5" r="1.38" fill="#7d40a0"/>
<circle cx="1147.4" cy="251.7" r="1.38" fill="#7d40a0"/>
<circle cx="1151.7" cy="252.2" r="1.38" fill="#7d40a0"/>
<circle cx="1160.3" cy="251.8" r="1.38" fill="#7d40a0"/>
<circle cx="1164.6" cy="252.2" r="1.38" fill="#7d40a0"/>
<circle cx="1160.3" cy="255.5" r="1.38" fill="#7d40a0"/>
<circle cx="1164.6" cy="255.4" r="1.38" fill="#7d40a0"/>
<circle cx="1147.4" cy="258.2" r="1.38" fill="#7d40a0"/>
<circle cx="1156.0" cy="258.8" r="1.38" fill="#7d40a0"/>
<circle cx="1160.3" cy="258.6" r="1.38" fill="#7d40a0"/>
<circle cx="1164.6" cy="258.2" r="1.38" fill="#7d40a0"/>
<circle cx="1151.7" cy="261.7" r="1.38" fill="#7d40a0"/>
<circle cx="1156.0" cy="267.8" r="1.38" fill="#187a48"/>
<circle cx="1160.3" cy="267.9" r="1.38" fill="#187a48"/>
<circle cx="1151.7" cy="271.5" r="1.38" fill="#187a48"/>
<circle cx="1156.0" cy="271.3" r="1.38" fill="#187a48"/>
<circle cx="1160.3" cy="271.2" r="1.38" fill="#187a48"/>
<circle cx="1151.7" cy="274.6" r="1.38" fill="#187a48"/>
<circle cx="1151.7" cy="278.2" r="1.38" fill="#187a48"/>
<circle cx="1156.0" cy="277.7" r="1.38" fill="#187a48"/>
<circle cx="1164.6" cy="281.5" r="1.38" fill="#187a48"/>
<circle cx="1164.6" cy="284.8" r="1.38" fill="#187a48"/>
<circle cx="1147.4" cy="288.1" r="1.38" fill="#187a48"/>
<circle cx="1151.7" cy="287.8" r="1.38" fill="#187a48"/>
<circle cx="1147.4" cy="291.2" r="1.38" fill="#187a48"/>
<circle cx="1156.0" cy="290.8" r="1.38" fill="#187a48"/>
<circle cx="1147.4" cy="294.3" r="1.38" fill="#187a48"/>
<circle cx="1151.7" cy="294.1" r="1.38" fill="#187a48"/>
<circle cx="1156.0" cy="294.3" r="1.38" fill="#187a48"/>
<circle cx="1160.3" cy="294.1" r="1.38" fill="#187a48"/>
<circle cx="1164.6" cy="294.7" r="1.38" fill="#187a48"/>
<circle cx="1143.1" cy="297.7" r="1.38" fill="#187a48"/>
<circle cx="1147.4" cy="297.7" r="1.38" fill="#187a48"/>
<circle cx="1151.7" cy="297.9" r="1.38" fill="#187a48"/>
<circle cx="1156.0" cy="300.7" r="1.38" fill="#187a48"/>
<circle cx="1160.3" cy="301.2" r="1.38" fill="#187a48"/>
<circle cx="1168.9" cy="301.2" r="1.38" fill="#187a48"/>
<circle cx="1147.4" cy="304.3" r="1.38" fill="#187a48"/>
<circle cx="1151.7" cy="304.2" r="1.38" fill="#187a48"/>
<circle cx="1156.0" cy="304.4" r="1.38" fill="#187a48"/>
<circle cx="1151.7" cy="307.3" r="1.38" fill="#187a48"/>
<circle cx="1156.0" cy="307.3" r="1.38" fill="#187a48"/>
<circle cx="1160.3" cy="307.5" r="1.38" fill="#187a48"/>
<circle cx="1164.6" cy="307.8" r="1.38" fill="#187a48"/>
<circle cx="1147.4" cy="310.9" r="1.38" fill="#187a48"/>
<circle cx="1156.0" cy="310.9" r="1.38" fill="#187a48"/>
<circle cx="1160.3" cy="310.9" r="1.38" fill="#187a48"/>
<circle cx="1156.0" cy="314.3" r="1.38" fill="#187a48"/>
<circle cx="1151.7" cy="317.6" r="1.38" fill="#187a48"/>
<circle cx="1160.3" cy="323.9" r="1.38" fill="#187a48"/>
<circle cx="1156.0" cy="327.1" r="1.38" fill="#187a48"/>
<circle cx="1225.9" cy="141.8" r="1.38" fill="#cf1f2a"/>
<circle cx="1234.5" cy="142.2" r="1.38" fill="#cf1f2a"/>
<circle cx="1225.9" cy="145.5" r="1.38" fill="#cf1f2a"/>
<circle cx="1230.2" cy="145.3" r="1.38" fill="#cf1f2a"/>
<circle cx="1230.2" cy="148.7" r="1.38" fill="#cf1f2a"/>
<circle cx="1234.5" cy="148.4" r="1.38" fill="#cf1f2a"/>
<circle cx="1230.2" cy="151.8" r="1.38" fill="#cf1f2a"/>
<circle cx="1234.5" cy="152.0" r="1.38" fill="#cf1f2a"/>
<circle cx="1221.6" cy="155.1" r="1.38" fill="#cf1f2a"/>
<circle cx="1230.2" cy="155.2" r="1.38" fill="#cf1f2a"/>
<circle cx="1234.5" cy="155.0" r="1.38" fill="#cf1f2a"/>
<circle cx="1238.8" cy="155.3" r="1.38" fill="#cf1f2a"/>
<circle cx="1221.6" cy="158.3" r="1.38" fill="#cf1f2a"/>
<circle cx="1225.9" cy="158.7" r="1.38" fill="#cf1f2a"/>
<circle cx="1234.5" cy="158.4" r="1.38" fill="#cf1f2a"/>
<circle cx="1238.8" cy="158.5" r="1.38" fill="#cf1f2a"/>
<circle cx="1225.9" cy="161.6" r="1.38" fill="#cf1f2a"/>
<circle cx="1234.5" cy="161.9" r="1.38" fill="#cf1f2a"/>
<circle cx="1238.8" cy="161.5" r="1.38" fill="#cf1f2a"/>
<circle cx="1221.6" cy="165.4" r="1.38" fill="#cf1f2a"/>
<circle cx="1230.2" cy="165.0" r="1.38" fill="#cf1f2a"/>
<circle cx="1238.8" cy="165.3" r="1.38" fill="#cf1f2a"/>
<circle cx="1221.6" cy="168.4" r="1.38" fill="#cf1f2a"/>
<circle cx="1230.2" cy="168.7" r="1.38" fill="#cf1f2a"/>
<circle cx="1238.8" cy="168.6" r="1.38" fill="#cf1f2a"/>
<circle cx="1221.6" cy="171.8" r="1.38" fill="#cf1f2a"/>
<circle cx="1234.5" cy="171.4" r="1.38" fill="#cf1f2a"/>
<circle cx="1225.9" cy="175.3" r="1.38" fill="#cf1f2a"/>
<circle cx="1234.5" cy="175.3" r="1.38" fill="#cf1f2a"/>
<circle cx="1238.8" cy="174.9" r="1.38" fill="#cf1f2a"/>
<circle cx="1221.6" cy="178.1" r="1.38" fill="#cf1f2a"/>
<circle cx="1230.2" cy="178.6" r="1.38" fill="#cf1f2a"/>
<circle cx="1234.5" cy="178.4" r="1.38" fill="#cf1f2a"/>
<circle cx="1238.8" cy="178.6" r="1.38" fill="#cf1f2a"/>
<circle cx="1238.8" cy="181.4" r="1.38" fill="#cf1f2a"/>
<circle cx="1230.2" cy="185.2" r="1.38" fill="#cf1f2a"/>
<circle cx="1234.5" cy="185.1" r="1.38" fill="#cf1f2a"/>
<circle cx="1238.8" cy="184.8" r="1.38" fill="#cf1f2a"/>
<circle cx="1225.9" cy="188.5" r="1.38" fill="#cf1f2a"/>
<circle cx="1221.6" cy="191.7" r="1.38" fill="#cf1f2a"/>
<circle cx="1230.2" cy="191.5" r="1.38" fill="#cf1f2a"/>
<circle cx="1238.8" cy="191.2" r="1.38" fill="#cf1f2a"/>
<circle cx="1221.6" cy="194.8" r="1.38" fill="#cf1f2a"/>
<circle cx="1234.5" cy="194.6" r="1.38" fill="#cf1f2a"/>
<circle cx="1238.8" cy="194.6" r="1.38" fill="#cf1f2a"/>
<circle cx="1221.6" cy="198.1" r="1.38" fill="#cf1f2a"/>
<circle cx="1230.2" cy="197.9" r="1.38" fill="#cf1f2a"/>
<circle cx="1234.5" cy="198.1" r="1.38" fill="#cf1f2a"/>
<circle cx="1238.8" cy="198.2" r="1.38" fill="#cf1f2a"/>
<circle cx="1238.8" cy="201.4" r="1.38" fill="#cf1f2a"/>
<circle cx="1221.6" cy="204.5" r="1.38" fill="#cf1f2a"/>
<circle cx="1225.9" cy="204.8" r="1.38" fill="#cf1f2a"/>
<circle cx="1234.5" cy="204.5" r="1.38" fill="#cf1f2a"/>
<circle cx="1230.2" cy="208.3" r="1.38" fill="#cf1f2a"/>
<circle cx="1221.6" cy="211.3" r="1.38" fill="#cf1f2a"/>
<circle cx="1225.9" cy="211.1" r="1.38" fill="#cf1f2a"/>
<circle cx="1234.5" cy="211.1" r="1.38" fill="#cf1f2a"/>
<circle cx="1238.8" cy="211.6" r="1.38" fill="#cf1f2a"/>
<circle cx="1225.9" cy="214.5" r="1.38" fill="#cf1f2a"/>
<circle cx="1234.5" cy="214.6" r="1.38" fill="#cf1f2a"/>
<circle cx="1225.9" cy="175.9" r="1.38" fill="#c4954f"/>
<circle cx="1230.2" cy="176.3" r="1.38" fill="#c4954f"/>
<circle cx="1221.6" cy="179.2" r="1.38" fill="#c4954f"/>
<circle cx="1225.9" cy="179.1" r="1.38" fill="#c4954f"/>
<circle cx="1230.2" cy="179.4" r="1.38" fill="#c4954f"/>
<circle cx="1234.5" cy="179.1" r="1.38" fill="#c4954f"/>
<circle cx="1238.8" cy="179.5" r="1.38" fill="#c4954f"/>
<circle cx="1221.6" cy="182.4" r="1.38" fill="#c4954f"/>
<circle cx="1238.8" cy="182.8" r="1.38" fill="#c4954f"/>
<circle cx="1225.9" cy="185.8" r="1.38" fill="#c4954f"/>
<circle cx="1238.8" cy="186.2" r="1.38" fill="#c4954f"/>
<circle cx="1221.6" cy="189.0" r="1.38" fill="#c4954f"/>
<circle cx="1238.8" cy="188.9" r="1.38" fill="#c4954f"/>
<circle cx="1221.6" cy="192.6" r="1.38" fill="#c4954f"/>
<circle cx="1230.2" cy="192.6" r="1.38" fill="#c4954f"/>
<circle cx="1238.8" cy="192.8" r="1.38" fill="#c4954f"/>
<circle cx="1217.3" cy="195.7" r="1.38" fill="#c4954f"/>
<circle cx="1234.5" cy="195.9" r="1.38" fill="#c4954f"/>
<circle cx="1238.8" cy="196.0" r="1.38" fill="#c4954f"/>
<circle cx="1238.8" cy="198.8" r="1.38" fill="#c4954f"/>
<circle cx="1217.3" cy="202.1" r="1.38" fill="#c4954f"/>
<circle cx="1234.5" cy="202.1" r="1.38" fill="#c4954f"/>
<circle cx="1238.8" cy="202.3" r="1.38" fill="#c4954f"/>
<circle cx="1243.1" cy="202.2" r="1.38" fill="#c4954f"/>
<circle cx="1230.2" cy="205.8" r="1.38" fill="#c4954f"/>
<circle cx="1234.5" cy="205.7" r="1.38" fill="#c4954f"/>
<circle cx="1243.1" cy="205.9" r="1.38" fill="#c4954f"/>
<circle cx="1217.3" cy="209.2" r="1.38" fill="#c4954f"/>
<circle cx="1230.2" cy="208.7" r="1.38" fill="#c4954f"/>
<circle cx="1243.1" cy="209.1" r="1.38" fill="#c4954f"/>
<circle cx="1225.9" cy="212.1" r="1.38" fill="#c4954f"/>
<circle cx="1230.2" cy="212.4" r="1.38" fill="#c4954f"/>
<circle cx="1234.5" cy="212.4" r="1.38" fill="#c4954f"/>
<circle cx="1238.8" cy="212.4" r="1.38" fill="#c4954f"/>
<circle cx="1243.1" cy="212.3" r="1.38" fill="#c4954f"/>
<circle cx="1208.7" cy="217.3" r="1.38" fill="#db6899"/>
<circle cx="1213.0" cy="217.2" r="1.38" fill="#db6899"/>
<circle cx="1217.3" cy="216.8" r="1.38" fill="#db6899"/>
<circle cx="1225.9" cy="217.2" r="1.38" fill="#db6899"/>
<circle cx="1234.5" cy="217.1" r="1.38" fill="#db6899"/>
<circle cx="1247.4" cy="216.9" r="1.38" fill="#db6899"/>
<circle cx="1208.7" cy="220.6" r="1.38" fill="#db6899"/>
<circle cx="1213.0" cy="220.2" r="1.38" fill="#db6899"/>
<circle cx="1225.9" cy="220.4" r="1.38" fill="#db6899"/>
<circle cx="1234.5" cy="220.3" r="1.38" fill="#db6899"/>
<circle cx="1247.4" cy="220.2" r="1.38" fill="#db6899"/>
<circle cx="1251.7" cy="220.4" r="1.38" fill="#db6899"/>
<circle cx="1204.4" cy="223.8" r="1.38" fill="#db6899"/>
<circle cx="1208.7" cy="223.8" r="1.38" fill="#db6899"/>
<circle cx="1213.0" cy="223.9" r="1.38" fill="#db6899"/>
<circle cx="1221.6" cy="223.3" r="1.38" fill="#db6899"/>
<circle cx="1225.9" cy="223.4" r="1.38" fill="#db6899"/>
<circle cx="1238.8" cy="223.3" r="1.38" fill="#db6899"/>
<circle cx="1243.1" cy="223.6" r="1.38" fill="#db6899"/>
<circle cx="1247.4" cy="223.8" r="1.38" fill="#db6899"/>
<circle cx="1256.0" cy="223.9" r="1.38" fill="#db6899"/>
<circle cx="1208.7" cy="226.9" r="1.38" fill="#db6899"/>
<circle cx="1213.0" cy="226.7" r="1.38" fill="#db6899"/>
<circle cx="1217.3" cy="226.7" r="1.38" fill="#db6899"/>
<circle cx="1221.6" cy="226.7" r="1.38" fill="#db6899"/>
<circle cx="1225.9" cy="226.6" r="1.38" fill="#db6899"/>
<circle cx="1230.2" cy="227.2" r="1.38" fill="#db6899"/>
<circle cx="1234.5" cy="226.9" r="1.38" fill="#db6899"/>
<circle cx="1238.8" cy="227.2" r="1.38" fill="#db6899"/>
<circle cx="1243.1" cy="227.1" r="1.38" fill="#db6899"/>
<circle cx="1247.4" cy="226.8" r="1.38" fill="#db6899"/>
<circle cx="1251.7" cy="226.9" r="1.38" fill="#db6899"/>
<circle cx="1217.3" cy="230.3" r="1.38" fill="#db6899"/>
<circle cx="1221.6" cy="230.1" r="1.38" fill="#db6899"/>
<circle cx="1225.9" cy="230.2" r="1.38" fill="#db6899"/>
<circle cx="1230.2" cy="229.9" r="1.38" fill="#db6899"/>
<circle cx="1234.5" cy="229.9" r="1.38" fill="#db6899"/>
<circle cx="1238.8" cy="230.3" r="1.38" fill="#db6899"/>
<circle cx="1247.4" cy="230.0" r="1.38" fill="#db6899"/>
<circle cx="1221.6" cy="231.8" r="1.38" fill="#7d40a0"/>
<circle cx="1230.2" cy="231.9" r="1.38" fill="#7d40a0"/>
<circle cx="1234.5" cy="231.8" r="1.38" fill="#7d40a0"/>
<circle cx="1243.1" cy="232.2" r="1.38" fill="#7d40a0"/>
<circle cx="1217.3" cy="235.1" r="1.38" fill="#7d40a0"/>
<circle cx="1221.6" cy="235.3" r="1.38" fill="#7d40a0"/>
<circle cx="1225.9" cy="235.3" r="1.38" fill="#7d40a0"/>
<circle cx="1230.2" cy="235.2" r="1.38" fill="#7d40a0"/>
<circle cx="1234.5" cy="235.3" r="1.38" fill="#7d40a0"/>
<circle cx="1238.8" cy="235.6" r="1.38" fill="#7d40a0"/>
<circle cx="1217.3" cy="238.5" r="1.38" fill="#7d40a0"/>
<circle cx="1225.9" cy="238.5" r="1.38" fill="#7d40a0"/>
<circle cx="1230.2" cy="238.8" r="1.38" fill="#7d40a0"/>
<circle cx="1243.1" cy="238.8" r="1.38" fill="#7d40a0"/>
<circle cx="1213.0" cy="241.9" r="1.38" fill="#7d40a0"/>
<circle cx="1221.6" cy="242.2" r="1.38" fill="#7d40a0"/>
<circle cx="1230.2" cy="241.9" r="1.38" fill="#7d40a0"/>
<circle cx="1234.5" cy="242.2" r="1.38" fill="#7d40a0"/>
<circle cx="1243.1" cy="241.8" r="1.38" fill="#7d40a0"/>
<circle cx="1247.4" cy="242.0" r="1.38" fill="#7d40a0"/>
<circle cx="1225.9" cy="245.3" r="1.38" fill="#7d40a0"/>
<circle cx="1230.2" cy="245.2" r="1.38" fill="#7d40a0"/>
<circle cx="1217.3" cy="248.8" r="1.38" fill="#7d40a0"/>
<circle cx="1234.5" cy="248.3" r="1.38" fill="#7d40a0"/>
<circle cx="1238.8" cy="248.5" r="1.38" fill="#7d40a0"/>
<circle cx="1221.6" cy="252.1" r="1.38" fill="#7d40a0"/>
<circle cx="1230.2" cy="251.5" r="1.38" fill="#7d40a0"/>
<circle cx="1238.8" cy="252.0" r="1.38" fill="#7d40a0"/>
<circle cx="1230.2" cy="265.7" r="1.38" fill="#c4954f"/>
<circle cx="1225.9" cy="273.0" r="1.38" fill="#187a48"/>
<circle cx="1225.9" cy="276.7" r="1.38" fill="#187a48"/>
<circle cx="1230.2" cy="276.9" r="1.38" fill="#187a48"/>
<circle cx="1234.5" cy="279.7" r="1.38" fill="#187a48"/>
<circle cx="1221.6" cy="283.5" r="1.38" fill="#187a48"/>
<circle cx="1225.9" cy="283.2" r="1.38" fill="#187a48"/>
<circle cx="1230.2" cy="283.0" r="1.38" fill="#187a48"/>
<circle cx="1234.5" cy="283.1" r="1.38" fill="#187a48"/>
<circle cx="1238.8" cy="283.5" r="1.38" fill="#187a48"/>
<circle cx="1221.6" cy="286.3" r="1.38" fill="#187a48"/>
<circle cx="1234.5" cy="286.4" r="1.38" fill="#187a48"/>
<circle cx="1238.8" cy="286.2" r="1.38" fill="#187a48"/>
<circle cx="1221.6" cy="289.8" r="1.38" fill="#187a48"/>
<circle cx="1225.9" cy="289.6" r="1.38" fill="#187a48"/>
<circle cx="1234.5" cy="289.8" r="1.38" fill="#187a48"/>
<circle cx="1234.5" cy="293.3" r="1.38" fill="#187a48"/>
<circle cx="1238.8" cy="292.8" r="1.38" fill="#187a48"/>
<circle cx="1221.6" cy="296.1" r="1.38" fill="#187a48"/>
<circle cx="1225.9" cy="296.2" r="1.38" fill="#187a48"/>
<circle cx="1238.8" cy="296.4" r="1.38" fill="#187a48"/>
<circle cx="1230.2" cy="299.7" r="1.38" fill="#187a48"/>
<circle cx="1234.5" cy="299.7" r="1.38" fill="#187a48"/>
<circle cx="1221.6" cy="302.9" r="1.38" fill="#187a48"/>
<circle cx="1234.5" cy="302.9" r="1.38" fill="#187a48"/>
<circle cx="1238.8" cy="303.3" r="1.38" fill="#187a48"/>
<circle cx="1221.6" cy="306.6" r="1.38" fill="#187a48"/>
<circle cx="1234.5" cy="306.4" r="1.38" fill="#187a48"/>
<circle cx="1238.8" cy="306.1" r="1.38" fill="#187a48"/>
<circle cx="1225.9" cy="309.6" r="1.38" fill="#187a48"/>
<circle cx="1225.9" cy="313.2" r="1.38" fill="#187a48"/>
<circle cx="1230.2" cy="312.6" r="1.38" fill="#187a48"/>
<circle cx="1234.5" cy="312.8" r="1.38" fill="#187a48"/>
<circle cx="1238.8" cy="312.8" r="1.38" fill="#187a48"/>
<circle cx="1225.9" cy="316.5" r="1.38" fill="#187a48"/>
<circle cx="1230.2" cy="316.1" r="1.38" fill="#187a48"/>
<circle cx="1234.5" cy="316.3" r="1.38" fill="#187a48"/>
<circle cx="1225.9" cy="319.7" r="1.38" fill="#187a48"/>
<circle cx="1230.2" cy="319.8" r="1.38" fill="#187a48"/>
<circle cx="1230.2" cy="322.9" r="1.38" fill="#187a48"/>
<circle cx="1221.6" cy="296.4" r="1.38" fill="#187a48"/>
<circle cx="1225.9" cy="296.6" r="1.38" fill="#187a48"/>
<circle cx="1234.5" cy="296.6" r="1.38" fill="#187a48"/>
<circle cx="1238.8" cy="296.6" r="1.38" fill="#187a48"/>
<circle cx="1243.1" cy="296.6" r="1.38" fill="#187a48"/>
</g>
<text class="xl" transform="translate(202.5,592.0) rotate(-45)" text-anchor="end">LR-Bilinear</text>
<text class="xl" transform="translate(278.0,592.0) rotate(-45)" text-anchor="end">LR-CARE-RA</text>
<text class="xl" transform="translate(353.5,592.0) rotate(-45)" text-anchor="end">LR-PSSR-SF-RA</text>
<text class="xl" transform="translate(428.5,592.0) rotate(-45)" text-anchor="end">LR-CARE</text>
<text class="xl" transform="translate(504.0,592.0) rotate(-45)" text-anchor="end">LR-PSSR-SF</text>
<text class="xl" transform="translate(579.5,592.0) rotate(-45)" text-anchor="end">LR-PSSR-MF</text>
<text class="xr" transform="translate(867.9,583.0) rotate(-45)" text-anchor="end">LR-Bilinear</text>
<text class="xr" transform="translate(942.2,583.0) rotate(-45)" text-anchor="end">LR-CARE-RA</text>
<text class="xr" transform="translate(1016.5,583.0) rotate(-45)" text-anchor="end">LR-PSSR-SF-RA</text>
<text class="xr" transform="translate(1090.7,583.0) rotate(-45)" text-anchor="end">LR-CARE</text>
<text class="xr" transform="translate(1165.0,583.0) rotate(-45)" text-anchor="end">LR-PSSR-SF</text>
<text class="xr" transform="translate(1239.2,583.0) rotate(-45)" text-anchor="end">LR-PSSR-MF</text>
</svg></body></html>
